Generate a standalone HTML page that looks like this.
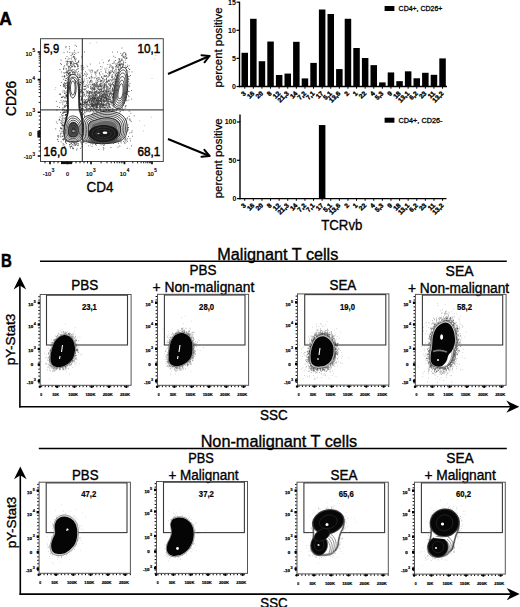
<!DOCTYPE html>
<html><head><meta charset="utf-8"><style>
html,body{margin:0;padding:0;background:#fff;width:520px;height:607px;overflow:hidden}
svg{display:block}
</style></head><body>
<svg width="520" height="607" viewBox="0 0 520 607" font-family='"Liberation Sans", sans-serif'>
<rect width="520" height="607" fill="#fff"/>
<text x="-0.80" y="25.30" font-size="18" text-anchor="start" font-weight="bold" fill="#000" stroke="#000" stroke-width="0.5" textLength="12.6" lengthAdjust="spacingAndGlyphs" >A</text>
<path d="M98.4,98.6h0.8M98.7,89.5h0.8M91.7,90.7h0.8M112.1,97.7h0.8M111.4,95.7h0.8M104.9,95.0h0.8M84.3,102.4h0.8M106.1,98.5h0.8M84.1,73.8h0.8M92.1,87.8h0.8M104.1,92.5h0.8M106.2,85.9h0.8M104.1,97.3h0.8M94.4,111.9h0.8M106.6,106.2h0.8M94.8,84.9h0.8M97.6,91.8h0.8M107.3,95.7h0.8M96.5,82.5h0.8M95.8,106.4h0.8M92.9,95.7h0.8M105.3,76.6h0.8M101.5,107.4h0.8M80.9,89.5h0.8M99.9,84.0h0.8M106.0,92.3h0.8M86.4,102.1h0.8M107.7,103.4h0.8M115.4,97.0h0.8M102.2,78.7h0.8M107.2,86.3h0.8M96.5,79.1h0.8M91.3,87.2h0.8M113.9,70.7h0.8M86.4,95.6h0.8M115.4,99.4h0.8M82.0,65.3h0.8M104.6,84.9h0.8M89.8,103.8h0.8M112.0,94.7h0.8M103.5,97.8h0.8M116.9,99.8h0.8M106.2,99.0h0.8M85.3,107.1h0.8M110.6,98.8h0.8M81.3,86.0h0.8M109.4,73.1h0.8M99.2,104.2h0.8M87.9,110.7h0.8M106.5,91.3h0.8M104.2,100.1h0.8M102.2,105.6h0.8M94.4,88.4h0.8M111.4,93.3h0.8M92.2,103.4h0.8M115.7,88.1h0.8M87.2,91.5h0.8M99.5,89.7h0.8M115.0,81.7h0.8M113.6,79.0h0.8M93.1,99.9h0.8M112.3,102.4h0.8M104.5,94.6h0.8M102.5,99.3h0.8M99.2,96.1h0.8M106.7,93.0h0.8M108.6,99.2h0.8M121.1,96.6h0.8M96.7,88.9h0.8M100.9,103.2h0.8M97.6,97.2h0.8M119.4,64.8h0.8M89.8,95.7h0.8M105.0,95.6h0.8M96.7,100.2h0.8M103.8,87.3h0.8M95.5,91.9h0.8M98.7,92.3h0.8M111.1,80.1h0.8M100.3,103.5h0.8M109.6,109.4h0.8M84.0,89.1h0.8M97.6,99.9h0.8M111.9,63.5h0.8M111.9,77.1h0.8M107.8,76.6h0.8M102.8,106.1h0.8M99.5,95.1h0.8M109.0,94.6h0.8M100.1,109.9h0.8M111.5,89.8h0.8M110.1,90.1h0.8M102.3,100.8h0.8M103.2,100.0h0.8M85.7,76.4h0.8M107.1,82.4h0.8M90.7,76.8h0.8M113.7,101.2h0.8M115.7,82.7h0.8M101.0,80.5h0.8M108.7,110.5h0.8M92.1,110.2h0.8M110.9,91.0h0.8M81.3,108.5h0.8M100.0,86.4h0.8M105.0,97.5h0.8M116.0,81.8h0.8M112.4,109.4h0.8M115.5,91.0h0.8M93.6,104.2h0.8M102.2,94.4h0.8M115.2,90.1h0.8M82.5,102.0h0.8M104.2,86.3h0.8M100.9,102.2h0.8M101.8,107.6h0.8M100.4,104.4h0.8M115.9,110.7h0.8M94.3,102.7h0.8M82.2,81.1h0.8M81.4,104.8h0.8M88.7,92.9h0.8M99.1,92.7h0.8M95.1,95.6h0.8M118.9,93.5h0.8M106.3,104.0h0.8M99.0,79.1h0.8M95.4,104.8h0.8M84.5,86.4h0.8M111.1,101.7h0.8M101.1,101.9h0.8M102.7,80.0h0.8M85.4,86.0h0.8M110.2,86.8h0.8M92.0,84.5h0.8M85.7,91.7h0.8M89.2,97.0h0.8M94.6,71.6h0.8M108.2,90.0h0.8M103.9,88.0h0.8M108.8,101.2h0.8M107.7,96.6h0.8M114.3,100.3h0.8M105.5,70.1h0.8M110.0,107.4h0.8M98.0,87.8h0.8M120.4,73.7h0.8M91.7,100.6h0.8M119.9,91.7h0.8M106.6,102.9h0.8M91.9,92.0h0.8M103.9,102.1h0.8M100.7,90.9h0.8M90.8,89.1h0.8M109.9,94.1h0.8M92.5,83.7h0.8M107.4,64.5h0.8M107.2,98.3h0.8M117.8,97.7h0.8M100.3,98.7h0.8M81.6,104.4h0.8M104.2,85.3h0.8M87.0,85.7h0.8M103.9,95.0h0.8M97.0,82.3h0.8M122.2,104.4h0.8M89.1,78.2h0.8M118.0,103.9h0.8M119.2,101.9h0.8M92.3,95.9h0.8M100.4,98.8h0.8M93.7,91.6h0.8M105.6,97.1h0.8M107.4,95.3h0.8M97.8,101.7h0.8M101.5,83.9h0.8M94.7,93.0h0.8M99.9,94.7h0.8M101.0,94.9h0.8M99.7,79.2h0.8M105.2,104.6h0.8M105.3,90.9h0.8M105.5,82.4h0.8M82.0,93.7h0.8M91.7,101.1h0.8M90.2,64.1h0.8M90.6,110.4h0.8M97.2,77.9h0.8M93.4,98.7h0.8M106.0,94.9h0.8M115.8,100.8h0.8M100.8,99.6h0.8M117.5,103.7h0.8M111.2,81.1h0.8M99.5,101.0h0.8M98.0,104.8h0.8M107.0,103.0h0.8M113.4,90.6h0.8M97.6,102.6h0.8M110.8,93.1h0.8M89.3,95.1h0.8M104.6,105.4h0.8M108.8,93.3h0.8M109.5,98.9h0.8M103.1,93.6h0.8M98.6,100.5h0.8M90.5,86.1h0.8M101.0,76.9h0.8M96.6,70.9h0.8M94.2,99.3h0.8M106.7,92.4h0.8M98.7,77.4h0.8M119.3,98.7h0.8M111.9,83.3h0.8M99.1,73.0h0.8M108.8,103.3h0.8M82.0,92.4h0.8M107.3,73.6h0.8M82.7,81.3h0.8M94.7,77.6h0.8M101.3,95.7h0.8M107.3,100.7h0.8M116.0,105.8h0.8M87.9,87.4h0.8M90.4,81.2h0.8M100.2,93.1h0.8M105.9,75.5h0.8M88.6,92.7h0.8M99.0,89.6h0.8M100.4,84.6h0.8M108.0,96.9h0.8M100.1,85.6h0.8M99.3,63.1h0.8M91.2,93.4h0.8M86.0,95.2h0.8M102.5,77.8h0.8M98.5,89.5h0.8M105.6,99.7h0.8M100.6,83.6h0.8M99.6,92.3h0.8M108.3,96.2h0.8M93.8,78.1h0.8M97.3,84.9h0.8M89.9,91.7h0.8M96.1,94.2h0.8M106.2,88.5h0.8M112.0,94.3h0.8M112.2,66.9h0.8M93.5,95.7h0.8M104.2,107.1h0.8M108.7,103.4h0.8M106.1,91.3h0.8M106.1,81.1h0.8M112.8,81.8h0.8M98.8,93.2h0.8M112.6,93.3h0.8M92.9,95.8h0.8M106.8,100.8h0.8M117.7,93.2h0.8M103.7,88.3h0.8M115.1,85.2h0.8M107.7,87.7h0.8M94.1,100.9h0.8M114.3,92.9h0.8M94.2,101.9h0.8M100.5,96.4h0.8M116.2,105.4h0.8M101.0,101.6h0.8M94.5,92.5h0.8M114.7,79.6h0.8M85.9,75.2h0.8M112.8,87.9h0.8M100.4,89.6h0.8M99.8,81.0h0.8M101.2,77.2h0.8M100.3,96.4h0.8M105.7,90.5h0.8M92.0,94.8h0.8M96.2,110.2h0.8M108.7,91.7h0.8M96.3,85.3h0.8M91.6,89.1h0.8M103.9,98.7h0.8M94.0,93.1h0.8M95.8,94.9h0.8M102.5,97.5h0.8M98.6,97.0h0.8M101.5,101.5h0.8M82.1,83.3h0.8M101.0,81.6h0.8M90.6,99.9h0.8M94.5,100.0h0.8M108.5,96.4h0.8M106.1,91.8h0.8M86.9,92.7h0.8M105.5,87.2h0.8M100.0,101.2h0.8M92.2,100.0h0.8M119.6,86.9h0.8M102.5,91.3h0.8M116.4,96.5h0.8M110.0,85.4h0.8M100.8,92.9h0.8M83.2,108.8h0.8M110.0,73.8h0.8M108.4,91.6h0.8M105.5,97.0h0.8M86.0,90.7h0.8M115.9,86.7h0.8M90.8,78.0h0.8M88.8,96.7h0.8M117.9,97.7h0.8M95.8,85.6h0.8M106.3,99.0h0.8M90.9,80.1h0.8M103.9,95.7h0.8M87.9,90.8h0.8M95.6,98.1h0.8M99.8,92.1h0.8M97.5,104.6h0.8M114.9,89.0h0.8M109.5,84.7h0.8M101.7,101.2h0.8M116.1,88.8h0.8M100.3,95.2h0.8M86.0,93.2h0.8M94.2,97.1h0.8M89.7,71.3h0.8M101.4,95.9h0.8M95.5,102.8h0.8M98.3,86.3h0.8M105.8,75.7h0.8M94.2,92.8h0.8M109.5,91.2h0.8M104.1,85.8h0.8M104.0,111.3h0.8M94.6,93.2h0.8M102.7,104.3h0.8M88.6,69.9h0.8M107.1,101.7h0.8M103.0,95.8h0.8M110.3,97.1h0.8M117.6,79.4h0.8M109.1,88.9h0.8M100.9,90.2h0.8M96.0,83.8h0.8M94.7,100.0h0.8M101.4,93.7h0.8M99.3,103.1h0.8M105.9,91.4h0.8M107.6,91.3h0.8M89.5,109.0h0.8M105.7,82.5h0.8M111.8,96.8h0.8M85.4,110.7h0.8M104.3,102.8h0.8M103.0,91.4h0.8M85.5,103.7h0.8M101.3,89.8h0.8M104.5,93.9h0.8M107.8,88.9h0.8M100.6,69.5h0.8M96.8,100.4h0.8M114.4,89.0h0.8M99.8,110.4h0.8M97.7,101.1h0.8M117.8,93.4h0.8M113.3,85.2h0.8M103.1,92.1h0.8M102.1,105.4h0.8M95.2,98.5h0.8M90.4,98.5h0.8M106.7,89.9h0.8M106.3,76.0h0.8M108.6,76.0h0.8M94.0,86.9h0.8M97.0,102.4h0.8M101.8,88.6h0.8M106.4,110.4h0.8M101.1,97.0h0.8M113.4,95.9h0.8M123.1,71.2h0.8M100.6,97.6h0.8M110.7,100.4h0.8M98.3,81.4h0.8M102.0,104.4h0.8M90.1,81.7h0.8M100.8,71.7h0.8M98.4,88.2h0.8M105.5,85.3h0.8M92.2,88.7h0.8M100.5,85.7h0.8M101.1,101.3h0.8M112.9,111.8h0.8M93.2,88.4h0.8M93.8,92.6h0.8M106.2,78.1h0.8M105.6,92.7h0.8M82.7,96.2h0.8M112.9,72.5h0.8M109.1,95.3h0.8M105.7,97.9h0.8M114.0,90.5h0.8M109.7,88.5h0.8M108.3,84.0h0.8M105.5,91.3h0.8M89.6,84.3h0.8M102.9,103.3h0.8M105.3,98.8h0.8M100.6,107.9h0.8M97.1,87.0h0.8M109.9,93.7h0.8M98.2,86.7h0.8M98.4,99.9h0.8M104.5,79.7h0.8M105.3,95.0h0.8M91.0,101.5h0.8M98.2,89.3h0.8M109.0,107.5h0.8M94.1,97.8h0.8M96.1,106.1h0.8M94.5,101.9h0.8M123.2,65.0h0.8M96.7,98.5h0.8M100.1,85.6h0.8M122.5,93.9h0.8M84.6,102.4h0.8M83.8,105.7h0.8M95.2,94.6h0.8M113.6,94.3h0.8M87.1,74.3h0.8M112.8,101.1h0.8M92.8,102.5h0.8M106.0,100.1h0.8M110.0,101.1h0.8M109.8,66.0h0.8M102.7,98.4h0.8M97.7,93.4h0.8M109.9,88.1h0.8M112.5,84.3h0.8M103.7,87.2h0.8M102.6,85.4h0.8M85.0,105.0h0.8M104.0,86.9h0.8M103.0,103.9h0.8M91.2,91.8h0.8M106.4,98.8h0.8M97.6,69.8h0.8M113.4,96.6h0.8M101.1,89.9h0.8M103.6,88.3h0.8M90.8,84.9h0.8M95.0,86.3h0.8M89.4,100.0h0.8M87.9,100.3h0.8M90.9,96.9h0.8M114.7,95.2h0.8M93.7,93.5h0.8M102.5,73.9h0.8M94.9,94.8h0.8M96.3,93.9h0.8M108.3,101.4h0.8M110.1,99.5h0.8M98.1,92.8h0.8M98.3,89.6h0.8M99.2,74.0h0.8M97.7,92.7h0.8M91.3,92.7h0.8M106.2,91.2h0.8M121.8,64.3h0.8M98.9,72.9h0.8M106.2,89.7h0.8M106.5,68.3h0.8M109.5,97.1h0.8M101.2,86.5h0.8M107.4,87.7h0.8M103.2,87.4h0.8M103.0,101.3h0.8M92.2,92.6h0.8M107.2,94.6h0.8M91.9,71.9h0.8M109.6,109.8h0.8M110.2,102.0h0.8M94.8,85.2h0.8M109.9,83.0h0.8M82.9,82.0h0.8M94.1,85.0h0.8M103.3,84.8h0.8M114.1,92.1h0.8M90.1,107.4h0.8M95.2,95.4h0.8M100.9,89.5h0.8M104.2,85.4h0.8M82.6,68.7h0.8M88.3,84.7h0.8M100.8,93.6h0.8M106.6,94.3h0.8M93.1,85.2h0.8M105.8,98.8h0.8M99.8,91.1h0.8M110.4,93.2h0.8M108.4,99.4h0.8M103.1,107.4h0.8M95.3,89.1h0.8M92.9,84.2h0.8M101.2,99.3h0.8M112.8,101.9h0.8M113.1,79.1h0.8M94.6,98.0h0.8M115.4,94.1h0.8M92.4,89.1h0.8M94.4,83.6h0.8M116.0,86.1h0.8M112.8,96.7h0.8M94.9,97.5h0.8M117.2,99.9h0.8M113.6,94.1h0.8M106.2,90.8h0.8M105.3,107.3h0.8M86.7,92.3h0.8M103.4,86.7h0.8M97.9,101.7h0.8M121.0,99.9h0.8M104.3,75.9h0.8M120.3,93.8h0.8M100.7,80.7h0.8M100.4,80.9h0.8M101.7,98.1h0.8M101.3,96.1h0.8M92.5,108.7h0.8M94.5,73.0h0.8M99.1,84.6h0.8M90.9,89.1h0.8M103.9,80.0h0.8M99.6,108.7h0.8M107.8,91.3h0.8M102.3,91.7h0.8M100.5,101.1h0.8M100.1,66.6h0.8M100.8,83.2h0.8M107.5,86.3h0.8M90.5,80.6h0.8M86.9,66.7h0.8M82.2,97.0h0.8M94.6,72.5h0.8M86.2,99.8h0.8M93.2,89.0h0.8M104.3,107.9h0.8M120.4,104.4h0.8M102.4,95.0h0.8M119.0,108.7h0.8M97.9,98.0h0.8M103.9,93.6h0.8M96.0,78.4h0.8M95.7,76.0h0.8M113.2,98.9h0.8M88.9,108.4h0.8M109.9,72.0h0.8M119.4,101.9h0.8M121.6,79.5h0.8M106.3,97.7h0.8M103.0,94.9h0.8M111.5,76.6h0.8M88.6,77.7h0.8M95.4,86.3h0.8M104.7,95.9h0.8M101.3,85.6h0.8M96.6,103.5h0.8M108.6,94.1h0.8M97.8,110.1h0.8M95.1,100.1h0.8M112.5,90.1h0.8M109.3,80.7h0.8M111.1,95.2h0.8M85.1,100.4h0.8M92.1,107.1h0.8M94.2,91.2h0.8M103.8,89.3h0.8M103.6,86.9h0.8M107.7,93.1h0.8M103.1,62.7h0.8M112.6,93.4h0.8M83.2,94.1h0.8M105.7,104.8h0.8M90.2,110.0h0.8M99.5,100.5h0.8M97.3,80.7h0.8M112.0,103.0h0.8M116.4,102.4h0.8M95.3,74.7h0.8M94.5,85.6h0.8M92.8,99.4h0.8M104.3,90.0h0.8M102.7,91.4h0.8M103.1,101.3h0.8M110.6,85.5h0.8M85.9,108.7h0.8M102.1,105.2h0.8M84.6,89.4h0.8M101.3,77.1h0.8M95.8,101.0h0.8M111.8,110.5h0.8M92.4,77.6h0.8M106.2,103.3h0.8M102.9,78.7h0.8M108.8,101.7h0.8M106.5,87.6h0.8M104.0,101.7h0.8M95.4,72.7h0.8M104.3,98.3h0.8M101.1,102.8h0.8M95.1,92.1h0.8M97.9,99.3h0.8M117.0,90.2h0.8M121.5,109.8h0.8M108.9,99.5h0.8M118.7,91.0h0.8M99.9,81.3h0.8M105.7,107.8h0.8M106.3,97.7h0.8M99.0,94.9h0.8M86.7,104.5h0.8M96.9,80.8h0.8M93.5,83.9h0.8M109.6,104.6h0.8M87.4,103.2h0.8M109.9,86.6h0.8M86.1,84.8h0.8M94.7,96.8h0.8M97.4,70.7h0.8M103.3,76.1h0.8M110.1,79.7h0.8M94.1,83.6h0.8M95.6,107.3h0.8M109.5,99.6h0.8M104.2,76.0h0.8M95.8,86.9h0.8M91.2,98.6h0.8M93.6,85.2h0.8M90.6,70.4h0.8M107.0,107.6h0.8M102.7,82.3h0.8M113.2,96.3h0.8M110.3,109.3h0.8M112.3,88.1h0.8M111.5,101.5h0.8M85.6,88.5h0.8M86.8,91.8h0.8M106.8,81.3h0.8M80.4,107.3h0.8M104.8,109.2h0.8M87.8,104.7h0.8M98.9,96.0h0.8M99.5,104.0h0.8M111.4,94.0h0.8M87.4,101.2h0.8M96.3,99.9h0.8M103.6,110.9h0.8M112.4,88.0h0.8M95.6,97.8h0.8M112.9,106.8h0.8M106.2,78.5h0.8M88.4,95.7h0.8M92.4,105.5h0.8M108.7,74.6h0.8M92.8,94.8h0.8M96.1,91.3h0.8M105.7,84.1h0.8M105.7,86.0h0.8M95.6,98.9h0.8M95.3,96.2h0.8M117.0,93.3h0.8M99.5,101.1h0.8M97.3,104.9h0.8M88.2,99.8h0.8M95.9,84.2h0.8M118.7,83.6h0.8M118.6,100.2h0.8M115.5,82.3h0.8M113.0,109.0h0.8M99.8,91.6h0.8M96.8,86.1h0.8M105.5,96.6h0.8M102.8,111.9h0.8M97.7,98.2h0.8M115.6,82.0h0.8M87.5,80.9h0.8M90.6,72.7h0.8M105.5,72.6h0.8M106.0,109.0h0.8M84.8,89.5h0.8M81.8,101.6h0.8M93.6,90.1h0.8M101.5,99.0h0.8M97.5,93.2h0.8M95.5,94.3h0.8M89.3,93.7h0.8M81.7,87.6h0.8M120.2,93.9h0.8M88.4,95.8h0.8M91.3,74.8h0.8M93.6,101.1h0.8M104.8,91.9h0.8M91.7,81.1h0.8M114.5,95.7h0.8M91.5,69.8h0.8M89.5,92.2h0.8M103.1,91.3h0.8M98.2,77.9h0.8M90.5,111.6h0.8M93.4,102.3h0.8M84.1,90.0h0.8M103.6,104.4h0.8M89.8,99.5h0.8M104.9,84.9h0.8M105.8,83.1h0.8M93.0,92.8h0.8M91.0,76.9h0.8M96.7,101.4h0.8M97.0,106.9h0.8M89.4,78.6h0.8M116.5,97.4h0.8M110.5,83.9h0.8M109.0,95.9h0.8M107.5,93.3h0.8M113.1,85.9h0.8M91.4,76.7h0.8M112.6,84.9h0.8M90.6,82.7h0.8M96.5,79.0h0.8M98.1,86.1h0.8M95.5,82.4h0.8M101.4,87.9h0.8M102.1,95.7h0.8M104.4,68.9h0.8M95.6,84.2h0.8M108.7,75.6h0.8M93.9,89.8h0.8M97.6,103.9h0.8M96.6,103.6h0.8M86.3,73.1h0.8M113.2,97.8h0.8M105.9,94.4h0.8M105.8,79.6h0.8M110.5,87.1h0.8M110.9,94.0h0.8M81.3,78.8h0.8M112.3,91.5h0.8M97.0,95.7h0.8M96.7,87.0h0.8M102.0,94.6h0.8M116.2,93.5h0.8M118.2,104.7h0.8M102.3,94.5h0.8M99.6,85.0h0.8M100.3,86.0h0.8M117.4,98.9h0.8M96.5,71.9h0.8M100.5,88.4h0.8M90.1,80.5h0.8M100.7,91.4h0.8M115.4,94.5h0.8M102.7,88.9h0.8M94.9,109.5h0.8M111.0,111.9h0.8M97.5,93.3h0.8M92.2,103.6h0.8M87.1,99.2h0.8M112.0,108.5h0.8M91.6,105.0h0.8M93.9,84.7h0.8M87.8,105.7h0.8M117.5,86.5h0.8M93.4,89.3h0.8M95.6,73.3h0.8M94.3,106.1h0.8M119.7,90.1h0.8M94.1,87.4h0.8M82.1,103.0h0.8M90.1,104.7h0.8M83.9,79.0h0.8M103.9,84.6h0.8M108.8,93.1h0.8M89.3,99.8h0.8M109.4,72.0h0.8M119.3,98.5h0.8M108.6,72.5h0.8M93.8,89.2h0.8M111.8,76.9h0.8M92.2,70.7h0.8M98.6,96.8h0.8M84.1,86.5h0.8M106.1,110.4h0.8M107.6,89.7h0.8M89.2,82.7h0.8M94.4,94.6h0.8M100.5,111.3h0.8M103.9,81.2h0.8M116.4,103.4h0.8M102.0,85.1h0.8M82.3,81.8h0.8M110.1,84.2h0.8M87.8,95.2h0.8M103.4,99.7h0.8M107.6,108.5h0.8M92.6,103.8h0.8M91.1,100.6h0.8M102.8,95.7h0.8M110.7,92.8h0.8M112.1,102.6h0.8M102.4,86.8h0.8M93.5,87.2h0.8M99.0,92.7h0.8M108.7,83.5h0.8M93.9,89.5h0.8M102.9,81.6h0.8M117.1,86.8h0.8M111.8,67.3h0.8M100.9,96.1h0.8M102.9,99.6h0.8M103.8,94.8h0.8M82.1,85.2h0.8M104.1,90.9h0.8M92.8,86.6h0.8M100.4,107.2h0.8M85.1,71.7h0.8M96.2,83.4h0.8M95.4,95.1h0.8M101.5,96.0h0.8M100.7,103.2h0.8M118.8,79.3h0.8M102.6,90.1h0.8M104.6,76.2h0.8M83.4,67.5h0.8M106.3,95.1h0.8M101.7,67.0h0.8M97.3,84.7h0.8M86.9,82.9h0.8M108.0,99.0h0.8M100.8,98.7h0.8M95.0,93.8h0.8M101.4,99.1h0.8M100.3,91.4h0.8M99.7,85.9h0.8M123.3,98.7h0.8M115.0,75.9h0.8M108.0,102.2h0.8M119.8,107.5h0.8M108.7,80.1h0.8M92.3,96.0h0.8M106.0,81.8h0.8M97.2,88.6h0.8M101.6,96.7h0.8M98.1,79.4h0.8M113.4,110.6h0.8M99.9,104.3h0.8M105.4,100.3h0.8M105.8,84.6h0.8M106.7,104.1h0.8M120.9,101.2h0.8M97.6,86.4h0.8M92.9,94.3h0.8M100.7,100.4h0.8M123.8,92.7h0.8M107.8,98.2h0.8M103.7,90.7h0.8M99.8,83.9h0.8M102.8,92.7h0.8M104.2,83.6h0.8M101.4,93.5h0.8M107.0,81.3h0.8M105.2,103.8h0.8M107.0,88.9h0.8M96.1,90.4h0.8M108.3,110.1h0.8M99.4,85.9h0.8M104.8,95.2h0.8M91.9,84.9h0.8M100.0,100.4h0.8M89.1,81.8h0.8M106.0,79.5h0.8M102.1,96.9h0.8M99.9,81.8h0.8M100.4,89.3h0.8M104.4,83.8h0.8M111.9,74.6h0.8M99.2,93.1h0.8M110.6,86.3h0.8M106.5,86.8h0.8M97.0,97.9h0.8M91.7,103.7h0.8M113.1,93.4h0.8M89.7,97.4h0.8M112.5,105.0h0.8M109.1,72.9h0.8M94.2,108.6h0.8M88.7,105.4h0.8M119.8,101.4h0.8M112.2,89.3h0.8M88.7,91.9h0.8M99.0,92.5h0.8M108.0,91.4h0.8M102.9,97.7h0.8M105.4,93.9h0.8M98.9,86.1h0.8M114.4,94.7h0.8M90.2,86.8h0.8M99.6,88.1h0.8M111.8,80.2h0.8M105.9,94.6h0.8M89.2,93.5h0.8M100.1,98.5h0.8M96.5,96.3h0.8M84.3,81.1h0.8M108.8,104.5h0.8M100.9,86.4h0.8M111.8,70.0h0.8M93.0,100.4h0.8M107.5,81.6h0.8M82.1,109.0h0.8M102.5,83.1h0.8M101.5,102.9h0.8M108.4,70.1h0.8M108.7,73.4h0.8M112.4,97.4h0.8M123.5,86.3h0.8M101.0,104.5h0.8M94.6,85.2h0.8M97.3,92.2h0.8M90.2,98.3h0.8M106.4,93.8h0.8M118.0,89.4h0.8M114.1,87.0h0.8M108.6,71.7h0.8M103.0,91.1h0.8M96.0,86.3h0.8M97.5,85.1h0.8M95.5,87.2h0.8M90.4,91.5h0.8M108.8,90.2h0.8M96.1,107.9h0.8M110.8,103.1h0.8M112.6,89.4h0.8M99.7,105.2h0.8M95.5,91.7h0.8M104.8,97.1h0.8M98.2,103.8h0.8M99.2,101.0h0.8M111.7,100.3h0.8M108.3,80.2h0.8M87.9,86.2h0.8M105.8,109.5h0.8M88.8,96.4h0.8M92.5,84.9h0.8M98.2,100.6h0.8M103.1,106.0h0.8M91.1,102.8h0.8M110.3,93.8h0.8M105.8,86.8h0.8M90.1,88.5h0.8M96.1,111.2h0.8M103.0,96.4h0.8M108.4,84.4h0.8M110.2,97.1h0.8M85.8,99.6h0.8M106.5,98.0h0.8M116.8,88.4h0.8M106.1,101.2h0.8M92.0,106.2h0.8M86.5,78.7h0.8M106.2,81.0h0.8M99.8,74.9h0.8M101.7,80.5h0.8M104.4,76.1h0.8M105.5,90.1h0.8M101.6,92.3h0.8M102.3,78.5h0.8M91.6,88.0h0.8M105.3,71.2h0.8M93.4,86.3h0.8M90.4,96.6h0.8M99.6,84.0h0.8M91.2,101.9h0.8M94.4,99.4h0.8M105.5,72.2h0.8M90.2,93.0h0.8M104.4,101.6h0.8M109.0,104.4h0.8M97.3,90.7h0.8M108.8,88.3h0.8M111.6,75.5h0.8M107.5,91.1h0.8M81.3,103.8h0.8M104.1,93.2h0.8M90.2,87.9h0.8M116.1,83.9h0.8M89.0,91.5h0.8M97.1,83.0h0.8M92.6,104.5h0.8M95.6,81.0h0.8M108.9,99.2h0.8M90.6,101.2h0.8M82.6,82.8h0.8M112.3,90.2h0.8M88.0,98.7h0.8M110.2,92.8h0.8M82.9,89.2h0.8M105.2,101.5h0.8M119.5,90.2h0.8M96.2,92.6h0.8M113.1,82.6h0.8M114.1,62.8h0.8M109.0,85.6h0.8M105.6,100.6h0.8M89.2,92.0h0.8M103.4,99.5h0.8M91.7,82.1h0.8M99.1,90.6h0.8M86.1,103.2h0.8M95.7,108.8h0.8M109.5,93.2h0.8M108.3,80.8h0.8M97.7,86.7h0.8M88.3,93.2h0.8M99.6,108.8h0.8M91.8,87.9h0.8M105.2,97.4h0.8M101.3,87.8h0.8" stroke="#444" stroke-width="0.8" fill="none"/>
<path d="M100.5,105.2h0.8M83.6,95.9h0.8M97.3,103.4h0.8M97.0,97.7h0.8M94.2,97.5h0.8M99.4,107.1h0.8M111.8,110.6h0.8M88.8,100.3h0.8M87.6,104.8h0.8M113.8,107.3h0.8M84.4,106.1h0.8M96.0,104.8h0.8M112.0,98.0h0.8M99.1,98.3h0.8M96.4,109.0h0.8M94.7,98.8h0.8M80.1,104.0h0.8M96.2,106.7h0.8M92.4,106.0h0.8M103.3,102.1h0.8M91.9,101.9h0.8M87.3,101.8h0.8M93.3,104.3h0.8M108.0,110.8h0.8M92.0,106.6h0.8M98.7,107.6h0.8M96.2,104.6h0.8M91.8,98.3h0.8M103.8,110.8h0.8M102.0,105.6h0.8M98.4,100.3h0.8M97.8,99.7h0.8M87.3,110.7h0.8M89.5,102.9h0.8M91.4,103.9h0.8M94.1,98.5h0.8M105.7,98.3h0.8M91.4,106.3h0.8M91.2,100.4h0.8M99.2,100.8h0.8M84.8,102.4h0.8M86.1,108.8h0.8M88.9,100.9h0.8M93.1,104.6h0.8M90.3,111.0h0.8M105.0,107.9h0.8M89.2,108.4h0.8M95.0,105.1h0.8M93.6,107.0h0.8M106.0,109.8h0.8M94.2,109.0h0.8M109.1,97.4h0.8M109.3,95.0h0.8M100.9,106.6h0.8M109.3,104.7h0.8M91.7,98.2h0.8M84.7,107.6h0.8M93.9,98.7h0.8M100.8,98.4h0.8M92.1,100.2h0.8M110.9,111.8h0.8M94.6,93.6h0.8M98.5,103.4h0.8M99.1,106.4h0.8M93.1,108.6h0.8M103.5,104.3h0.8M92.3,100.1h0.8M102.2,96.4h0.8M94.6,98.5h0.8M83.5,106.6h0.8M95.8,103.2h0.8M103.9,94.0h0.8M95.4,104.7h0.8M103.5,96.5h0.8M102.4,104.3h0.8M108.2,109.8h0.8M96.0,100.5h0.8M92.9,97.4h0.8M95.7,91.7h0.8M95.2,105.6h0.8M104.9,100.9h0.8M108.5,99.1h0.8M94.8,91.7h0.8M89.1,98.3h0.8M109.1,106.1h0.8M86.3,106.1h0.8M100.2,101.6h0.8M96.2,101.2h0.8M91.2,92.6h0.8M95.2,110.5h0.8M108.6,101.4h0.8M89.4,101.8h0.8M103.9,105.1h0.8M90.9,105.1h0.8M94.2,106.0h0.8M92.4,94.4h0.8M96.5,107.5h0.8M86.3,102.4h0.8M103.7,100.8h0.8M103.3,109.0h0.8M81.5,100.0h0.8M102.5,110.8h0.8M87.9,99.1h0.8M97.7,91.7h0.8M101.6,106.3h0.8M92.1,106.1h0.8M102.8,104.8h0.8M100.6,111.8h0.8M91.8,103.9h0.8M91.4,109.0h0.8M92.4,105.8h0.8M97.2,103.4h0.8M111.0,102.5h0.8M108.4,107.8h0.8M107.5,102.0h0.8M104.1,107.4h0.8M90.7,104.6h0.8M94.9,102.8h0.8M107.3,98.8h0.8M81.4,92.9h0.8M92.1,99.3h0.8M96.1,106.3h0.8M111.3,104.8h0.8M100.0,98.7h0.8M101.0,110.9h0.8M107.6,91.7h0.8M103.2,94.4h0.8M93.3,106.4h0.8M99.6,98.3h0.8M88.3,108.6h0.8M84.4,111.3h0.8M96.2,104.7h0.8M84.4,99.6h0.8M102.0,94.5h0.8M113.9,94.9h0.8M85.4,103.2h0.8M100.2,107.2h0.8M92.8,101.8h0.8M94.0,99.7h0.8M98.2,103.9h0.8M90.6,104.4h0.8M95.9,102.6h0.8M105.6,93.1h0.8M98.2,96.9h0.8M93.3,111.6h0.8M86.6,102.4h0.8M90.9,108.5h0.8M87.5,93.3h0.8M100.4,101.0h0.8M93.2,109.2h0.8M88.3,100.8h0.8M97.3,105.4h0.8M91.5,109.0h0.8M115.4,100.6h0.8M112.2,90.8h0.8M108.2,101.0h0.8M97.2,101.0h0.8M90.5,95.6h0.8M92.6,110.5h0.8M105.9,101.0h0.8M91.4,99.0h0.8M101.7,103.7h0.8M91.8,97.1h0.8M107.4,107.5h0.8M87.8,108.7h0.8M86.4,106.7h0.8M87.7,100.6h0.8M100.3,105.5h0.8M104.7,98.2h0.8M109.6,110.7h0.8M95.9,105.7h0.8M89.3,102.1h0.8M84.6,103.5h0.8M97.7,110.7h0.8M104.2,107.7h0.8M92.9,101.7h0.8M93.1,104.3h0.8M82.5,100.0h0.8M96.2,100.0h0.8M110.4,102.4h0.8M109.6,109.8h0.8M91.7,105.3h0.8M107.2,101.1h0.8M96.8,99.8h0.8M96.5,101.0h0.8M96.7,108.8h0.8M108.0,103.8h0.8M97.7,107.9h0.8M93.5,96.9h0.8M105.6,97.6h0.8M104.0,97.4h0.8M111.8,97.0h0.8M103.3,111.6h0.8M87.7,111.6h0.8M88.9,92.8h0.8M102.2,107.0h0.8M94.2,88.5h0.8M95.5,101.2h0.8M92.7,101.3h0.8M80.5,99.7h0.8M111.6,111.9h0.8M92.9,98.9h0.8M99.4,109.1h0.8M102.2,96.3h0.8M97.4,103.8h0.8M108.4,109.9h0.8M100.5,110.0h0.8M92.6,111.9h0.8M92.3,105.3h0.8M103.9,97.7h0.8M89.9,92.9h0.8M97.4,102.7h0.8M93.2,105.9h0.8M96.8,101.5h0.8M92.1,97.6h0.8M90.8,103.5h0.8M101.1,98.0h0.8M104.6,97.1h0.8M103.1,105.5h0.8M93.7,102.0h0.8M100.1,108.0h0.8M84.4,104.6h0.8M89.6,106.6h0.8M107.8,103.3h0.8M95.1,104.1h0.8M100.8,103.9h0.8M92.6,98.8h0.8M94.5,110.0h0.8M95.1,110.8h0.8M98.4,102.9h0.8M81.7,99.2h0.8M106.8,95.6h0.8M87.4,96.7h0.8M91.2,106.7h0.8M101.1,91.3h0.8M108.6,99.6h0.8M95.3,95.9h0.8M90.5,98.8h0.8M87.3,101.1h0.8M103.6,105.0h0.8M87.4,103.7h0.8M96.3,107.4h0.8M93.2,105.6h0.8M114.2,103.6h0.8M86.6,104.9h0.8M89.1,100.9h0.8M97.6,104.9h0.8M93.5,107.9h0.8M94.3,95.5h0.8M103.6,100.9h0.8M106.5,99.2h0.8M100.9,104.8h0.8M86.3,111.1h0.8M105.4,105.9h0.8M101.8,100.1h0.8M95.9,104.3h0.8M99.6,107.1h0.8M94.2,99.0h0.8M91.1,105.4h0.8M81.6,95.8h0.8M92.4,99.8h0.8M93.7,87.7h0.8M93.1,101.6h0.8M102.7,91.6h0.8M93.4,105.7h0.8M100.2,109.9h0.8M105.1,97.0h0.8M101.5,101.1h0.8M89.1,111.8h0.8M90.6,98.1h0.8M92.5,98.1h0.8M104.7,105.2h0.8M108.1,105.4h0.8M90.7,109.0h0.8M90.3,100.3h0.8M94.5,103.2h0.8M106.3,99.5h0.8M99.0,102.8h0.8M85.1,96.7h0.8M94.1,105.3h0.8M98.8,105.8h0.8M96.4,100.4h0.8M99.7,97.2h0.8M84.4,101.1h0.8M83.6,100.0h0.8M89.5,99.8h0.8M95.6,98.4h0.8M92.3,93.1h0.8M97.3,97.9h0.8M99.5,86.6h0.8M89.0,104.4h0.8M96.8,103.6h0.8M83.0,104.3h0.8M97.3,97.4h0.8M102.5,102.7h0.8M96.2,100.4h0.8M100.8,103.6h0.8M105.9,105.6h0.8M90.6,101.7h0.8M104.0,100.9h0.8M99.3,106.0h0.8M94.4,89.5h0.8M97.1,104.2h0.8M97.2,98.6h0.8M106.5,102.2h0.8M90.6,98.8h0.8M99.1,96.7h0.8M107.4,109.1h0.8M107.9,106.5h0.8M81.3,109.9h0.8M106.8,105.8h0.8M107.9,100.1h0.8M97.1,107.5h0.8M95.3,109.4h0.8M96.7,107.0h0.8M96.7,94.4h0.8M98.4,110.6h0.8M100.8,99.5h0.8M96.2,91.8h0.8M94.4,108.3h0.8M103.2,110.7h0.8M87.9,99.2h0.8M86.0,111.0h0.8M99.7,100.1h0.8M115.2,88.3h0.8M95.4,104.3h0.8M115.8,103.8h0.8M104.6,111.0h0.8M100.5,105.1h0.8M94.4,100.6h0.8M92.1,90.9h0.8M98.3,102.8h0.8M95.1,101.5h0.8M89.5,102.9h0.8M92.2,104.2h0.8M123.3,105.3h0.8M103.6,107.8h0.8M102.3,107.8h0.8M101.9,111.2h0.8M104.8,110.9h0.8M91.6,103.0h0.8M89.6,108.6h0.8M103.3,100.3h0.8M106.8,96.5h0.8M95.2,106.7h0.8M95.7,105.3h0.8M106.3,104.9h0.8M86.4,107.2h0.8M95.1,103.7h0.8M91.0,94.9h0.8M85.1,100.9h0.8M86.6,87.1h0.8M106.1,96.2h0.8M89.6,106.1h0.8M89.3,106.9h0.8M91.8,104.8h0.8M96.9,103.0h0.8M95.6,111.2h0.8M91.2,106.1h0.8M97.4,105.8h0.8M104.7,94.2h0.8M98.4,102.0h0.8M93.3,98.0h0.8M89.1,97.0h0.8M110.9,103.1h0.8M102.5,97.3h0.8M97.2,111.4h0.8M95.6,97.1h0.8M93.9,97.2h0.8M83.8,101.6h0.8M92.5,98.3h0.8M88.2,97.6h0.8M98.1,111.1h0.8M81.8,104.6h0.8M85.9,102.1h0.8M96.9,106.3h0.8M105.9,99.8h0.8M85.1,101.9h0.8M98.6,98.9h0.8M83.5,105.1h0.8M104.9,91.8h0.8M97.8,101.7h0.8M83.5,110.7h0.8M97.9,100.2h0.8M99.9,106.8h0.8M102.7,106.4h0.8M99.6,96.1h0.8M92.3,103.8h0.8M92.7,96.8h0.8M80.0,104.5h0.8M96.3,99.6h0.8M92.3,97.8h0.8M89.4,102.4h0.8M90.4,107.0h0.8M94.7,103.8h0.8M99.6,110.4h0.8M101.3,104.3h0.8M94.6,98.3h0.8M93.0,107.0h0.8M98.0,100.7h0.8M84.3,94.0h0.8M98.8,109.0h0.8M99.3,95.0h0.8M94.1,104.3h0.8M87.9,105.0h0.8M94.2,98.1h0.8M85.1,107.7h0.8M99.1,97.8h0.8M87.1,108.2h0.8M101.2,101.2h0.8M110.0,101.3h0.8M86.7,109.4h0.8M94.3,105.0h0.8M96.3,97.1h0.8M85.6,101.9h0.8M108.3,97.1h0.8M107.9,104.3h0.8M86.3,104.6h0.8M101.0,97.7h0.8M86.3,105.6h0.8M88.9,94.4h0.8M93.9,104.0h0.8M91.1,96.1h0.8M97.9,92.8h0.8M100.7,105.9h0.8M110.7,108.2h0.8M99.1,104.5h0.8M96.2,95.3h0.8M108.8,106.1h0.8M93.5,96.3h0.8M109.0,106.1h0.8M85.6,106.9h0.8M112.6,102.9h0.8M99.5,100.6h0.8M90.5,109.3h0.8M122.9,103.7h0.8M94.9,107.6h0.8M93.3,107.2h0.8M103.2,97.1h0.8M86.6,102.6h0.8M103.3,104.6h0.8M106.8,95.0h0.8M100.3,99.4h0.8M96.9,104.9h0.8M87.5,101.7h0.8M85.8,104.5h0.8M88.6,100.1h0.8M97.9,99.2h0.8M106.0,99.3h0.8M103.4,104.6h0.8M87.0,101.7h0.8" stroke="#333" stroke-width="0.8" fill="none"/>
<path d="M67.8,90.3h0.8M70.6,136.8h0.8M69.9,131.5h0.8M74.3,70.1h0.8M60.3,112.5h0.8M62.0,113.3h0.8M77.2,106.3h0.8M70.9,92.6h0.8M73.3,91.5h0.8M69.3,90.1h0.8M77.9,84.8h0.8M73.9,73.5h0.8M68.4,68.7h0.8M71.0,112.5h0.8M73.5,87.5h0.8M75.1,90.6h0.8M73.9,103.8h0.8M74.7,45.2h0.8M65.4,114.5h0.8M71.5,145.8h0.8M70.8,86.3h0.8M79.5,109.8h0.8M81.6,108.9h0.8M71.0,113.4h0.8M68.0,88.5h0.8M69.2,93.3h0.8M75.9,87.8h0.8M73.6,87.4h0.8M71.0,101.6h0.8M66.6,119.6h0.8M73.1,125.3h0.8M76.8,111.6h0.8M71.2,74.9h0.8M70.9,88.2h0.8M73.3,88.1h0.8M77.9,88.0h0.8M70.8,117.7h0.8M72.0,72.2h0.8M74.1,93.9h0.8M61.7,102.2h0.8M66.7,82.2h0.8M74.4,104.4h0.8M70.5,144.1h0.8M74.1,85.0h0.8M73.2,95.4h0.8M60.9,64.5h0.8M65.0,141.9h0.8M71.1,92.1h0.8M69.2,118.8h0.8M72.1,134.2h0.8M76.0,132.9h0.8M71.4,106.0h0.8M69.8,94.4h0.8M63.3,85.7h0.8M67.2,84.2h0.8M78.1,103.6h0.8M78.1,116.2h0.8M76.6,119.3h0.8M69.0,115.0h0.8M70.4,86.7h0.8M78.0,143.9h0.8M67.1,134.8h0.8M76.2,80.0h0.8M73.4,105.9h0.8M73.9,90.4h0.8M65.6,98.7h0.8M76.3,114.6h0.8M75.3,121.4h0.8M67.0,97.1h0.8M73.7,119.2h0.8M72.8,109.0h0.8M72.7,142.5h0.8M61.1,97.5h0.8M84.4,103.0h0.8M62.8,100.8h0.8M64.8,83.6h0.8M73.1,134.3h0.8M74.3,112.2h0.8M77.1,102.2h0.8M67.7,95.9h0.8M73.7,92.1h0.8M68.7,90.4h0.8M64.5,76.3h0.8M71.5,90.4h0.8M72.2,127.7h0.8M73.5,97.3h0.8M66.1,75.2h0.8M73.9,79.5h0.8M74.1,75.3h0.8M72.7,96.5h0.8M77.0,89.7h0.8M70.1,103.2h0.8M72.3,133.8h0.8M70.7,86.6h0.8M70.4,108.0h0.8M73.2,112.7h0.8M81.2,97.3h0.8M66.0,101.3h0.8M74.1,50.7h0.8M72.1,66.7h0.8M74.3,127.3h0.8M77.2,66.1h0.8M78.9,117.2h0.8M70.2,108.6h0.8M79.6,91.0h0.8M71.9,86.2h0.8M77.8,52.4h0.8M79.1,77.5h0.8M76.6,63.6h0.8M67.3,85.3h0.8M76.1,63.7h0.8M75.0,84.5h0.8M78.2,91.4h0.8M74.4,94.4h0.8M81.0,90.4h0.8M71.9,140.0h0.8M72.4,112.5h0.8M68.3,102.2h0.8M60.6,100.2h0.8M68.8,66.2h0.8M64.9,122.2h0.8M74.1,65.9h0.8M81.1,83.3h0.8M70.2,103.2h0.8M66.3,63.8h0.8M68.3,123.0h0.8M76.8,64.6h0.8M78.0,98.7h0.8M74.5,99.1h0.8M74.1,76.8h0.8M67.5,83.1h0.8M70.2,111.1h0.8M65.9,131.7h0.8M68.8,85.5h0.8M75.5,107.2h0.8M70.3,75.3h0.8M67.0,64.2h0.8M77.7,120.9h0.8M81.3,108.6h0.8M73.7,114.0h0.8M76.8,92.5h0.8M73.8,143.6h0.8M63.5,68.2h0.8M67.2,114.0h0.8M77.9,90.8h0.8M75.4,97.0h0.8M73.5,86.6h0.8M71.9,97.9h0.8M77.7,145.3h0.8M62.9,109.3h0.8M72.0,118.5h0.8M77.3,114.5h0.8M76.0,77.9h0.8M63.5,133.4h0.8M78.1,77.8h0.8M78.5,112.1h0.8M59.7,117.0h0.8M67.1,122.7h0.8M68.6,82.3h0.8M64.3,93.4h0.8M77.1,83.8h0.8M62.7,143.4h0.8M81.2,112.6h0.8M69.3,72.3h0.8M63.8,109.8h0.8M78.5,75.5h0.8M72.0,92.1h0.8M70.7,108.6h0.8M82.5,84.5h0.8M76.3,121.1h0.8M70.6,94.8h0.8M65.3,120.9h0.8M69.3,84.1h0.8M72.3,79.8h0.8M66.8,91.7h0.8M79.5,93.6h0.8M74.6,66.9h0.8M62.2,136.5h0.8M70.0,65.4h0.8M71.5,110.9h0.8M63.3,79.3h0.8M73.3,78.4h0.8M76.0,118.4h0.8M74.2,88.9h0.8M71.8,84.6h0.8M71.3,104.7h0.8M70.5,118.7h0.8M85.0,86.4h0.8M73.7,115.5h0.8M75.2,92.9h0.8M69.6,119.3h0.8M75.1,108.8h0.8M68.0,111.4h0.8M76.0,94.1h0.8M75.2,144.1h0.8M62.6,110.9h0.8M66.1,69.0h0.8M70.8,109.6h0.8M72.3,73.2h0.8M64.8,86.2h0.8M72.1,80.3h0.8M64.4,135.3h0.8M67.8,94.7h0.8M69.2,85.5h0.8M72.2,91.7h0.8M75.1,72.8h0.8M64.5,139.5h0.8M71.6,114.4h0.8M77.9,109.8h0.8M72.2,64.9h0.8M63.9,118.8h0.8M75.4,110.1h0.8M63.6,52.6h0.8M66.7,72.8h0.8M72.8,76.2h0.8M80.0,84.7h0.8M69.2,116.4h0.8M73.7,78.8h0.8M76.1,139.0h0.8M65.8,92.7h0.8M66.6,56.6h0.8M75.2,112.9h0.8M76.9,107.1h0.8M61.8,97.4h0.8M68.6,72.9h0.8M66.4,114.3h0.8M70.5,140.0h0.8M74.4,57.2h0.8M76.5,124.7h0.8M72.2,72.1h0.8M80.9,69.9h0.8M71.6,57.2h0.8M65.7,61.6h0.8M77.5,123.2h0.8M69.9,69.0h0.8M71.7,106.1h0.8M64.3,73.2h0.8M71.5,113.1h0.8M72.4,107.6h0.8M73.6,78.3h0.8M71.4,89.9h0.8M74.4,81.4h0.8M79.3,98.7h0.8M74.7,111.5h0.8M77.3,106.7h0.8M63.1,84.5h0.8M81.4,108.2h0.8M74.8,108.0h0.8M68.7,83.4h0.8M68.7,122.9h0.8M73.9,136.3h0.8M74.5,138.7h0.8M74.3,72.5h0.8M80.9,105.3h0.8M78.1,102.6h0.8M70.3,101.7h0.8M66.3,72.2h0.8M67.5,86.7h0.8M65.1,95.8h0.8M73.6,141.8h0.8M81.4,96.9h0.8M76.5,93.3h0.8M74.0,97.3h0.8M69.2,99.6h0.8M64.4,107.5h0.8M70.5,74.6h0.8M70.2,110.0h0.8M68.5,108.3h0.8M74.9,131.7h0.8M66.4,95.6h0.8M74.6,130.5h0.8M73.3,114.3h0.8M64.5,85.4h0.8M80.5,91.8h0.8M83.1,82.2h0.8M70.6,63.4h0.8M75.3,103.7h0.8M82.3,101.6h0.8M70.7,67.4h0.8M71.6,118.5h0.8M75.8,124.6h0.8M76.4,97.0h0.8M75.1,101.7h0.8M65.2,135.2h0.8M73.9,75.2h0.8M74.0,104.3h0.8M77.1,129.4h0.8M56.4,110.1h0.8M79.9,77.4h0.8M62.4,104.1h0.8M73.7,105.6h0.8M66.3,87.8h0.8M73.0,114.2h0.8M83.3,104.4h0.8M68.9,46.6h0.8M77.5,95.1h0.8M71.4,76.5h0.8M75.8,58.9h0.8M72.6,100.6h0.8M73.5,126.4h0.8M71.5,100.1h0.8M76.4,64.2h0.8M70.5,99.5h0.8M76.9,80.5h0.8M76.1,106.4h0.8M64.3,65.7h0.8M64.6,101.1h0.8M73.1,113.8h0.8M76.2,85.9h0.8M77.5,115.9h0.8M74.4,108.5h0.8M65.4,105.9h0.8M66.7,71.9h0.8M70.2,101.0h0.8M71.7,90.8h0.8M66.8,102.1h0.8M68.2,67.2h0.8M72.5,129.8h0.8M69.9,74.8h0.8M79.2,135.5h0.8M70.5,93.4h0.8M72.7,119.8h0.8M74.3,58.2h0.8M66.3,71.0h0.8M74.2,100.3h0.8M81.3,92.1h0.8M73.6,99.6h0.8M72.7,148.7h0.8M73.5,130.2h0.8M78.7,84.7h0.8M75.6,89.7h0.8M72.6,101.5h0.8M72.1,87.7h0.8M80.1,92.2h0.8M75.6,134.8h0.8M75.2,120.5h0.8M79.2,121.9h0.8M80.9,66.7h0.8M82.2,98.6h0.8M62.9,84.0h0.8M64.8,97.5h0.8M64.3,75.9h0.8M73.5,101.4h0.8M67.9,92.9h0.8M71.5,99.6h0.8M72.0,93.1h0.8M76.6,62.7h0.8M69.4,100.9h0.8M69.9,85.9h0.8M69.7,102.6h0.8M78.5,93.9h0.8M70.6,105.8h0.8M70.7,55.5h0.8M73.4,89.7h0.8M69.0,111.8h0.8M72.2,85.6h0.8M60.7,60.2h0.8M72.1,95.4h0.8M74.3,102.9h0.8M69.5,70.2h0.8M66.3,94.9h0.8M66.0,114.6h0.8M65.1,58.6h0.8M71.0,59.0h0.8M80.5,76.2h0.8M71.7,92.6h0.8M67.7,59.1h0.8M62.3,117.0h0.8M77.3,145.6h0.8M64.4,110.3h0.8M71.9,116.6h0.8M69.3,113.9h0.8M76.7,111.3h0.8M79.5,94.2h0.8M80.0,82.6h0.8M72.1,80.4h0.8M72.0,120.7h0.8M75.7,100.1h0.8M80.8,65.5h0.8M67.8,131.2h0.8M73.7,52.4h0.8M73.8,71.9h0.8M79.7,123.2h0.8M69.2,126.5h0.8M67.7,118.2h0.8M75.0,95.2h0.8M64.6,91.8h0.8M60.1,85.6h0.8M62.4,124.7h0.8M75.0,106.1h0.8M69.4,144.6h0.8M76.0,99.5h0.8M74.5,119.1h0.8M68.9,66.9h0.8M71.8,61.2h0.8M72.0,115.0h0.8M79.9,103.8h0.8M73.0,114.5h0.8M79.3,91.0h0.8M65.6,80.6h0.8M65.5,78.4h0.8M71.4,105.5h0.8M72.8,99.5h0.8M70.1,107.3h0.8M76.6,114.7h0.8M79.8,91.6h0.8M70.7,135.3h0.8M73.0,107.1h0.8M70.3,119.3h0.8M69.9,75.8h0.8M71.7,88.3h0.8M76.3,89.7h0.8M72.6,93.2h0.8M73.8,84.1h0.8M77.7,66.7h0.8M70.0,82.4h0.8M75.4,98.9h0.8M74.5,90.7h0.8M68.3,73.4h0.8M70.3,86.2h0.8M73.5,105.8h0.8M77.1,95.7h0.8M68.1,74.7h0.8M72.3,105.9h0.8M82.1,102.0h0.8M81.1,139.2h0.8M66.5,124.6h0.8M77.9,127.6h0.8M71.9,119.0h0.8M69.5,96.5h0.8M72.1,137.2h0.8M70.9,119.0h0.8M72.3,82.4h0.8M73.3,112.5h0.8M68.3,112.0h0.8M68.3,78.7h0.8M73.1,92.8h0.8M66.9,62.2h0.8M72.1,103.3h0.8M69.6,102.1h0.8M64.1,106.6h0.8M74.2,104.1h0.8M68.8,99.7h0.8M72.7,121.5h0.8M73.4,103.6h0.8M68.2,117.0h0.8M78.1,87.1h0.8M75.3,104.8h0.8M71.8,69.7h0.8M81.1,57.0h0.8M73.6,89.7h0.8M78.0,88.7h0.8M72.2,111.4h0.8M74.4,86.6h0.8M75.5,106.6h0.8M77.1,86.8h0.8M71.8,89.4h0.8M67.6,103.6h0.8M74.1,129.2h0.8M70.3,106.5h0.8M77.9,95.5h0.8M72.3,100.9h0.8M68.4,76.3h0.8M77.8,101.8h0.8M71.6,70.7h0.8M72.6,123.7h0.8M66.0,78.4h0.8M77.7,129.4h0.8M80.0,85.9h0.8M75.1,81.5h0.8M74.7,90.0h0.8M73.0,127.4h0.8M73.8,92.7h0.8M72.3,103.8h0.8M69.3,102.5h0.8M75.1,132.1h0.8M61.3,72.0h0.8M65.6,117.2h0.8M84.6,102.2h0.8M72.6,122.9h0.8M59.4,94.1h0.8M55.9,101.4h0.8M69.4,87.4h0.8M73.8,85.2h0.8M77.7,97.9h0.8M69.7,118.2h0.8M67.7,125.3h0.8M77.0,101.1h0.8M77.1,133.1h0.8M79.1,98.0h0.8M71.7,122.2h0.8M64.4,84.8h0.8M74.5,110.4h0.8M81.6,136.4h0.8M73.7,107.6h0.8M65.2,94.0h0.8M73.3,93.1h0.8M72.3,111.3h0.8M67.1,85.6h0.8M62.8,122.9h0.8M66.6,60.9h0.8M76.0,93.3h0.8M77.0,90.0h0.8M82.9,113.6h0.8M72.8,100.5h0.8M70.9,115.6h0.8M82.3,88.8h0.8M66.4,111.0h0.8M77.5,65.5h0.8M68.4,76.3h0.8M74.9,109.0h0.8M68.2,73.5h0.8M75.5,53.3h0.8M75.3,94.6h0.8M81.9,119.6h0.8M69.0,92.0h0.8M70.6,82.2h0.8M72.4,118.9h0.8M64.3,93.1h0.8M79.7,114.1h0.8M67.8,80.5h0.8M67.6,63.2h0.8M77.9,99.5h0.8M68.4,66.9h0.8M70.0,86.9h0.8M80.8,88.0h0.8M72.6,121.2h0.8M75.4,94.1h0.8M60.8,128.4h0.8M75.1,88.6h0.8M71.5,77.3h0.8M67.4,65.9h0.8M74.6,109.2h0.8M72.9,114.9h0.8M74.7,100.6h0.8M67.5,110.8h0.8M78.1,111.7h0.8M78.4,87.8h0.8M67.0,125.1h0.8M69.0,103.3h0.8M71.0,98.5h0.8M70.6,86.4h0.8M62.9,139.2h0.8M73.0,56.4h0.8M67.4,73.7h0.8M74.9,133.4h0.8M70.7,114.1h0.8M75.1,71.1h0.8M78.2,61.6h0.8M69.1,90.3h0.8M78.4,100.6h0.8M71.4,80.7h0.8M72.5,98.9h0.8M75.7,128.1h0.8M75.8,98.4h0.8M71.2,132.5h0.8M73.0,97.7h0.8M81.1,131.8h0.8M74.9,95.7h0.8M68.8,121.0h0.8M69.7,118.7h0.8M68.0,100.3h0.8M74.0,101.1h0.8M73.2,106.2h0.8M66.3,74.1h0.8M71.3,136.8h0.8M71.4,78.1h0.8M68.6,98.7h0.8M78.0,85.8h0.8M74.9,102.0h0.8M70.2,77.7h0.8M71.2,82.5h0.8M74.7,60.1h0.8M77.7,114.3h0.8M74.9,130.2h0.8M75.1,61.3h0.8M72.3,107.7h0.8M68.5,73.7h0.8M74.2,109.0h0.8M69.8,92.8h0.8M69.4,85.8h0.8M71.7,121.1h0.8M63.8,90.7h0.8M80.2,104.8h0.8M72.8,115.9h0.8M66.9,72.0h0.8M63.6,66.7h0.8M73.3,116.2h0.8M69.9,83.4h0.8M74.0,111.2h0.8M73.3,57.2h0.8M73.2,79.8h0.8M68.7,130.2h0.8M78.7,108.3h0.8M73.4,101.7h0.8M69.0,96.9h0.8M81.7,79.2h0.8M68.6,101.5h0.8M76.5,115.9h0.8M67.1,95.2h0.8M70.7,71.6h0.8M72.4,87.7h0.8M76.7,107.3h0.8M68.1,99.7h0.8M70.2,84.4h0.8M69.5,120.8h0.8M69.9,61.3h0.8M68.1,115.3h0.8M82.9,75.5h0.8M70.2,91.0h0.8M64.9,106.6h0.8M71.7,104.0h0.8M83.3,92.3h0.8M76.0,115.8h0.8M68.8,85.3h0.8M79.9,113.3h0.8M72.7,74.6h0.8M76.5,109.3h0.8M83.1,129.5h0.8M76.1,103.7h0.8M72.3,86.2h0.8M73.6,103.2h0.8M75.3,121.2h0.8M73.6,86.4h0.8M76.1,131.2h0.8M67.8,107.0h0.8M74.8,109.5h0.8M74.6,96.1h0.8M71.5,134.1h0.8M80.8,68.0h0.8M59.2,107.4h0.8M68.6,87.0h0.8M63.9,105.6h0.8M71.7,86.5h0.8M79.5,123.1h0.8M69.9,112.1h0.8M71.8,122.7h0.8M74.9,97.3h0.8M74.8,82.7h0.8M76.0,130.2h0.8M70.2,109.9h0.8M63.6,118.0h0.8M76.4,76.2h0.8M80.8,100.4h0.8M63.3,68.7h0.8M76.4,92.2h0.8M77.6,64.9h0.8M71.5,118.9h0.8M68.6,112.5h0.8M70.2,105.4h0.8M73.6,145.7h0.8M65.7,114.7h0.8M78.6,74.0h0.8M72.4,147.4h0.8M70.8,61.5h0.8M73.5,82.5h0.8M69.2,80.1h0.8M73.5,88.0h0.8M67.4,93.2h0.8M74.1,79.7h0.8M77.6,62.5h0.8M74.1,89.7h0.8M79.9,84.3h0.8M68.6,69.3h0.8M82.0,111.2h0.8M66.5,90.8h0.8M67.2,130.6h0.8M74.1,54.5h0.8M73.1,117.6h0.8M72.0,108.1h0.8M71.4,102.5h0.8M73.1,82.9h0.8M73.8,101.5h0.8M71.8,83.4h0.8M66.9,103.3h0.8M76.2,46.3h0.8M69.3,126.9h0.8M76.6,82.8h0.8M78.8,76.9h0.8M68.0,139.5h0.8M69.8,93.4h0.8M63.7,76.4h0.8M66.1,95.1h0.8M62.7,120.7h0.8M70.2,85.0h0.8M68.8,113.9h0.8M79.8,89.3h0.8M80.2,132.5h0.8M78.8,104.4h0.8M64.5,112.4h0.8M69.9,102.2h0.8M62.5,92.0h0.8M73.2,78.0h0.8M73.5,133.8h0.8M73.2,83.3h0.8M84.1,51.9h0.8M67.3,106.7h0.8M69.0,48.9h0.8M73.3,115.8h0.8M68.0,129.4h0.8M74.5,123.5h0.8M64.3,97.9h0.8M80.1,141.2h0.8M78.7,98.0h0.8M72.9,84.6h0.8M77.6,83.1h0.8M72.6,53.8h0.8M64.4,136.1h0.8M72.3,102.6h0.8M60.9,97.3h0.8M82.5,65.9h0.8M59.9,94.5h0.8M69.3,93.5h0.8M65.6,68.9h0.8M65.7,111.8h0.8M71.8,115.7h0.8M66.5,110.7h0.8M69.8,99.9h0.8M76.7,98.7h0.8M70.2,62.2h0.8M72.3,114.8h0.8M68.8,96.6h0.8M63.0,69.3h0.8M74.1,125.9h0.8M70.4,62.0h0.8M70.1,64.3h0.8M70.6,139.6h0.8M73.5,94.7h0.8M77.3,89.8h0.8M73.7,102.3h0.8M74.3,66.3h0.8M75.6,117.0h0.8M67.4,130.2h0.8M72.1,112.6h0.8M74.8,117.2h0.8M68.7,85.4h0.8M73.9,111.1h0.8M74.9,105.3h0.8M69.5,121.9h0.8M74.4,121.0h0.8M59.0,119.8h0.8M59.5,102.6h0.8M68.6,100.6h0.8M69.6,91.3h0.8M73.0,105.5h0.8M68.0,109.7h0.8M67.7,107.3h0.8M70.1,77.6h0.8M78.0,133.9h0.8M71.5,96.9h0.8M76.9,69.2h0.8M67.5,122.6h0.8M76.6,87.3h0.8M68.0,105.6h0.8M64.8,87.2h0.8M75.0,114.6h0.8M77.5,66.7h0.8M65.4,80.3h0.8M65.3,142.7h0.8M67.0,91.2h0.8M73.1,107.9h0.8M79.5,74.3h0.8M76.5,101.3h0.8M66.0,101.3h0.8M64.8,133.3h0.8M68.2,119.9h0.8M78.7,84.5h0.8M67.4,100.9h0.8M66.6,117.6h0.8M72.9,81.3h0.8M68.5,113.8h0.8M64.5,134.9h0.8M67.9,93.7h0.8M67.2,133.5h0.8M76.3,126.5h0.8M75.4,100.0h0.8M80.8,112.5h0.8M74.3,110.6h0.8M75.8,104.1h0.8M71.1,63.1h0.8M82.7,69.5h0.8M60.9,82.4h0.8M82.0,124.7h0.8M68.9,103.8h0.8M71.9,54.5h0.8M70.3,104.4h0.8M78.1,71.6h0.8M60.3,63.5h0.8M73.7,99.8h0.8M72.8,101.2h0.8M70.1,68.0h0.8M74.4,106.5h0.8M75.0,125.4h0.8M65.6,46.6h0.8M62.7,145.0h0.8M67.3,106.8h0.8M71.9,114.0h0.8M71.1,84.9h0.8M73.3,109.4h0.8M67.0,127.0h0.8M78.0,107.8h0.8M71.4,92.8h0.8M63.5,112.4h0.8M66.9,87.0h0.8M77.2,77.8h0.8M69.3,116.9h0.8M81.7,82.8h0.8M77.7,83.6h0.8M74.0,108.6h0.8M66.1,120.6h0.8M81.4,99.1h0.8M73.4,72.2h0.8M81.3,99.4h0.8M65.4,114.8h0.8M64.4,82.9h0.8M60.9,128.3h0.8M83.5,84.0h0.8M68.6,85.3h0.8M69.1,110.2h0.8M79.6,75.8h0.8M74.3,58.3h0.8M79.9,96.1h0.8M68.4,131.7h0.8M71.4,128.1h0.8M77.6,134.5h0.8M67.8,99.2h0.8M73.9,93.7h0.8M79.9,82.3h0.8M77.2,128.0h0.8M61.8,76.7h0.8M67.3,86.0h0.8M74.0,94.2h0.8M72.4,87.9h0.8M71.6,108.7h0.8M75.9,80.8h0.8M71.4,81.2h0.8M71.1,66.4h0.8M77.0,112.8h0.8M71.4,83.0h0.8M69.6,83.4h0.8M64.0,133.9h0.8M65.9,110.7h0.8M75.1,63.4h0.8M62.0,109.9h0.8M61.6,129.3h0.8M69.4,99.9h0.8M72.0,85.7h0.8M71.3,91.4h0.8M78.5,96.0h0.8M71.8,86.4h0.8M68.7,81.8h0.8M72.1,138.4h0.8M77.8,103.2h0.8M80.7,120.3h0.8M73.1,94.4h0.8M66.3,103.5h0.8M70.4,63.1h0.8M65.3,140.6h0.8M73.1,109.0h0.8M73.0,87.8h0.8M74.4,121.8h0.8M70.4,109.3h0.8M77.3,87.4h0.8M72.9,81.7h0.8M75.1,89.9h0.8M78.0,81.2h0.8M80.8,91.2h0.8M67.6,78.1h0.8M75.4,79.2h0.8M81.4,126.2h0.8M74.7,66.7h0.8M71.9,82.0h0.8M62.6,107.4h0.8M83.4,86.2h0.8M76.2,126.2h0.8M67.0,90.5h0.8M73.4,108.4h0.8M66.0,102.8h0.8M71.4,118.9h0.8M63.7,85.6h0.8M69.4,91.0h0.8M75.8,84.2h0.8M76.4,120.4h0.8M77.0,93.5h0.8M67.7,92.4h0.8M75.5,100.7h0.8M75.0,110.6h0.8M67.4,77.4h0.8M79.5,87.3h0.8M63.8,138.9h0.8M67.7,77.5h0.8M77.0,73.1h0.8M67.5,121.1h0.8M72.7,99.2h0.8M68.7,93.1h0.8M69.4,97.5h0.8M76.0,70.0h0.8M67.2,51.9h0.8M79.8,96.4h0.8M71.9,96.7h0.8M77.2,105.1h0.8M76.4,94.3h0.8M71.4,96.8h0.8M62.3,122.0h0.8M63.8,76.1h0.8M75.5,99.2h0.8M76.2,135.5h0.8M81.7,128.4h0.8M70.8,143.1h0.8M67.4,96.1h0.8M77.2,93.3h0.8M71.4,90.2h0.8M78.6,121.3h0.8M71.6,110.3h0.8M67.0,122.4h0.8M79.3,96.8h0.8M70.2,87.3h0.8M71.0,70.5h0.8M64.9,134.6h0.8M71.9,110.2h0.8M73.6,108.5h0.8M64.1,77.1h0.8M75.3,120.0h0.8M66.0,85.3h0.8M66.4,112.4h0.8M73.8,98.7h0.8M68.6,105.6h0.8M72.2,81.6h0.8M73.7,83.4h0.8M77.0,111.8h0.8M68.4,110.9h0.8M72.3,82.5h0.8M67.2,61.4h0.8M66.1,105.6h0.8M78.3,84.2h0.8M72.8,105.6h0.8M76.1,107.7h0.8M78.4,114.9h0.8M68.0,106.7h0.8M59.8,94.1h0.8M72.1,110.7h0.8M70.4,116.3h0.8M78.9,79.5h0.8M69.2,103.7h0.8M74.6,101.2h0.8M76.3,72.0h0.8M76.0,123.7h0.8M77.8,107.4h0.8M70.8,106.8h0.8M71.6,63.1h0.8M68.9,97.1h0.8M69.3,77.5h0.8M70.8,89.8h0.8M72.4,96.9h0.8M72.9,119.9h0.8M72.7,106.9h0.8M69.9,112.9h0.8M70.2,84.3h0.8M65.6,117.6h0.8M69.3,103.4h0.8M77.9,109.8h0.8M83.7,95.1h0.8M77.0,113.3h0.8M68.6,99.0h0.8M69.1,75.5h0.8M73.6,81.0h0.8M80.7,81.7h0.8M69.2,100.0h0.8M69.3,99.2h0.8M68.8,66.7h0.8M59.5,69.6h0.8M79.9,107.8h0.8M72.8,87.8h0.8M71.2,104.6h0.8M64.8,80.4h0.8M67.4,125.7h0.8M66.5,123.8h0.8M71.6,98.7h0.8M79.0,117.2h0.8M76.9,74.5h0.8M77.9,135.0h0.8M71.5,87.4h0.8M66.3,120.4h0.8M73.5,98.1h0.8M65.6,133.7h0.8M76.6,97.6h0.8M79.7,77.1h0.8M76.6,76.0h0.8M79.3,91.9h0.8M78.4,88.9h0.8M74.1,123.1h0.8M67.3,100.1h0.8M67.6,116.7h0.8M68.9,89.8h0.8M70.9,123.6h0.8M66.6,97.4h0.8M70.3,85.9h0.8M67.9,94.5h0.8M73.0,64.0h0.8M73.2,71.9h0.8M72.1,148.2h0.8M67.0,96.5h0.8M70.7,119.6h0.8M69.5,58.7h0.8M63.6,101.9h0.8M73.3,121.5h0.8M69.2,112.7h0.8M66.5,126.5h0.8M71.6,83.1h0.8M72.9,136.3h0.8M67.6,70.7h0.8M66.7,72.6h0.8M71.7,105.7h0.8M71.1,102.3h0.8M78.2,91.7h0.8M65.5,47.7h0.8M73.3,83.0h0.8M70.7,107.0h0.8M74.4,63.5h0.8M67.0,99.6h0.8M71.3,123.2h0.8M69.4,52.6h0.8M78.1,62.0h0.8M67.0,106.6h0.8M73.2,109.8h0.8M69.7,146.8h0.8M74.8,82.2h0.8M78.5,60.8h0.8M69.0,104.3h0.8M72.7,76.9h0.8M80.2,130.4h0.8M67.1,106.2h0.8M68.7,88.5h0.8M77.1,100.8h0.8M71.4,100.3h0.8M65.9,124.9h0.8M68.1,126.8h0.8M69.6,88.0h0.8M79.7,102.2h0.8M68.7,86.2h0.8M75.1,139.2h0.8M75.2,89.3h0.8M66.2,83.2h0.8M71.4,103.4h0.8M68.6,126.2h0.8M67.0,82.3h0.8M74.6,108.6h0.8M70.0,119.2h0.8M64.7,133.9h0.8M83.4,141.0h0.8M72.6,141.3h0.8M72.3,127.2h0.8M71.0,102.3h0.8M74.7,59.6h0.8M70.9,135.8h0.8M56.8,106.5h0.8M76.8,105.2h0.8M73.0,128.5h0.8M73.7,56.4h0.8M67.1,91.5h0.8M72.8,88.2h0.8M71.5,134.7h0.8M56.8,123.3h0.8M76.9,111.2h0.8M72.1,99.4h0.8M73.9,103.3h0.8M68.2,115.2h0.8M67.7,97.1h0.8M70.1,72.7h0.8M75.1,96.5h0.8M65.9,96.3h0.8M64.8,129.5h0.8M74.7,141.6h0.8M69.1,113.5h0.8M67.0,79.3h0.8M71.5,107.0h0.8M76.8,92.1h0.8M77.7,119.2h0.8M67.5,94.1h0.8M67.2,135.4h0.8M69.1,117.4h0.8M76.7,92.4h0.8M69.5,105.6h0.8M68.0,70.3h0.8M67.0,105.4h0.8M73.0,136.6h0.8M62.5,109.0h0.8M66.0,123.3h0.8M75.6,100.8h0.8M79.6,89.8h0.8M69.3,75.0h0.8M68.6,100.5h0.8M75.5,126.0h0.8M70.6,82.0h0.8M70.3,88.6h0.8M69.6,89.2h0.8M67.5,96.9h0.8M69.4,94.3h0.8M64.8,101.2h0.8M75.0,112.2h0.8M69.2,73.1h0.8M65.3,72.4h0.8M68.7,91.2h0.8M62.8,112.6h0.8M64.1,83.0h0.8M68.3,116.1h0.8M81.5,90.3h0.8M70.6,89.4h0.8M71.0,94.3h0.8M84.7,74.3h0.8M71.4,80.8h0.8M73.8,86.7h0.8M75.0,74.4h0.8M82.9,102.6h0.8M62.9,113.2h0.8M69.6,72.9h0.8M74.3,86.7h0.8M75.8,86.1h0.8M76.6,101.2h0.8M73.8,101.4h0.8M70.1,90.1h0.8M74.3,113.4h0.8M69.9,146.7h0.8M80.7,73.1h0.8M77.6,96.5h0.8M73.2,80.9h0.8M80.5,80.1h0.8M71.6,82.3h0.8M81.9,125.2h0.8M65.2,88.3h0.8M73.9,88.7h0.8M70.2,74.7h0.8M73.3,74.3h0.8M76.3,150.0h0.8M70.3,133.7h0.8M73.9,83.5h0.8M70.2,77.2h0.8M72.6,113.2h0.8M76.8,92.0h0.8M65.9,96.4h0.8M80.6,104.1h0.8M71.7,53.1h0.8M69.8,109.8h0.8M67.1,127.2h0.8M69.1,79.2h0.8M69.0,96.0h0.8M77.1,85.8h0.8M62.9,96.3h0.8M74.7,131.4h0.8M66.2,130.1h0.8M75.5,107.9h0.8M68.1,79.0h0.8M67.1,118.2h0.8M73.1,121.1h0.8M81.3,98.5h0.8M71.8,139.5h0.8M65.3,88.4h0.8M70.1,89.9h0.8M72.7,80.0h0.8M77.9,68.7h0.8M67.8,61.6h0.8M64.8,110.8h0.8M75.2,93.8h0.8M76.3,111.4h0.8M69.1,97.2h0.8M73.9,141.4h0.8M69.7,106.1h0.8M74.8,124.4h0.8M74.2,121.2h0.8M66.6,92.4h0.8M62.1,97.0h0.8M83.9,103.3h0.8M72.5,103.8h0.8M72.7,69.6h0.8M68.5,94.4h0.8M72.9,79.5h0.8M71.5,82.3h0.8M65.3,83.9h0.8M67.9,116.2h0.8M78.8,110.6h0.8M70.9,86.2h0.8M64.0,86.8h0.8M80.0,122.9h0.8M73.1,92.8h0.8M72.0,107.2h0.8M72.0,107.3h0.8M68.1,99.1h0.8M70.2,121.3h0.8M65.7,126.0h0.8M71.6,87.3h0.8M72.1,100.8h0.8M70.8,107.2h0.8M69.0,61.8h0.8M75.6,97.6h0.8M80.5,106.4h0.8M61.8,124.8h0.8M68.5,109.9h0.8M83.3,121.6h0.8M66.4,96.2h0.8M63.8,112.5h0.8M74.9,76.1h0.8M74.3,118.2h0.8M76.1,83.8h0.8M68.5,74.1h0.8M65.4,104.9h0.8M72.2,126.1h0.8M73.4,91.3h0.8M64.7,131.3h0.8M72.8,97.5h0.8M66.9,75.7h0.8M75.2,77.3h0.8M75.0,111.6h0.8M70.1,63.5h0.8M74.1,128.3h0.8M67.8,71.2h0.8M77.6,101.3h0.8M68.8,124.4h0.8M70.6,107.9h0.8M69.9,82.1h0.8M73.1,79.8h0.8M62.9,86.6h0.8M78.3,121.7h0.8M83.1,119.4h0.8M80.2,103.6h0.8M69.8,108.2h0.8M67.2,113.9h0.8M69.7,103.7h0.8M67.7,95.3h0.8M77.0,93.6h0.8M68.6,104.3h0.8M76.5,94.2h0.8M66.0,64.9h0.8M65.2,121.0h0.8M71.5,108.4h0.8M77.5,104.3h0.8M74.5,87.4h0.8M63.8,111.6h0.8M71.5,110.5h0.8M66.6,95.2h0.8M82.3,80.3h0.8M72.5,126.1h0.8M70.8,100.9h0.8M61.1,114.8h0.8M69.8,125.6h0.8M71.5,90.3h0.8M74.2,93.1h0.8M69.4,131.1h0.8M77.0,100.6h0.8M76.1,115.8h0.8M75.0,99.2h0.8M72.4,106.9h0.8M74.9,105.8h0.8M69.2,96.7h0.8M74.3,77.4h0.8M72.0,114.3h0.8M72.9,92.2h0.8M71.9,88.0h0.8M77.0,90.3h0.8M63.5,72.7h0.8M73.5,102.7h0.8M69.6,70.5h0.8M71.2,80.5h0.8M68.7,98.3h0.8M68.1,104.9h0.8M68.2,88.5h0.8M70.8,129.2h0.8M80.0,118.2h0.8M68.3,98.4h0.8M76.7,115.3h0.8M63.7,97.1h0.8M68.2,114.2h0.8M75.2,87.0h0.8M82.9,92.5h0.8M84.4,94.8h0.8" stroke="#222" stroke-width="0.8" fill="none"/>
<path d="M72.4,144.5h0.8M69.1,124.1h0.8M83.8,127.8h0.8M76.5,117.3h0.8M75.6,134.2h0.8M69.3,124.1h0.8M61.5,131.3h0.8M82.1,135.5h0.8M79.8,134.2h0.8M66.2,116.9h0.8M77.7,129.6h0.8M80.2,125.8h0.8M66.5,132.0h0.8M68.9,114.1h0.8M68.5,120.6h0.8M64.8,123.4h0.8M80.0,148.3h0.8M85.7,124.6h0.8M81.4,127.5h0.8M76.0,122.3h0.8M72.5,113.8h0.8M77.3,123.1h0.8M75.0,118.1h0.8M70.2,136.0h0.8M77.4,111.5h0.8M79.3,116.9h0.8M75.1,132.6h0.8M68.3,125.4h0.8M71.2,131.6h0.8M79.7,139.8h0.8M75.4,145.2h0.8M66.0,143.4h0.8M71.1,134.7h0.8M72.1,128.9h0.8M66.3,131.5h0.8M72.8,128.2h0.8M78.2,126.4h0.8M73.0,130.0h0.8M82.6,136.3h0.8M65.3,122.7h0.8M73.1,135.4h0.8M80.1,126.4h0.8M83.3,140.3h0.8M84.7,129.9h0.8M77.2,115.1h0.8M59.9,122.9h0.8M78.3,137.2h0.8M72.2,137.0h0.8M77.2,141.2h0.8M61.3,121.1h0.8M66.0,119.2h0.8M85.1,120.2h0.8M66.9,124.7h0.8M79.5,124.2h0.8M78.4,132.9h0.8M68.3,107.9h0.8M66.3,117.5h0.8M85.0,122.0h0.8M65.1,131.4h0.8M73.4,120.1h0.8M81.0,136.0h0.8M75.1,121.7h0.8M66.6,110.6h0.8M75.8,131.5h0.8M66.2,128.4h0.8M60.5,133.4h0.8M69.9,123.9h0.8M77.6,127.0h0.8M80.3,132.5h0.8M81.5,129.2h0.8M57.1,139.7h0.8M60.5,137.0h0.8M74.9,116.3h0.8M73.5,135.7h0.8M65.5,128.5h0.8M67.6,119.5h0.8M68.5,139.0h0.8M78.0,127.9h0.8M72.4,129.2h0.8M75.1,129.7h0.8M60.4,136.0h0.8M66.7,105.8h0.8M78.2,117.8h0.8M72.0,127.3h0.8M68.7,132.7h0.8M71.0,125.7h0.8M66.0,125.7h0.8M65.4,128.5h0.8M82.7,136.7h0.8M76.2,116.4h0.8M80.6,136.1h0.8M73.1,125.2h0.8M81.0,118.8h0.8M70.2,148.0h0.8M80.3,111.0h0.8M73.2,139.8h0.8M68.4,133.2h0.8M73.7,115.6h0.8M68.4,137.8h0.8M81.7,122.9h0.8M81.3,122.0h0.8M74.8,127.9h0.8M63.8,130.8h0.8M70.1,104.6h0.8M66.9,120.8h0.8M66.8,119.7h0.8M67.9,107.1h0.8M79.6,128.7h0.8M74.9,125.8h0.8M73.5,125.8h0.8M65.0,115.0h0.8M73.5,136.8h0.8M74.7,141.9h0.8M62.9,125.8h0.8M68.4,138.6h0.8M85.5,123.6h0.8M78.4,126.0h0.8M65.6,127.1h0.8M65.3,141.4h0.8M77.4,138.3h0.8M75.6,107.2h0.8M78.9,128.8h0.8M55.4,128.9h0.8M80.5,142.7h0.8M65.5,134.8h0.8M75.5,126.6h0.8M70.9,132.6h0.8M77.3,133.7h0.8M70.0,116.7h0.8M82.7,139.2h0.8M68.8,127.8h0.8M79.0,112.9h0.8M76.7,148.9h0.8M75.0,122.0h0.8M74.6,124.4h0.8M74.3,112.6h0.8M63.5,115.3h0.8M79.7,127.2h0.8M81.5,110.5h0.8M68.6,140.6h0.8M67.2,112.0h0.8M67.5,125.1h0.8M72.9,139.3h0.8M82.8,141.4h0.8M77.3,123.7h0.8M69.3,115.3h0.8M82.4,138.8h0.8M73.7,120.3h0.8M78.0,132.2h0.8M74.1,118.0h0.8M74.8,123.1h0.8M78.5,133.2h0.8M76.2,124.3h0.8M84.2,134.7h0.8M82.4,135.3h0.8M77.9,131.4h0.8M65.1,112.3h0.8M66.1,133.3h0.8M79.7,129.6h0.8M73.7,143.8h0.8M70.1,112.6h0.8M61.6,125.2h0.8M78.2,134.4h0.8M71.4,135.1h0.8M72.6,121.8h0.8M70.2,134.5h0.8M80.0,118.3h0.8M65.7,129.1h0.8M63.8,131.6h0.8M76.7,122.7h0.8M72.8,132.2h0.8M60.2,127.8h0.8M77.4,136.0h0.8M81.6,127.4h0.8M62.4,139.6h0.8M78.7,122.5h0.8M80.6,137.0h0.8M72.0,107.6h0.8M69.6,121.5h0.8M66.8,127.3h0.8M65.1,131.4h0.8M80.7,123.4h0.8M77.0,126.9h0.8M82.4,121.9h0.8M78.4,121.3h0.8M74.7,127.9h0.8M81.0,114.4h0.8M63.1,140.0h0.8M75.8,142.6h0.8M65.4,129.8h0.8M77.4,143.2h0.8M72.6,124.1h0.8M78.3,127.1h0.8M67.5,134.6h0.8M59.0,119.3h0.8M83.0,123.7h0.8M70.6,131.2h0.8M81.2,132.6h0.8M65.9,123.1h0.8M80.7,127.0h0.8M68.4,135.5h0.8M81.4,146.8h0.8M65.1,121.9h0.8M67.9,131.1h0.8M69.5,137.6h0.8M68.3,125.6h0.8M77.2,129.8h0.8M65.6,141.0h0.8M77.2,123.8h0.8M74.5,118.5h0.8M64.0,125.4h0.8M75.7,128.9h0.8M67.3,116.0h0.8M60.7,141.8h0.8M75.7,121.1h0.8M81.7,132.7h0.8M70.0,122.7h0.8M81.3,130.8h0.8M85.0,131.1h0.8M68.7,122.8h0.8M67.9,130.2h0.8M74.9,133.2h0.8M76.3,118.9h0.8M71.5,119.9h0.8M76.5,116.6h0.8M68.8,120.6h0.8M68.5,125.8h0.8M84.0,125.8h0.8M62.5,125.4h0.8M78.5,132.8h0.8M74.8,145.2h0.8M81.1,128.8h0.8M81.9,116.4h0.8M71.8,120.5h0.8M74.3,142.0h0.8M69.4,141.8h0.8M65.5,140.3h0.8M60.6,120.7h0.8M80.3,127.2h0.8M74.1,127.9h0.8M74.3,126.5h0.8M65.9,125.5h0.8M73.8,120.2h0.8M76.4,143.2h0.8M61.0,123.3h0.8M71.0,128.2h0.8M73.7,121.7h0.8M72.8,128.1h0.8M72.4,141.3h0.8M73.9,115.2h0.8M61.6,133.1h0.8M70.5,122.7h0.8M63.1,125.3h0.8M72.3,122.1h0.8M70.4,135.7h0.8M78.7,132.7h0.8M71.7,116.3h0.8M78.7,140.9h0.8M82.3,138.1h0.8M75.0,131.2h0.8M72.9,138.8h0.8M71.0,146.5h0.8M78.7,125.2h0.8M73.0,114.1h0.8M67.7,125.4h0.8M79.7,128.7h0.8M70.8,133.4h0.8M58.5,136.2h0.8M72.6,129.4h0.8M77.8,123.8h0.8M73.9,132.4h0.8M70.5,131.4h0.8M75.4,134.2h0.8M65.8,123.4h0.8M69.9,138.3h0.8M74.8,113.7h0.8M63.7,144.8h0.8M75.5,116.8h0.8M66.4,129.2h0.8M83.4,142.0h0.8M70.3,125.4h0.8M84.4,130.9h0.8M73.7,139.1h0.8M76.5,120.8h0.8M61.9,128.1h0.8M76.7,139.8h0.8M77.5,141.1h0.8M78.8,129.8h0.8M76.1,131.4h0.8M68.4,127.0h0.8M73.9,124.1h0.8M62.3,115.5h0.8M76.7,132.5h0.8M73.8,117.9h0.8M79.2,124.6h0.8M57.9,141.5h0.8M62.1,147.5h0.8M76.9,124.2h0.8M55.9,121.9h0.8M83.8,139.8h0.8M74.9,113.2h0.8M70.2,125.6h0.8M76.4,126.9h0.8M75.5,113.9h0.8M68.3,140.5h0.8M62.4,136.0h0.8M62.9,138.8h0.8M59.5,130.9h0.8M70.0,138.7h0.8M81.6,129.6h0.8M69.5,119.5h0.8M76.0,127.0h0.8M69.6,114.1h0.8M71.9,127.0h0.8M80.2,123.5h0.8M61.6,118.7h0.8M72.7,130.2h0.8M78.3,124.7h0.8M76.9,129.2h0.8M85.3,127.5h0.8M74.1,132.9h0.8M81.9,120.0h0.8M69.6,125.6h0.8M57.5,139.3h0.8M80.8,128.2h0.8M79.6,115.7h0.8M84.2,131.6h0.8M64.3,128.5h0.8M78.5,136.5h0.8M74.3,123.5h0.8M78.6,121.4h0.8M72.4,134.6h0.8M62.5,131.3h0.8M58.7,120.0h0.8M64.0,127.2h0.8M78.2,127.6h0.8M79.7,128.8h0.8M71.5,132.3h0.8M71.3,129.2h0.8M80.6,123.1h0.8M81.4,118.4h0.8M71.4,112.9h0.8M69.1,141.8h0.8M75.6,139.0h0.8M62.3,119.2h0.8M76.4,135.2h0.8M79.1,113.5h0.8M76.7,127.4h0.8M73.9,132.1h0.8M71.0,113.3h0.8M65.2,115.4h0.8M63.4,126.8h0.8M82.5,121.8h0.8M67.4,118.0h0.8M60.4,128.6h0.8M69.5,125.9h0.8M66.0,132.2h0.8M64.2,132.8h0.8M68.2,134.8h0.8M66.5,131.8h0.8M76.2,127.3h0.8M84.9,129.5h0.8M66.5,134.0h0.8M67.0,123.3h0.8M73.1,129.6h0.8M85.4,112.8h0.8M71.1,137.8h0.8M71.8,130.8h0.8M84.1,117.3h0.8M73.3,134.9h0.8M68.7,112.8h0.8M65.7,129.7h0.8M74.4,144.0h0.8M82.7,114.6h0.8M80.6,136.0h0.8M84.8,126.7h0.8M68.9,129.3h0.8M84.3,133.4h0.8M85.4,134.8h0.8M68.7,119.2h0.8M70.4,125.2h0.8M66.3,123.0h0.8M73.0,148.7h0.8M72.5,123.4h0.8M73.9,136.2h0.8M67.0,124.5h0.8M60.2,134.1h0.8M78.0,141.1h0.8M64.2,146.9h0.8M79.4,125.6h0.8M70.1,125.3h0.8M64.1,134.7h0.8M68.6,121.7h0.8M76.8,129.0h0.8M68.7,126.0h0.8M69.4,139.7h0.8M80.3,121.7h0.8M72.7,139.9h0.8M70.9,143.5h0.8M76.3,133.8h0.8M57.8,135.4h0.8M75.5,133.1h0.8M76.5,132.6h0.8M69.3,135.8h0.8M73.5,118.9h0.8M65.6,129.4h0.8M75.5,108.8h0.8M57.9,137.2h0.8M61.8,125.8h0.8M68.6,132.9h0.8M83.3,142.1h0.8M65.6,138.8h0.8M64.1,130.7h0.8M74.3,133.4h0.8M67.1,139.7h0.8M72.5,127.8h0.8M71.1,118.7h0.8M78.3,130.9h0.8M76.3,144.3h0.8M66.7,125.5h0.8M73.1,135.5h0.8M71.7,136.2h0.8M76.3,112.7h0.8M68.0,110.3h0.8M70.9,124.4h0.8M77.3,129.5h0.8M72.5,139.0h0.8M77.4,117.3h0.8M68.0,130.9h0.8M85.5,126.3h0.8M71.8,130.3h0.8M78.7,127.2h0.8M75.2,124.3h0.8M69.0,121.1h0.8M77.8,123.1h0.8M77.0,131.5h0.8M80.1,104.6h0.8M65.9,117.3h0.8M71.8,135.0h0.8M82.9,131.3h0.8M70.2,132.7h0.8M57.1,136.1h0.8M73.1,133.4h0.8M65.5,118.4h0.8M68.3,127.6h0.8M75.6,124.9h0.8M75.6,133.9h0.8M64.5,127.1h0.8M61.6,123.2h0.8M79.6,121.8h0.8M79.5,128.9h0.8M79.3,137.6h0.8M73.8,123.4h0.8M69.0,144.9h0.8M71.7,124.0h0.8M67.8,113.3h0.8M69.3,130.8h0.8M69.4,121.4h0.8M76.0,132.0h0.8M69.8,130.7h0.8M65.9,135.5h0.8M65.8,125.1h0.8M74.0,124.3h0.8M64.6,146.4h0.8M84.1,112.7h0.8M73.9,116.9h0.8M75.3,116.6h0.8M77.3,132.7h0.8M85.5,138.5h0.8M69.6,136.3h0.8M69.6,127.0h0.8M69.3,112.6h0.8M77.4,110.2h0.8M71.3,132.6h0.8M73.8,114.2h0.8M68.2,134.0h0.8M81.1,142.0h0.8" stroke="#222" stroke-width="0.8" fill="none"/>
<path d="M112.0,88.7h0.8M117.9,93.2h0.8M112.6,79.9h0.8M123.1,72.6h0.8M118.4,67.7h0.8M124.9,62.6h0.8M116.0,77.2h0.8M121.2,69.8h0.8M122.6,87.0h0.8M121.2,81.1h0.8M122.0,64.9h0.8M114.7,75.8h0.8M115.1,92.2h0.8M128.5,100.1h0.8M122.0,86.9h0.8M117.0,63.0h0.8M122.4,60.4h0.8M121.3,79.9h0.8M123.3,82.7h0.8M120.5,73.5h0.8M112.4,77.0h0.8M123.1,97.3h0.8M126.1,67.5h0.8M115.9,92.2h0.8M121.4,59.8h0.8M117.6,104.9h0.8M112.0,84.2h0.8M113.9,105.4h0.8M118.0,66.9h0.8M112.5,71.6h0.8M108.8,75.1h0.8M129.6,83.4h0.8M118.8,65.0h0.8M121.5,75.1h0.8M116.3,102.2h0.8M121.9,69.0h0.8M126.5,81.2h0.8M122.2,84.2h0.8M125.2,91.0h0.8M118.5,92.5h0.8M118.3,84.0h0.8M127.2,66.5h0.8M115.4,76.1h0.8M117.8,101.0h0.8M127.0,75.4h0.8M120.8,76.7h0.8M123.0,91.7h0.8M123.3,93.2h0.8M128.5,79.5h0.8M123.1,79.3h0.8M120.2,85.2h0.8M119.8,87.1h0.8M116.3,79.8h0.8M117.3,64.9h0.8M116.9,74.7h0.8M119.3,59.2h0.8M118.9,65.5h0.8M116.4,84.8h0.8M124.9,86.2h0.8M117.8,75.6h0.8M125.9,58.2h0.8M125.0,60.0h0.8M117.2,82.7h0.8M119.0,106.3h0.8M122.2,81.3h0.8M124.2,82.6h0.8M116.5,98.4h0.8M126.6,100.7h0.8M114.8,109.9h0.8M118.2,93.2h0.8M112.9,67.1h0.8M125.2,89.2h0.8M121.9,79.3h0.8M109.0,73.8h0.8M120.0,85.4h0.8M123.3,78.1h0.8M116.0,76.7h0.8M110.7,65.6h0.8M128.7,71.9h0.8M119.6,109.8h0.8M124.6,83.8h0.8M123.2,78.0h0.8M116.0,96.7h0.8M120.6,105.5h0.8M118.8,76.5h0.8M121.5,79.2h0.8M118.6,68.9h0.8M121.1,86.7h0.8M128.1,81.6h0.8M112.3,88.8h0.8M130.1,75.5h0.8M116.5,79.6h0.8M107.4,77.1h0.8M119.2,59.8h0.8M122.5,69.2h0.8M111.8,71.5h0.8M122.8,110.2h0.8M125.5,84.9h0.8M117.7,78.2h0.8M124.3,74.4h0.8M121.8,96.2h0.8M116.0,73.4h0.8M122.0,82.1h0.8M119.5,74.2h0.8M119.7,109.2h0.8M126.0,58.3h0.8M120.2,83.4h0.8M120.2,61.7h0.8M119.4,84.2h0.8M117.0,86.6h0.8M109.2,59.9h0.8M120.4,87.7h0.8M119.3,75.3h0.8M120.8,97.9h0.8M124.0,80.8h0.8M117.9,97.6h0.8M122.4,95.0h0.8M118.8,69.4h0.8M120.8,72.8h0.8M125.1,94.5h0.8M110.4,91.8h0.8M125.9,97.2h0.8M117.9,69.4h0.8M124.3,96.9h0.8M120.3,65.1h0.8M113.3,85.9h0.8M116.4,72.0h0.8M122.0,97.4h0.8M110.9,72.2h0.8M125.7,81.4h0.8M118.5,91.4h0.8M115.0,64.0h0.8M120.1,105.0h0.8M124.5,81.9h0.8M124.5,76.0h0.8M114.8,57.4h0.8M121.2,95.2h0.8M121.6,81.5h0.8M118.2,98.0h0.8M119.8,60.8h0.8M126.1,72.5h0.8M121.7,82.1h0.8M124.7,85.6h0.8M125.4,85.1h0.8M118.0,74.5h0.8M122.9,69.8h0.8M124.1,78.5h0.8M115.9,69.2h0.8M119.4,108.0h0.8M123.4,82.3h0.8M116.0,110.0h0.8M118.8,82.0h0.8M118.1,101.6h0.8M120.8,75.3h0.8M120.8,67.3h0.8M115.3,79.6h0.8M107.3,99.3h0.8M128.8,65.7h0.8M119.4,58.8h0.8M120.8,85.1h0.8M123.3,62.4h0.8M117.3,72.5h0.8M119.1,81.4h0.8M117.8,93.7h0.8M131.3,99.1h0.8M126.8,66.2h0.8M124.7,82.4h0.8M125.5,97.6h0.8M122.9,57.3h0.8M120.6,74.6h0.8M122.0,82.6h0.8M124.6,58.4h0.8M116.7,80.9h0.8M121.4,76.1h0.8M119.9,82.8h0.8M124.6,80.3h0.8M121.1,55.3h0.8M108.4,60.5h0.8M121.6,48.1h0.8M121.8,80.6h0.8M120.0,71.3h0.8M118.1,94.2h0.8M121.6,81.6h0.8M117.8,85.1h0.8M125.3,81.7h0.8M118.4,64.6h0.8M120.4,68.5h0.8M113.6,94.8h0.8M117.2,52.0h0.8M116.8,109.1h0.8M119.5,62.5h0.8M115.1,92.6h0.8M121.8,85.1h0.8M119.1,89.1h0.8M126.8,89.2h0.8M119.3,61.4h0.8M122.0,105.1h0.8M122.9,63.5h0.8M120.8,101.1h0.8M117.2,89.3h0.8M125.4,106.1h0.8M113.0,56.3h0.8M121.7,92.4h0.8M118.4,81.7h0.8M118.2,99.7h0.8M110.2,85.8h0.8M114.3,72.0h0.8M113.2,68.6h0.8M119.9,82.4h0.8M127.9,78.7h0.8M121.5,87.2h0.8M121.1,103.6h0.8M120.6,84.2h0.8M119.5,82.1h0.8M119.8,96.7h0.8M120.1,83.0h0.8M119.8,93.2h0.8M117.9,95.9h0.8M117.5,92.2h0.8M128.5,85.4h0.8M119.6,64.6h0.8M123.3,82.2h0.8M124.0,72.3h0.8M122.3,108.7h0.8M121.8,77.2h0.8M114.2,81.9h0.8M122.9,90.8h0.8M115.0,66.8h0.8M115.7,66.9h0.8M118.8,85.9h0.8M128.5,84.9h0.8M126.5,57.6h0.8M126.8,93.8h0.8M122.0,94.2h0.8M122.7,110.3h0.8M123.6,56.3h0.8M112.2,105.8h0.8M119.6,101.6h0.8M118.5,72.3h0.8M118.5,86.7h0.8M120.8,72.8h0.8M122.4,91.1h0.8M115.9,65.5h0.8M111.3,77.5h0.8M120.0,71.7h0.8M117.3,80.0h0.8M120.1,90.4h0.8M123.7,88.5h0.8M125.0,67.7h0.8M122.7,87.5h0.8M115.4,72.0h0.8M122.0,83.1h0.8M114.4,73.8h0.8M126.8,94.5h0.8M120.4,102.0h0.8M116.0,79.5h0.8M124.3,77.0h0.8M115.0,90.7h0.8M120.7,63.5h0.8M118.7,61.1h0.8M131.6,71.9h0.8M120.2,71.5h0.8M115.6,75.3h0.8M120.9,108.0h0.8M121.3,105.2h0.8M115.3,83.1h0.8M118.1,58.8h0.8M121.1,70.8h0.8M117.4,66.7h0.8M124.6,76.0h0.8M119.4,84.7h0.8M114.5,85.4h0.8M119.2,88.6h0.8M118.3,82.6h0.8M122.3,96.3h0.8M116.9,96.4h0.8M115.6,79.2h0.8M120.6,84.2h0.8M108.9,67.5h0.8M119.2,95.7h0.8M116.9,104.4h0.8M112.0,83.1h0.8M122.4,82.3h0.8M121.2,95.8h0.8M116.4,90.7h0.8M124.7,78.5h0.8M109.7,64.4h0.8M116.2,66.3h0.8M121.9,70.1h0.8M131.0,90.5h0.8M114.2,77.8h0.8M126.8,92.1h0.8M115.5,97.3h0.8M117.5,90.8h0.8M122.5,75.4h0.8M119.3,99.2h0.8M122.2,81.1h0.8M122.0,107.9h0.8M124.1,89.1h0.8M121.5,58.8h0.8M120.6,74.8h0.8M123.3,73.0h0.8M122.0,66.4h0.8M124.0,71.2h0.8M119.9,90.6h0.8M118.6,82.1h0.8M124.7,108.2h0.8M112.0,68.6h0.8M123.0,95.9h0.8M117.9,83.4h0.8M119.1,64.4h0.8M113.1,63.1h0.8M125.8,76.2h0.8M128.7,91.5h0.8M121.7,91.6h0.8M123.5,95.6h0.8M115.7,73.7h0.8M117.6,83.5h0.8M118.9,63.7h0.8M116.9,108.5h0.8M129.4,69.3h0.8M121.7,81.5h0.8M116.2,92.6h0.8M119.7,106.7h0.8M122.0,77.4h0.8M108.2,80.5h0.8M123.8,71.4h0.8M123.9,92.1h0.8M112.1,79.1h0.8M121.4,93.2h0.8M120.7,81.8h0.8M118.5,77.7h0.8M120.0,66.3h0.8M122.9,77.2h0.8M122.3,74.5h0.8M121.8,83.9h0.8M124.0,88.8h0.8M124.1,79.5h0.8M119.8,78.1h0.8M114.4,80.1h0.8M124.8,93.4h0.8M116.2,86.4h0.8M123.3,61.9h0.8M121.6,86.9h0.8M123.3,85.8h0.8M112.3,52.2h0.8M128.8,76.2h0.8M125.7,100.7h0.8M120.4,65.1h0.8M126.1,81.5h0.8M122.3,89.1h0.8M124.2,97.0h0.8M113.7,61.2h0.8M120.6,82.1h0.8M123.5,80.0h0.8M119.2,112.0h0.8M126.1,99.1h0.8M124.6,70.3h0.8M119.6,81.0h0.8M115.1,69.2h0.8M120.7,64.1h0.8M122.4,89.0h0.8M119.0,77.0h0.8M122.7,89.1h0.8M121.6,63.9h0.8M117.1,76.6h0.8M111.9,70.2h0.8M116.7,93.8h0.8M108.3,61.3h0.8M118.2,74.7h0.8M116.6,75.5h0.8M113.0,85.9h0.8M125.3,84.3h0.8M117.6,100.7h0.8M122.2,66.8h0.8M117.5,73.0h0.8M119.8,99.9h0.8M116.9,79.8h0.8M120.5,64.4h0.8M117.9,91.0h0.8M125.0,54.4h0.8M123.1,77.7h0.8M125.7,91.2h0.8M128.8,86.6h0.8M118.2,69.7h0.8M113.6,90.2h0.8M122.3,94.1h0.8M121.6,59.9h0.8M118.2,78.4h0.8M120.7,93.3h0.8M126.3,86.2h0.8M110.8,67.0h0.8M110.5,70.7h0.8M114.7,85.5h0.8M119.0,98.4h0.8M124.8,75.3h0.8M124.2,82.2h0.8M122.0,101.8h0.8M114.9,81.0h0.8M126.8,70.8h0.8M121.0,84.0h0.8M118.2,62.7h0.8M116.9,67.5h0.8M124.8,85.7h0.8M123.1,64.5h0.8M122.2,84.1h0.8M124.7,71.4h0.8M123.6,102.2h0.8M128.0,68.3h0.8M115.0,60.5h0.8M124.3,90.8h0.8M121.5,69.3h0.8M125.6,105.6h0.8M119.8,80.2h0.8M125.3,89.5h0.8M126.0,76.1h0.8M121.5,77.0h0.8M117.5,77.6h0.8M118.7,89.4h0.8M118.7,83.0h0.8M116.4,64.0h0.8M126.4,67.6h0.8M128.1,95.8h0.8M109.8,72.6h0.8M118.1,82.3h0.8M119.2,73.1h0.8M125.6,80.1h0.8M124.3,71.9h0.8M116.9,101.6h0.8M118.8,65.9h0.8M119.2,97.5h0.8M119.3,71.5h0.8M122.8,96.4h0.8M119.1,77.3h0.8M119.2,107.6h0.8M119.3,88.0h0.8M111.0,84.6h0.8M120.2,77.4h0.8M118.2,62.0h0.8M113.4,84.5h0.8M117.2,80.7h0.8M119.2,74.6h0.8M116.8,109.3h0.8M115.1,74.5h0.8M118.7,65.1h0.8M115.7,94.7h0.8M124.1,83.9h0.8M125.5,70.0h0.8M124.8,106.7h0.8M118.3,108.5h0.8M116.4,65.4h0.8M119.8,70.2h0.8M122.8,65.8h0.8M120.4,53.3h0.8M119.9,97.4h0.8M118.8,86.6h0.8M124.9,65.9h0.8M114.4,83.2h0.8M121.2,78.1h0.8M115.7,99.8h0.8M114.8,78.2h0.8M119.8,92.6h0.8M118.0,70.0h0.8M129.0,69.6h0.8M123.6,79.8h0.8M117.9,81.4h0.8M118.9,86.6h0.8M108.7,81.6h0.8M120.3,67.8h0.8M128.2,91.4h0.8M121.0,77.5h0.8M126.2,75.5h0.8M116.4,92.1h0.8M115.7,70.4h0.8M126.4,58.5h0.8M119.7,83.8h0.8M121.2,60.7h0.8M119.0,77.1h0.8M128.6,96.7h0.8M116.7,94.8h0.8M122.9,80.4h0.8M118.9,78.0h0.8M113.2,72.8h0.8M124.2,103.2h0.8M128.3,76.5h0.8" stroke="#333" stroke-width="0.8" fill="none"/>
<path d="M113.6,111.2h0.8M101.3,120.1h0.8M116.4,117.1h0.8M90.7,121.4h0.8M110.5,136.5h0.8M92.4,144.1h0.8M107.3,123.5h0.8M109.9,129.9h0.8M116.6,132.7h0.8M96.2,136.2h0.8M115.6,122.2h0.8M94.7,123.7h0.8M102.1,139.6h0.8M97.3,130.6h0.8M115.1,137.6h0.8M109.5,121.9h0.8M123.9,142.6h0.8M124.5,133.2h0.8M111.6,134.9h0.8M84.3,136.4h0.8M91.6,133.3h0.8M91.1,135.6h0.8M98.4,149.4h0.8M107.7,134.0h0.8M92.6,127.8h0.8M104.3,127.8h0.8M99.1,123.2h0.8M115.6,127.0h0.8M93.8,132.9h0.8M93.9,128.6h0.8M98.0,122.8h0.8M102.0,123.6h0.8M87.8,132.8h0.8M101.0,118.6h0.8M99.6,131.5h0.8M111.0,132.9h0.8M108.6,134.7h0.8M98.3,123.8h0.8M113.6,126.8h0.8M105.2,135.1h0.8M118.1,139.5h0.8M95.6,127.1h0.8M112.8,118.8h0.8M87.7,134.7h0.8M96.6,122.8h0.8M116.2,134.1h0.8M117.8,127.4h0.8M101.1,127.4h0.8M109.2,114.2h0.8M95.6,135.5h0.8M94.4,129.5h0.8M106.8,134.1h0.8M98.6,121.2h0.8M128.7,116.3h0.8M106.6,128.5h0.8M131.2,145.9h0.8M118.6,122.1h0.8M94.0,124.2h0.8M98.0,132.0h0.8M94.3,128.1h0.8M125.4,141.2h0.8M100.0,140.1h0.8M100.6,144.9h0.8M110.2,141.2h0.8M93.3,127.6h0.8M119.2,134.5h0.8M107.6,134.9h0.8M96.4,143.5h0.8M107.2,141.3h0.8M110.7,130.7h0.8M100.7,120.9h0.8M117.0,135.9h0.8M118.0,127.1h0.8M91.3,127.1h0.8M100.8,129.9h0.8M118.7,122.9h0.8M98.4,135.4h0.8M117.6,147.2h0.8M112.4,123.4h0.8M90.8,123.9h0.8M106.1,132.0h0.8M104.2,125.3h0.8M102.6,129.4h0.8M113.3,130.7h0.8M94.0,120.9h0.8M125.5,129.3h0.8M102.7,129.8h0.8M120.7,127.6h0.8M107.6,128.2h0.8M113.1,122.2h0.8M108.0,138.0h0.8M121.4,134.8h0.8M109.2,142.2h0.8M114.9,140.9h0.8M88.7,121.5h0.8M116.2,128.0h0.8M99.2,122.7h0.8M125.6,120.8h0.8M106.6,119.2h0.8M102.8,147.4h0.8M91.3,142.6h0.8M93.4,116.2h0.8M110.0,121.7h0.8M85.3,138.7h0.8M95.2,121.8h0.8M107.5,128.6h0.8M120.6,130.8h0.8M127.0,138.8h0.8M129.6,138.7h0.8M106.2,134.2h0.8M105.5,118.0h0.8M89.1,135.8h0.8M87.6,129.5h0.8M91.0,131.9h0.8M102.5,126.4h0.8M93.6,112.8h0.8M106.2,120.0h0.8M101.2,132.9h0.8M119.6,135.5h0.8M125.5,119.0h0.8M114.5,142.2h0.8M110.6,121.4h0.8M110.7,126.0h0.8M96.4,138.3h0.8M102.8,121.4h0.8M95.9,145.2h0.8M93.6,135.2h0.8M107.7,139.1h0.8M101.4,122.7h0.8M96.4,122.1h0.8M100.8,139.8h0.8M114.2,128.6h0.8M113.7,132.1h0.8M120.7,142.8h0.8M100.9,129.7h0.8M102.7,139.5h0.8M110.5,136.1h0.8M117.5,125.1h0.8M107.0,140.7h0.8M117.9,136.3h0.8M101.4,127.2h0.8M93.5,127.9h0.8M104.4,118.9h0.8M121.1,124.1h0.8M108.7,134.7h0.8M97.7,116.0h0.8M118.4,133.2h0.8M101.8,138.8h0.8M117.5,122.6h0.8M104.1,116.4h0.8M101.6,140.9h0.8M93.8,136.4h0.8M84.6,127.7h0.8M118.1,143.3h0.8M111.4,135.9h0.8M128.7,111.1h0.8M81.9,144.6h0.8M106.1,132.0h0.8M105.6,125.3h0.8M105.0,129.1h0.8M114.4,135.3h0.8M118.6,134.6h0.8M92.0,140.8h0.8M109.8,125.9h0.8M130.8,121.6h0.8M89.3,126.1h0.8M110.9,136.2h0.8M106.7,135.2h0.8M95.7,125.3h0.8M107.0,119.6h0.8M107.8,127.0h0.8M114.6,122.2h0.8M98.0,125.6h0.8M100.2,122.3h0.8M101.7,119.6h0.8M112.5,135.2h0.8M105.0,128.6h0.8M93.1,122.6h0.8M102.3,123.0h0.8M89.2,131.3h0.8M105.0,126.9h0.8M94.2,129.6h0.8M95.8,126.7h0.8M107.8,135.6h0.8M115.5,125.3h0.8M121.7,121.1h0.8M102.9,140.1h0.8M100.3,127.1h0.8M88.7,128.9h0.8M99.5,124.2h0.8M121.5,124.0h0.8M128.2,136.5h0.8M113.9,125.5h0.8M98.3,114.6h0.8M108.9,127.9h0.8M110.5,124.8h0.8M111.8,118.5h0.8M122.7,127.3h0.8M103.0,118.1h0.8M91.7,135.5h0.8M95.3,129.7h0.8M103.1,145.4h0.8M117.3,119.8h0.8M98.7,121.1h0.8M86.4,124.7h0.8M120.1,130.4h0.8M114.3,129.0h0.8M99.5,130.7h0.8M104.2,144.9h0.8M129.5,132.9h0.8M113.4,114.6h0.8M103.5,148.5h0.8M94.4,136.3h0.8M121.7,126.9h0.8M102.2,126.5h0.8M116.0,130.2h0.8M125.5,139.2h0.8M101.0,125.3h0.8M102.0,123.2h0.8M99.5,129.5h0.8M117.2,117.8h0.8M86.3,124.0h0.8M101.1,133.5h0.8M94.5,141.7h0.8M98.1,128.3h0.8M105.9,139.1h0.8M109.2,130.2h0.8M97.9,131.3h0.8M110.6,127.3h0.8M104.9,115.8h0.8M98.0,139.2h0.8M124.4,129.4h0.8M102.9,149.9h0.8M99.6,137.8h0.8M96.8,140.6h0.8M120.8,121.8h0.8M102.2,120.6h0.8M108.9,126.9h0.8M84.9,121.9h0.8M108.5,118.2h0.8M119.8,133.5h0.8M102.7,140.9h0.8M92.7,135.3h0.8M86.9,127.5h0.8M113.8,125.9h0.8M103.6,135.0h0.8M125.7,140.1h0.8M111.4,128.0h0.8M85.6,143.3h0.8M130.5,113.3h0.8M116.9,129.7h0.8M114.7,132.5h0.8M102.5,130.0h0.8M104.6,139.1h0.8M101.6,125.8h0.8M114.0,135.0h0.8M111.0,132.2h0.8M125.0,138.7h0.8M108.0,128.4h0.8M114.0,115.5h0.8M98.1,124.5h0.8M107.5,127.0h0.8M110.6,147.5h0.8M105.1,127.5h0.8M121.7,136.4h0.8M117.6,139.4h0.8M100.2,124.9h0.8M95.4,130.8h0.8M118.6,121.8h0.8M97.9,119.6h0.8M132.1,136.2h0.8M108.1,120.5h0.8M91.3,125.0h0.8M105.6,120.1h0.8M102.1,139.5h0.8M105.3,130.8h0.8M103.2,124.6h0.8M86.5,129.4h0.8M91.4,125.8h0.8M83.7,129.3h0.8M117.4,123.5h0.8M109.5,118.2h0.8M112.9,134.2h0.8M99.9,136.9h0.8M93.3,130.4h0.8M127.8,129.8h0.8M90.0,139.0h0.8M112.3,127.8h0.8M80.7,115.3h0.8M84.7,141.6h0.8M109.1,123.4h0.8M120.6,141.4h0.8M93.8,133.8h0.8M83.0,132.9h0.8M129.6,119.0h0.8M105.9,125.1h0.8M103.9,130.7h0.8M108.9,136.9h0.8M112.0,138.2h0.8M118.8,138.6h0.8M96.1,133.2h0.8M100.1,123.4h0.8M131.4,132.3h0.8M105.7,113.6h0.8M102.0,136.0h0.8M102.4,125.8h0.8M124.9,127.6h0.8M100.7,129.2h0.8M102.0,138.2h0.8M112.8,129.5h0.8M100.3,128.2h0.8M127.8,127.6h0.8M113.9,117.7h0.8M109.4,135.4h0.8M122.2,132.5h0.8M112.9,132.5h0.8M119.4,146.0h0.8M107.8,123.6h0.8M113.1,129.1h0.8M113.7,136.1h0.8M107.2,126.6h0.8M109.2,120.3h0.8M108.8,123.1h0.8M111.2,131.0h0.8M102.2,120.6h0.8M105.8,124.7h0.8M103.2,135.4h0.8M117.9,119.9h0.8M117.7,140.6h0.8M120.2,132.2h0.8M103.9,143.6h0.8M100.8,118.1h0.8M106.3,132.2h0.8M91.3,120.5h0.8M131.7,130.9h0.8M115.6,125.4h0.8M84.8,128.6h0.8M123.1,124.8h0.8M81.2,128.7h0.8M101.4,130.1h0.8M91.2,127.6h0.8M97.9,136.9h0.8M107.2,136.8h0.8M104.5,113.3h0.8M116.9,136.8h0.8M104.1,116.1h0.8M98.6,133.2h0.8M123.6,127.3h0.8M97.6,124.0h0.8M118.8,136.8h0.8M80.7,139.5h0.8M92.8,118.5h0.8M83.8,124.3h0.8M88.5,124.8h0.8M107.3,133.2h0.8M98.8,117.6h0.8M99.6,124.7h0.8M81.1,131.1h0.8M85.5,116.4h0.8M125.5,137.3h0.8M124.5,130.9h0.8M99.6,129.3h0.8M86.8,135.8h0.8M108.8,127.6h0.8M80.1,129.1h0.8M127.0,141.3h0.8M116.9,127.3h0.8M107.0,134.3h0.8M107.8,138.2h0.8M96.2,111.9h0.8M86.6,135.2h0.8M119.6,130.0h0.8M112.4,130.6h0.8M107.5,126.3h0.8M99.7,139.3h0.8M101.6,129.7h0.8M121.2,137.7h0.8M99.9,132.0h0.8M91.6,131.0h0.8M109.4,130.0h0.8M107.3,132.9h0.8M106.2,126.2h0.8M92.2,128.1h0.8M126.7,128.2h0.8M96.4,126.3h0.8M89.2,133.8h0.8M92.0,137.1h0.8M117.3,134.5h0.8M119.1,129.3h0.8M81.6,129.5h0.8M113.7,117.9h0.8M88.8,138.6h0.8M111.0,140.5h0.8M114.1,130.5h0.8M110.9,136.6h0.8M104.8,128.4h0.8M109.4,127.5h0.8M84.8,119.9h0.8M119.2,126.8h0.8M107.3,128.3h0.8M108.9,118.7h0.8M106.3,125.5h0.8M119.8,134.9h0.8M88.2,122.4h0.8M112.8,139.4h0.8M115.5,128.8h0.8M120.1,111.6h0.8M98.0,122.4h0.8M91.3,134.4h0.8M108.9,132.2h0.8M103.4,134.9h0.8M115.7,125.5h0.8M117.8,122.7h0.8M128.9,119.8h0.8M101.3,121.5h0.8M105.7,140.3h0.8M95.1,143.9h0.8M124.2,133.0h0.8M97.2,137.1h0.8M118.2,129.7h0.8M87.2,128.3h0.8M113.0,143.4h0.8M81.4,131.2h0.8M122.3,124.7h0.8M99.0,120.5h0.8M115.6,136.5h0.8M113.2,131.9h0.8M118.6,129.0h0.8M114.9,136.4h0.8M122.8,134.0h0.8M106.3,135.6h0.8M84.2,116.2h0.8M127.1,131.1h0.8M90.9,125.4h0.8M103.2,130.6h0.8M94.8,137.8h0.8M90.5,143.0h0.8M114.3,116.8h0.8M88.6,130.5h0.8M108.9,126.7h0.8M105.4,131.3h0.8M89.6,130.5h0.8M91.4,135.2h0.8M123.5,138.2h0.8M96.6,129.4h0.8M108.0,128.4h0.8M110.6,138.5h0.8M112.6,129.9h0.8M102.4,144.1h0.8M88.4,145.8h0.8M115.2,130.7h0.8M95.0,144.4h0.8M121.8,137.2h0.8M133.7,115.9h0.8M106.6,127.6h0.8M95.2,130.6h0.8M112.5,134.1h0.8M103.3,119.6h0.8M112.8,134.8h0.8M105.4,121.0h0.8M107.9,135.9h0.8M112.1,140.5h0.8M91.0,124.6h0.8M107.6,120.3h0.8M96.8,140.9h0.8M109.3,129.2h0.8M97.4,130.4h0.8M104.7,121.5h0.8M116.0,119.9h0.8M122.8,127.3h0.8M109.2,123.1h0.8M130.1,140.9h0.8M123.8,125.2h0.8M123.2,126.5h0.8M104.5,119.2h0.8M106.0,133.2h0.8M104.3,121.2h0.8M117.7,137.2h0.8M104.0,136.2h0.8M118.8,122.2h0.8M104.7,115.3h0.8M90.9,133.4h0.8M93.0,133.1h0.8M110.2,113.6h0.8M98.4,142.0h0.8M105.4,131.0h0.8M95.4,117.3h0.8M102.6,123.1h0.8M106.7,114.6h0.8M124.6,143.6h0.8M94.7,132.6h0.8M92.7,136.8h0.8M93.5,128.9h0.8M123.4,134.2h0.8M100.6,117.9h0.8M83.0,139.6h0.8M112.3,130.5h0.8M122.7,131.2h0.8M95.0,129.2h0.8M103.8,129.9h0.8M109.0,128.0h0.8M95.7,122.1h0.8M84.0,115.2h0.8M92.1,113.8h0.8M124.4,139.9h0.8M91.7,146.3h0.8M114.4,109.9h0.8M105.5,122.0h0.8M80.8,127.9h0.8M121.3,133.5h0.8M84.7,124.7h0.8M94.5,139.1h0.8M103.8,122.2h0.8M92.4,114.3h0.8M93.3,137.2h0.8M103.6,136.5h0.8M89.1,137.3h0.8M126.9,148.3h0.8M82.3,129.8h0.8M102.2,131.0h0.8M91.3,136.9h0.8M91.7,125.4h0.8M115.4,131.1h0.8M94.4,139.9h0.8M112.4,138.2h0.8M102.7,140.2h0.8M98.6,121.1h0.8M105.0,118.8h0.8M122.7,135.9h0.8M81.5,131.4h0.8M117.0,127.1h0.8M111.0,125.3h0.8M104.1,129.3h0.8M111.9,122.2h0.8M89.2,132.6h0.8M98.0,134.2h0.8M98.0,119.5h0.8M115.5,132.1h0.8M115.4,127.3h0.8M100.0,140.1h0.8M81.3,143.9h0.8M112.3,129.5h0.8M106.3,134.8h0.8M94.2,132.2h0.8M91.7,115.2h0.8M107.9,130.8h0.8M114.2,134.5h0.8M114.9,136.3h0.8M90.2,139.8h0.8M87.4,135.5h0.8M118.0,138.1h0.8M126.7,118.9h0.8M110.4,133.7h0.8M122.7,122.8h0.8M105.4,127.0h0.8M102.8,128.8h0.8M102.9,115.8h0.8M104.5,130.5h0.8M95.3,124.8h0.8M92.8,142.9h0.8M118.1,128.5h0.8M91.4,133.8h0.8M96.6,141.9h0.8M120.7,129.0h0.8M113.7,123.6h0.8M82.8,136.8h0.8M128.1,127.6h0.8M97.6,115.6h0.8M91.4,128.4h0.8M122.1,130.4h0.8M104.8,130.2h0.8M117.0,129.7h0.8M107.3,129.4h0.8M89.4,140.8h0.8M95.3,119.4h0.8M98.9,130.3h0.8M116.6,118.2h0.8M87.2,131.4h0.8M110.4,121.2h0.8M89.1,131.4h0.8M103.0,117.0h0.8M92.7,141.9h0.8M90.1,138.4h0.8M83.5,141.9h0.8M127.6,124.9h0.8M95.4,135.1h0.8M87.6,134.4h0.8M122.2,132.1h0.8M109.6,128.7h0.8M119.2,123.4h0.8M127.4,129.8h0.8M100.4,116.9h0.8M98.8,131.9h0.8M122.5,117.0h0.8M103.2,124.5h0.8M88.2,130.0h0.8M94.3,137.0h0.8M112.3,127.3h0.8M106.8,122.2h0.8M90.3,124.1h0.8M104.2,123.2h0.8M99.1,123.1h0.8M108.3,120.9h0.8M104.7,130.8h0.8M118.5,124.0h0.8M89.0,118.0h0.8M115.7,125.0h0.8M118.9,129.4h0.8M101.1,115.1h0.8M95.5,136.3h0.8M96.4,135.4h0.8M81.9,138.2h0.8M109.5,120.1h0.8M97.6,124.7h0.8M107.6,113.8h0.8M92.9,136.4h0.8M107.1,136.0h0.8M117.0,120.8h0.8M86.1,133.7h0.8M105.5,130.6h0.8M93.6,138.2h0.8M112.0,139.2h0.8M100.0,135.6h0.8M104.2,122.4h0.8M103.9,116.7h0.8M102.5,131.4h0.8M114.8,121.5h0.8M86.3,124.1h0.8M94.3,124.5h0.8M129.8,120.6h0.8M103.4,129.4h0.8M94.7,124.2h0.8M81.4,123.3h0.8M123.3,141.4h0.8M101.0,135.7h0.8M111.5,130.9h0.8M103.1,139.8h0.8M113.0,128.2h0.8M101.7,137.5h0.8M96.7,124.2h0.8M101.1,126.0h0.8M122.7,132.9h0.8M103.8,125.8h0.8M124.9,133.5h0.8M102.0,125.6h0.8M101.0,131.5h0.8M116.1,133.9h0.8M127.1,117.8h0.8M105.4,118.6h0.8M90.5,125.2h0.8M95.9,122.2h0.8M83.7,139.1h0.8" stroke="#222" stroke-width="0.8" fill="none"/>
<path d="M88.8,133.9h0.8M79.1,130.9h0.8M80.4,113.9h0.8M62.2,148.9h0.8M115.2,136.9h0.8M90.2,144.9h0.8M102.5,82.8h0.8M77.5,101.9h0.8M68.1,58.1h0.8M104.6,124.9h0.8M89.8,129.5h0.8M155.6,55.5h0.8M109.0,66.2h0.8M77.4,106.2h0.8M129.4,119.0h0.8M87.2,138.4h0.8M150.8,117.2h0.8M89.7,43.1h0.8M97.9,126.5h0.8M90.9,93.6h0.8M151.6,78.4h0.8M66.9,101.4h0.8M139.3,120.8h0.8M102.5,82.7h0.8M143.3,131.0h0.8M121.5,77.9h0.8M54.7,89.4h0.8M99.2,141.5h0.8M55.4,87.5h0.8M80.5,106.6h0.8M127.3,64.7h0.8M96.5,42.7h0.8M44.4,46.0h0.8M129.6,110.8h0.8M125.7,142.6h0.8M101.6,108.2h0.8M114.2,116.4h0.8M62.6,90.3h0.8M94.6,101.2h0.8M73.7,95.3h0.8M110.0,106.5h0.8M120.7,128.8h0.8M119.5,133.8h0.8M129.5,148.8h0.8M122.0,78.2h0.8M143.8,125.6h0.8M101.7,59.8h0.8M115.3,87.5h0.8M154.3,59.0h0.8M61.4,116.3h0.8M119.9,72.2h0.8M99.7,108.8h0.8M105.5,118.5h0.8M127.2,87.1h0.8M86.5,65.2h0.8M126.3,120.5h0.8" stroke="#999" stroke-width="0.8" fill="none"/>
<path d="M83.00,119.60C84.58,115.85 88.33,115.88 92.00,114.50C95.67,113.12 101.00,111.67 105.00,111.30C109.00,110.93 113.00,111.52 116.00,112.30C119.00,113.08 121.25,114.38 123.00,116.00C124.75,117.62 125.83,119.67 126.50,122.00C127.17,124.33 127.25,127.50 127.00,130.00C126.75,132.50 126.33,135.08 125.00,137.00C123.67,138.92 121.83,140.42 119.00,141.50C116.17,142.58 112.00,143.20 108.00,143.50C104.00,143.80 98.67,143.63 95.00,143.30C91.33,142.97 88.08,142.55 86.00,141.50C83.92,140.45 83.00,140.65 82.50,137.00C82.00,133.35 81.42,123.35 83.00,119.60Z" fill="#fff" stroke="#000" stroke-width="0.8"/>
<path d="M84.47,120.61C85.94,117.12 89.43,117.15 92.84,115.86C96.25,114.58 101.21,113.23 104.93,112.89C108.65,112.55 112.37,113.09 115.16,113.82C117.95,114.55 120.04,115.76 121.67,117.26C123.30,118.76 124.30,120.67 124.92,122.84C125.55,125.01 125.62,127.95 125.39,130.28C125.16,132.60 124.77,135.01 123.53,136.79C122.29,138.57 120.59,139.97 117.95,140.97C115.31,141.98 111.44,142.56 107.72,142.84C104.00,143.11 99.04,142.96 95.63,142.65C92.22,142.34 89.20,141.95 87.26,140.97C85.32,140.00 84.47,140.18 84.00,136.79C83.54,133.40 83.00,124.10 84.47,120.61Z" fill="none" stroke="#000" stroke-width="0.7"/>
<path d="M85.94,121.62C87.30,118.39 90.53,118.42 93.68,117.23C96.83,116.04 101.42,114.79 104.86,114.48C108.30,114.16 111.74,114.66 114.32,115.34C116.90,116.01 118.84,117.13 120.34,118.52C121.84,119.91 122.78,121.67 123.35,123.68C123.92,125.69 124.00,128.41 123.78,130.56C123.56,132.71 123.21,134.93 122.06,136.58C120.91,138.23 119.34,139.52 116.90,140.45C114.46,141.38 110.88,141.91 107.44,142.17C104.00,142.43 99.41,142.28 96.26,142.00C93.11,141.71 90.31,141.35 88.52,140.45C86.73,139.55 85.94,139.72 85.51,136.58C85.08,133.44 84.58,124.84 85.94,121.62Z" fill="none" stroke="#000" stroke-width="0.7"/>
<path d="M87.41,122.62C88.66,119.66 91.62,119.69 94.52,118.59C97.42,117.50 101.63,116.36 104.79,116.07C107.95,115.78 111.11,116.24 113.48,116.86C115.85,117.48 117.63,118.50 119.01,119.78C120.39,121.06 121.25,122.68 121.78,124.52C122.30,126.36 122.37,128.87 122.17,130.84C121.97,132.81 121.64,134.86 120.59,136.37C119.54,137.88 118.09,139.07 115.85,139.93C113.61,140.78 110.32,141.27 107.16,141.50C104.00,141.74 99.79,141.61 96.89,141.35C93.99,141.08 91.43,140.75 89.78,139.93C88.13,139.10 87.41,139.25 87.02,136.37C86.62,133.49 86.16,125.59 87.41,122.62Z" fill="none" stroke="#000" stroke-width="0.7"/>
<path d="M88.88,123.63C90.02,120.93 92.72,120.96 95.36,119.96C98.00,118.96 101.84,117.92 104.72,117.66C107.60,117.39 110.48,117.81 112.64,118.38C114.80,118.94 116.42,119.88 117.68,121.04C118.94,122.20 119.72,123.68 120.20,125.36C120.68,127.04 120.74,129.32 120.56,131.12C120.38,132.92 120.08,134.78 119.12,136.16C118.16,137.54 116.84,138.62 114.80,139.40C112.76,140.18 109.76,140.62 106.88,140.84C104.00,141.06 100.16,140.94 97.52,140.70C94.88,140.46 92.54,140.16 91.04,139.40C89.54,138.64 88.88,138.79 88.52,136.16C88.16,133.53 87.74,126.33 88.88,123.63Z" fill="#666" stroke="#000" stroke-width="0.75"/>
<path d="M90.14,124.50C91.19,122.02 93.66,122.04 96.08,121.13C98.50,120.22 102.02,119.26 104.66,119.02C107.30,118.78 109.94,119.16 111.92,119.68C113.90,120.19 115.39,121.05 116.54,122.12C117.70,123.19 118.41,124.54 118.85,126.08C119.29,127.62 119.34,129.71 119.18,131.36C119.02,133.01 118.74,134.72 117.86,135.98C116.98,137.24 115.77,138.23 113.90,138.95C112.03,139.66 109.28,140.07 106.64,140.27C104.00,140.47 100.48,140.36 98.06,140.14C95.64,139.92 93.50,139.64 92.12,138.95C90.75,138.26 90.14,138.39 89.81,135.98C89.48,133.57 89.09,126.97 90.14,124.50Z" fill="none" stroke="#ddd" stroke-width="0.5"/>
<path d="M91.40,125.36C92.35,123.11 94.60,123.13 96.80,122.30C99.00,121.47 102.20,120.60 104.60,120.38C107.00,120.16 109.40,120.51 111.20,120.98C113.00,121.45 114.35,122.23 115.40,123.20C116.45,124.17 117.10,125.40 117.50,126.80C117.90,128.20 117.95,130.10 117.80,131.60C117.65,133.10 117.40,134.65 116.60,135.80C115.80,136.95 114.70,137.85 113.00,138.50C111.30,139.15 108.80,139.52 106.40,139.70C104.00,139.88 100.80,139.78 98.60,139.58C96.40,139.38 94.45,139.13 93.20,138.50C91.95,137.87 91.40,137.99 91.10,135.80C90.80,133.61 90.45,127.61 91.40,125.36Z" fill="none" stroke="#ddd" stroke-width="0.5"/>
<path d="M118.50,133.50C118.50,134.73 117.96,136.08 117.01,137.19C116.07,138.30 114.55,139.38 112.85,140.15C111.16,140.91 108.95,141.51 106.84,141.79C104.72,142.06 102.28,142.06 100.16,141.79C98.05,141.51 95.84,140.91 94.15,140.15C92.45,139.38 90.93,138.30 89.99,137.19C89.04,136.08 88.50,134.73 88.50,133.50C88.50,132.27 89.04,130.92 89.99,129.81C90.93,128.70 92.45,127.62 94.15,126.85C95.84,126.09 98.05,125.49 100.16,125.21C102.28,124.94 104.72,124.94 106.84,125.21C108.95,125.49 111.16,126.09 112.85,126.85C114.55,127.62 116.07,128.70 117.01,129.81C117.96,130.92 118.50,132.27 118.50,133.50Z" fill="#1a1a1a"/>
<path d="M114.75,133.50C114.75,134.42 114.34,135.44 113.64,136.27C112.93,137.10 111.79,137.91 110.51,138.48C109.24,139.06 107.59,139.51 106.00,139.72C104.42,139.92 102.58,139.92 101.00,139.72C99.41,139.51 97.76,139.06 96.49,138.48C95.21,137.91 94.07,137.10 93.36,136.27C92.66,135.44 92.25,134.42 92.25,133.50C92.25,132.58 92.66,131.56 93.36,130.73C94.07,129.90 95.21,129.09 96.49,128.52C97.76,127.94 99.41,127.49 101.00,127.28C102.58,127.08 104.42,127.08 106.00,127.28C107.59,127.49 109.24,127.94 110.51,128.52C111.79,129.09 112.93,129.90 113.64,130.73C114.34,131.56 114.75,132.58 114.75,133.50Z" fill="none" stroke="#555" stroke-width="0.4"/>
<path d="M111.00,133.50C111.00,134.11 110.73,134.79 110.26,135.34C109.79,135.90 109.02,136.44 108.18,136.82C107.33,137.21 106.23,137.51 105.17,137.64C104.11,137.78 102.89,137.78 101.83,137.64C100.77,137.51 99.67,137.21 98.82,136.82C97.98,136.44 97.21,135.90 96.74,135.34C96.27,134.79 96.00,134.11 96.00,133.50C96.00,132.89 96.27,132.21 96.74,131.66C97.21,131.10 97.98,130.56 98.82,130.18C99.67,129.79 100.77,129.49 101.83,129.36C102.89,129.22 104.11,129.22 105.17,129.36C106.23,129.49 107.33,129.79 108.18,130.18C109.02,130.56 109.79,131.10 110.26,131.66C110.73,132.21 111.00,132.89 111.00,133.50Z" fill="none" stroke="#555" stroke-width="0.4"/>
<ellipse cx="105" cy="132.8" rx="2.4" ry="1.2" fill="#fff"/>
<ellipse cx="98.5" cy="133.5" rx="1.3" ry="0.7" fill="#aaa"/>
<path d="M72.80,74.50C73.88,74.50 75.47,74.75 76.50,76.00C77.53,77.25 78.50,78.83 79.00,82.00C79.50,85.17 79.33,90.67 79.50,95.00C79.67,99.33 79.58,104.50 80.00,108.00C80.42,111.50 81.42,113.17 82.00,116.00C82.58,118.83 83.33,121.83 83.50,125.00C83.67,128.17 83.58,132.42 83.00,135.00C82.42,137.58 81.67,139.33 80.00,140.50C78.33,141.67 75.33,142.00 73.00,142.00C70.67,142.00 67.53,142.00 66.00,140.50C64.47,139.00 63.97,136.08 63.80,133.00C63.63,129.92 64.38,125.50 65.00,122.00C65.62,118.50 67.08,116.50 67.50,112.00C67.92,107.50 67.42,100.00 67.50,95.00C67.58,90.00 67.58,85.17 68.00,82.00C68.42,78.83 69.20,77.25 70.00,76.00C70.80,74.75 71.72,74.50 72.80,74.50Z" fill="#fff" stroke="#000" stroke-width="0.75"/>
<path d="M72.81,77.12C73.82,77.12 75.29,77.36 76.25,78.52C77.22,79.68 78.11,81.16 78.58,84.10C79.05,87.04 78.89,92.16 79.05,96.19C79.20,100.22 79.12,105.03 79.51,108.28C79.90,111.53 80.83,113.08 81.37,115.72C81.91,118.36 82.61,121.15 82.77,124.09C82.92,127.03 82.84,130.99 82.30,133.39C81.76,135.79 81.06,137.42 79.51,138.50C77.96,139.59 75.17,139.90 73.00,139.90C70.83,139.90 67.92,139.90 66.49,138.50C65.06,137.11 64.60,134.40 64.44,131.53C64.29,128.66 64.99,124.55 65.56,121.30C66.13,118.05 67.50,116.19 67.89,112.00C68.27,107.81 67.81,100.84 67.89,96.19C67.96,91.54 67.96,87.04 68.35,84.10C68.74,81.16 69.47,79.68 70.21,78.52C70.95,77.36 71.81,77.12 72.81,77.12Z" fill="none" stroke="#000" stroke-width="0.7"/>
<path d="M72.83,79.75C73.76,79.75 75.12,79.96 76.01,81.04C76.90,82.11 77.73,83.48 78.16,86.20C78.59,88.92 78.45,93.65 78.59,97.38C78.73,101.11 78.66,105.55 79.02,108.56C79.38,111.57 80.24,113.00 80.74,115.44C81.24,117.88 81.89,120.46 82.03,123.18C82.17,125.90 82.10,129.56 81.60,131.78C81.10,134.00 80.45,135.51 79.02,136.51C77.59,137.51 75.01,137.80 73.00,137.80C70.99,137.80 68.30,137.80 66.98,136.51C65.66,135.22 65.23,132.71 65.09,130.06C64.94,127.41 65.59,123.61 66.12,120.60C66.65,117.59 67.91,115.87 68.27,112.00C68.63,108.13 68.20,101.68 68.27,97.38C68.34,93.08 68.34,88.92 68.70,86.20C69.06,83.48 69.73,82.11 70.42,81.04C71.11,79.96 71.90,79.75 72.83,79.75Z" fill="none" stroke="#000" stroke-width="0.7"/>
<path d="M73.50,116.00C74.92,116.17 76.67,116.83 78.00,118.00C79.33,119.17 80.75,121.00 81.50,123.00C82.25,125.00 82.58,127.67 82.50,130.00C82.42,132.33 81.92,135.17 81.00,137.00C80.08,138.83 78.50,140.25 77.00,141.00C75.50,141.75 73.67,141.67 72.00,141.50C70.33,141.33 68.25,141.08 67.00,140.00C65.75,138.92 64.92,137.00 64.50,135.00C64.08,133.00 64.17,130.33 64.50,128.00C64.83,125.67 65.67,122.83 66.50,121.00C67.33,119.17 68.33,117.83 69.50,117.00C70.67,116.17 72.08,115.83 73.50,116.00Z" fill="#fff" stroke="#000" stroke-width="0.75"/>
<path d="M73.50,118.10C74.72,118.24 76.22,118.82 77.37,119.82C78.52,120.82 79.73,122.40 80.38,124.12C81.02,125.84 81.31,128.13 81.24,130.14C81.17,132.15 80.74,134.58 79.95,136.16C79.16,137.74 77.80,138.95 76.51,139.60C75.22,140.25 73.64,140.17 72.21,140.03C70.78,139.89 68.98,139.67 67.91,138.74C66.83,137.81 66.12,136.16 65.76,134.44C65.40,132.72 65.47,130.43 65.76,128.42C66.05,126.41 66.76,123.98 67.48,122.40C68.20,120.82 69.06,119.68 70.06,118.96C71.06,118.24 72.28,117.96 73.50,118.10Z" fill="none" stroke="#000" stroke-width="0.7"/>
<path d="M73.50,120.20C74.52,120.32 75.78,120.80 76.74,121.64C77.70,122.48 78.72,123.80 79.26,125.24C79.80,126.68 80.04,128.60 79.98,130.28C79.92,131.96 79.56,134.00 78.90,135.32C78.24,136.64 77.10,137.66 76.02,138.20C74.94,138.74 73.62,138.68 72.42,138.56C71.22,138.44 69.72,138.26 68.82,137.48C67.92,136.70 67.32,135.32 67.02,133.88C66.72,132.44 66.78,130.52 67.02,128.84C67.26,127.16 67.86,125.12 68.46,123.80C69.06,122.48 69.78,121.52 70.62,120.92C71.46,120.32 72.48,120.08 73.50,120.20Z" fill="none" stroke="#000" stroke-width="0.7"/>
<path d="M73.50,122.00C74.35,122.10 75.40,122.50 76.20,123.20C77.00,123.90 77.85,125.00 78.30,126.20C78.75,127.40 78.95,129.00 78.90,130.40C78.85,131.80 78.55,133.50 78.00,134.60C77.45,135.70 76.50,136.55 75.60,137.00C74.70,137.45 73.60,137.40 72.60,137.30C71.60,137.20 70.35,137.05 69.60,136.40C68.85,135.75 68.35,134.60 68.10,133.40C67.85,132.20 67.90,130.60 68.10,129.20C68.30,127.80 68.80,126.10 69.30,125.00C69.80,123.90 70.40,123.10 71.10,122.60C71.80,122.10 72.65,121.90 73.50,122.00Z" fill="#333" stroke="#111" stroke-width="0.5"/>
<path d="M73.50,124.25C74.14,124.33 74.93,124.62 75.53,125.15C76.12,125.68 76.76,126.50 77.10,127.40C77.44,128.30 77.59,129.50 77.55,130.55C77.51,131.60 77.29,132.88 76.88,133.70C76.46,134.52 75.75,135.16 75.08,135.50C74.40,135.84 73.58,135.80 72.83,135.72C72.08,135.65 71.14,135.54 70.58,135.05C70.01,134.56 69.64,133.70 69.45,132.80C69.26,131.90 69.30,130.70 69.45,129.65C69.60,128.60 69.97,127.33 70.35,126.50C70.72,125.67 71.17,125.08 71.70,124.70C72.23,124.33 72.86,124.17 73.50,124.25Z" fill="none" stroke="#888" stroke-width="0.4"/>
<path d="M73.50,126.50C73.92,126.55 74.45,126.75 74.85,127.10C75.25,127.45 75.68,128.00 75.90,128.60C76.12,129.20 76.23,130.00 76.20,130.70C76.17,131.40 76.03,132.25 75.75,132.80C75.47,133.35 75.00,133.78 74.55,134.00C74.10,134.22 73.55,134.20 73.05,134.15C72.55,134.10 71.92,134.02 71.55,133.70C71.17,133.38 70.92,132.80 70.80,132.20C70.67,131.60 70.70,130.80 70.80,130.10C70.90,129.40 71.15,128.55 71.40,128.00C71.65,127.45 71.95,127.05 72.30,126.80C72.65,126.55 73.08,126.45 73.50,126.50Z" fill="none" stroke="#888" stroke-width="0.4"/>
<ellipse cx="73.5" cy="131" rx="1.3" ry="0.9" fill="#aaa"/>
<path d="M76.10,88.00C76.10,89.67 75.93,91.56 75.66,93.00C75.38,94.44 74.93,95.83 74.45,96.66C73.97,97.49 73.35,98.00 72.80,98.00C72.25,98.00 71.63,97.49 71.15,96.66C70.67,95.83 70.22,94.44 69.94,93.00C69.67,91.56 69.50,89.67 69.50,88.00C69.50,86.33 69.67,84.44 69.94,83.00C70.22,81.56 70.67,80.17 71.15,79.34C71.63,78.51 72.25,78.00 72.80,78.00C73.35,78.00 73.97,78.51 74.45,79.34C74.93,80.17 75.38,81.56 75.66,83.00C75.93,84.44 76.10,86.33 76.10,88.00Z" fill="#fff" stroke="#000" stroke-width="0.75"/>
<path d="M75.11,88.00C75.11,89.17 74.99,90.49 74.80,91.50C74.61,92.51 74.29,93.48 73.95,94.06C73.62,94.65 73.19,95.00 72.80,95.00C72.41,95.00 71.98,94.65 71.64,94.06C71.31,93.48 70.99,92.51 70.80,91.50C70.61,90.49 70.49,89.17 70.49,88.00C70.49,86.83 70.61,85.51 70.80,84.50C70.99,83.49 71.31,82.52 71.64,81.94C71.98,81.35 72.41,81.00 72.80,81.00C73.19,81.00 73.62,81.35 73.95,81.94C74.29,82.52 74.61,83.49 74.80,84.50C74.99,85.51 75.11,86.83 75.11,88.00Z" fill="none" stroke="#000" stroke-width="0.7"/>
<path d="M124.20,67.50C125.12,67.75 125.92,68.25 126.50,70.00C127.08,71.75 127.53,74.67 127.70,78.00C127.87,81.33 127.87,86.33 127.50,90.00C127.13,93.67 126.50,97.08 125.50,100.00C124.50,102.92 122.92,106.08 121.50,107.50C120.08,108.92 118.33,108.92 117.00,108.50C115.67,108.08 114.12,107.08 113.50,105.00C112.88,102.92 113.05,99.33 113.30,96.00C113.55,92.67 114.22,88.67 115.00,85.00C115.78,81.33 117.00,76.75 118.00,74.00C119.00,71.25 119.97,69.58 121.00,68.50C122.03,67.42 123.28,67.25 124.20,67.50Z" fill="#fff" stroke="#000" stroke-width="0.75"/>
<path d="M123.83,70.05C124.66,70.27 125.38,70.72 125.90,72.30C126.43,73.88 126.83,76.50 126.98,79.50C127.13,82.50 127.13,87.00 126.80,90.30C126.47,93.60 125.90,96.67 125.00,99.30C124.10,101.92 122.68,104.77 121.40,106.05C120.12,107.33 118.55,107.33 117.35,106.95C116.15,106.58 114.75,105.67 114.20,103.80C113.65,101.92 113.80,98.70 114.02,95.70C114.24,92.70 114.84,89.10 115.55,85.80C116.25,82.50 117.35,78.38 118.25,75.90C119.15,73.43 120.02,71.93 120.95,70.95C121.88,69.97 123.00,69.83 123.83,70.05Z" fill="none" stroke="#000" stroke-width="0.7"/>
<path d="M123.39,73.11C124.10,73.31 124.73,73.70 125.18,75.06C125.64,76.42 125.99,78.70 126.12,81.30C126.25,83.90 126.25,87.80 125.96,90.66C125.67,93.52 125.18,96.18 124.40,98.46C123.62,100.73 122.39,103.20 121.28,104.31C120.17,105.42 118.81,105.42 117.77,105.09C116.73,104.77 115.52,103.98 115.04,102.36C114.56,100.73 114.69,97.94 114.88,95.34C115.08,92.74 115.60,89.62 116.21,86.76C116.82,83.90 117.77,80.33 118.55,78.18C119.33,76.04 120.08,74.73 120.89,73.89C121.70,73.05 122.67,72.91 123.39,73.11Z" fill="none" stroke="#000" stroke-width="0.7"/>
<path d="M122.87,76.68C123.45,76.84 123.97,77.16 124.34,78.28C124.71,79.40 125.00,81.27 125.11,83.40C125.21,85.53 125.21,88.73 124.98,91.08C124.75,93.43 124.34,95.61 123.70,97.48C123.06,99.35 122.05,101.37 121.14,102.28C120.23,103.19 119.11,103.19 118.26,102.92C117.41,102.65 116.41,102.01 116.02,100.68C115.63,99.35 115.73,97.05 115.89,94.92C116.05,92.79 116.48,90.23 116.98,87.88C117.48,85.53 118.26,82.60 118.90,80.84C119.54,79.08 120.16,78.01 120.82,77.32C121.48,76.63 122.28,76.52 122.87,76.68Z" fill="none" stroke="#000" stroke-width="0.7"/>
<path d="M122.35,80.25C122.81,80.38 123.21,80.62 123.50,81.50C123.79,82.38 124.02,83.83 124.10,85.50C124.18,87.17 124.18,89.67 124.00,91.50C123.82,93.33 123.50,95.04 123.00,96.50C122.50,97.96 121.71,99.54 121.00,100.25C120.29,100.96 119.42,100.96 118.75,100.75C118.08,100.54 117.31,100.04 117.00,99.00C116.69,97.96 116.78,96.17 116.90,94.50C117.03,92.83 117.36,90.83 117.75,89.00C118.14,87.17 118.75,84.88 119.25,83.50C119.75,82.12 120.23,81.29 120.75,80.75C121.27,80.21 121.89,80.12 122.35,80.25Z" fill="none" stroke="#000" stroke-width="0.7"/>
<path d="M121.83,83.82C122.16,83.91 122.45,84.09 122.66,84.72C122.87,85.35 123.03,86.40 123.09,87.60C123.15,88.80 123.15,90.60 123.02,91.92C122.89,93.24 122.66,94.47 122.30,95.52C121.94,96.57 121.37,97.71 120.86,98.22C120.35,98.73 119.72,98.73 119.24,98.58C118.76,98.43 118.20,98.07 117.98,97.32C117.76,96.57 117.82,95.28 117.91,94.08C118.00,92.88 118.24,91.44 118.52,90.12C118.80,88.80 119.24,87.15 119.60,86.16C119.96,85.17 120.31,84.57 120.68,84.18C121.05,83.79 121.50,83.73 121.83,83.82Z" fill="none" stroke="#000" stroke-width="0.7"/>
<ellipse cx="124.3" cy="55" rx="1.8" ry="2.5" fill="none" stroke="#222" stroke-width="0.6"/>
<ellipse cx="72.5" cy="64" rx="1.5" ry="2.5" fill="none" stroke="#444" stroke-width="0.5"/>
<rect x="40.50" y="38.70" width="122.80" height="122.80" fill="none" stroke="#444" stroke-width="1"/>
<line x1="82.30" y1="38.70" x2="82.30" y2="161.50" stroke="#222" stroke-width="1" />
<line x1="40.50" y1="109.90" x2="163.30" y2="109.90" stroke="#222" stroke-width="1" />
<text x="43.60" y="52.80" font-size="13" text-anchor="start" font-weight="normal" fill="#000" stroke="#000" stroke-width="0.45" textLength="15.6" lengthAdjust="spacingAndGlyphs" >5,9</text>
<text x="137.40" y="52.80" font-size="13" text-anchor="start" font-weight="normal" fill="#000" stroke="#000" stroke-width="0.45" textLength="22.8" lengthAdjust="spacingAndGlyphs" >10,1</text>
<text x="43.60" y="155.80" font-size="13" text-anchor="start" font-weight="normal" fill="#000" stroke="#000" stroke-width="0.45" textLength="23.3" lengthAdjust="spacingAndGlyphs" >16,0</text>
<text x="137.40" y="155.80" font-size="13" text-anchor="start" font-weight="normal" fill="#000" stroke="#000" stroke-width="0.45" textLength="22.8" lengthAdjust="spacingAndGlyphs" >68,1</text>
<text x="15.80" y="98.50" font-size="14.5" text-anchor="middle" font-weight="normal" fill="#000" stroke="#000" stroke-width="0.35" textLength="35" lengthAdjust="spacingAndGlyphs" transform="rotate(-90 15.8 98.5)">CD26</text>
<text x="100.00" y="191.90" font-size="14.4" text-anchor="middle" font-weight="normal" fill="#000" stroke="#000" stroke-width="0.35" textLength="27" lengthAdjust="spacingAndGlyphs" >CD4</text>
<text x="25.50" y="55.70" font-size="5.8" stroke="#000" stroke-width="0.22">10<tspan dy="-3.6" font-size="4.6" dx="0.5">5</tspan></text>
<text x="25.50" y="83.30" font-size="5.8" stroke="#000" stroke-width="0.22">10<tspan dy="-3.6" font-size="4.6" dx="0.5">4</tspan></text>
<text x="25.50" y="115.90" font-size="5.8" stroke="#000" stroke-width="0.22">10<tspan dy="-3.6" font-size="4.6" dx="0.5">3</tspan></text>
<text x="31.70" y="135.70" font-size="5.4" text-anchor="end" font-weight="normal" fill="#000" stroke="#000" stroke-width="0.22" >0</text>
<text x="23.70" y="159.40" font-size="5.8" stroke="#000" stroke-width="0.22">-10<tspan dy="-3.6" font-size="4.6" dx="0.5">3</tspan></text>
<text x="42.80" y="175.60" font-size="5.8" stroke="#000" stroke-width="0.22">-10<tspan dy="-3.6" font-size="4.6" dx="0.5">3</tspan></text>
<text x="86.00" y="175.60" font-size="5.8" stroke="#000" stroke-width="0.22">10<tspan dy="-3.6" font-size="4.6" dx="0.5">3</tspan></text>
<text x="119.70" y="175.60" font-size="5.8" stroke="#000" stroke-width="0.22">10<tspan dy="-3.6" font-size="4.6" dx="0.5">4</tspan></text>
<text x="147.40" y="175.60" font-size="5.8" stroke="#000" stroke-width="0.22">10<tspan dy="-3.6" font-size="4.6" dx="0.5">5</tspan></text>
<text x="67.60" y="175.60" font-size="5.4" text-anchor="middle" font-weight="normal" fill="#000" stroke="#000" stroke-width="0.22" >0</text>
<path d="M37.7,52.0h2.8M37.7,79.6h2.8M37.7,112.2h2.8M37.7,133.5h2.8M37.7,156.0h2.8" stroke="#000" stroke-width="1.6"/>
<path d="M38.7,71.3h1.8M38.7,102.4h1.8M38.7,66.4h1.8M38.7,96.6h1.8M38.7,63.0h1.8M38.7,92.6h1.8M38.7,60.3h1.8M38.7,89.4h1.8M38.7,58.1h1.8M38.7,86.8h1.8M38.7,56.3h1.8M38.7,84.6h1.8M38.7,54.7h1.8M38.7,82.8h1.8M38.7,53.3h1.8M38.7,81.1h1.8M38.7,116.0h1.8M38.7,120.0h1.8M38.7,124.0h1.8M38.7,127.5h1.8M38.7,130.5h1.8M38.7,137.0h1.8M38.7,140.0h1.8M38.7,143.5h1.8M38.7,147.0h1.8M38.7,151.0h1.8" stroke="#000" stroke-width="0.9"/>
<rect x="37.40" y="130.70" width="3.00" height="6.80" fill="#111" stroke="none" stroke-width="1"/>
<path d="M50.0,161.5v2.8M67.5,161.5v2.8M91.0,161.5v2.8M124.5,161.5v2.8M152.0,161.5v2.8" stroke="#000" stroke-width="1.6"/>
<path d="M101.1,161.5v1.8M132.8,161.5v1.8M107.0,161.5v1.8M137.6,161.5v1.8M111.2,161.5v1.8M141.1,161.5v1.8M114.4,161.5v1.8M143.7,161.5v1.8M117.1,161.5v1.8M145.9,161.5v1.8M119.3,161.5v1.8M147.7,161.5v1.8M121.3,161.5v1.8M149.3,161.5v1.8M123.0,161.5v1.8M150.7,161.5v1.8M45.0,161.5v1.8M54.0,161.5v1.8M58.0,161.5v1.8M62.0,161.5v1.8M72.0,161.5v1.8M76.0,161.5v1.8M80.0,161.5v1.8M84.0,161.5v1.8M87.5,161.5v1.8" stroke="#000" stroke-width="0.9"/>
<rect x="61.00" y="161.50" width="11.00" height="2.60" fill="#111" stroke="none" stroke-width="1"/>
<line x1="168.00" y1="74.00" x2="209.50" y2="56.00" stroke="#000" stroke-width="2" />
<line x1="209.50" y1="56.00" x2="204.51" y2="62.26" stroke="#000" stroke-width="2" stroke-linecap="round"/>
<line x1="209.50" y1="56.00" x2="201.53" y2="55.37" stroke="#000" stroke-width="2" stroke-linecap="round"/>
<line x1="168.00" y1="139.00" x2="209.50" y2="156.00" stroke="#000" stroke-width="2" />
<line x1="209.50" y1="156.00" x2="201.54" y2="156.80" stroke="#000" stroke-width="2" stroke-linecap="round"/>
<line x1="209.50" y1="156.00" x2="204.39" y2="149.85" stroke="#000" stroke-width="2" stroke-linecap="round"/>
<rect x="241.50" y="52.78" width="6.50" height="33.72" fill="#000" stroke="none" stroke-width="1"/>
<rect x="250.10" y="18.78" width="6.50" height="67.72" fill="#000" stroke="none" stroke-width="1"/>
<rect x="258.70" y="61.21" width="6.50" height="25.29" fill="#000" stroke="none" stroke-width="1"/>
<rect x="267.30" y="41.54" width="6.50" height="44.96" fill="#000" stroke="none" stroke-width="1"/>
<rect x="275.90" y="74.98" width="6.50" height="11.52" fill="#000" stroke="none" stroke-width="1"/>
<rect x="284.50" y="73.57" width="6.50" height="12.93" fill="#000" stroke="none" stroke-width="1"/>
<rect x="293.10" y="41.82" width="6.50" height="44.68" fill="#000" stroke="none" stroke-width="1"/>
<rect x="301.70" y="78.41" width="6.50" height="8.09" fill="#000" stroke="none" stroke-width="1"/>
<rect x="310.30" y="62.90" width="6.50" height="23.60" fill="#000" stroke="none" stroke-width="1"/>
<rect x="318.90" y="9.51" width="6.50" height="76.99" fill="#000" stroke="none" stroke-width="1"/>
<rect x="327.50" y="14.00" width="6.50" height="72.50" fill="#000" stroke="none" stroke-width="1"/>
<rect x="336.10" y="69.08" width="6.50" height="17.42" fill="#000" stroke="none" stroke-width="1"/>
<rect x="344.70" y="18.78" width="6.50" height="67.72" fill="#000" stroke="none" stroke-width="1"/>
<rect x="353.30" y="48.00" width="6.50" height="38.50" fill="#000" stroke="none" stroke-width="1"/>
<rect x="361.90" y="58.01" width="6.50" height="28.49" fill="#000" stroke="none" stroke-width="1"/>
<rect x="370.50" y="65.14" width="6.50" height="21.36" fill="#000" stroke="none" stroke-width="1"/>
<rect x="379.10" y="82.40" width="6.50" height="4.10" fill="#000" stroke="none" stroke-width="1"/>
<rect x="387.70" y="72.45" width="6.50" height="14.05" fill="#000" stroke="none" stroke-width="1"/>
<rect x="396.30" y="81.16" width="6.50" height="5.34" fill="#000" stroke="none" stroke-width="1"/>
<rect x="404.90" y="71.33" width="6.50" height="15.17" fill="#000" stroke="none" stroke-width="1"/>
<rect x="413.50" y="78.29" width="6.50" height="8.21" fill="#000" stroke="none" stroke-width="1"/>
<rect x="422.10" y="72.79" width="6.50" height="13.71" fill="#000" stroke="none" stroke-width="1"/>
<rect x="430.70" y="74.81" width="6.50" height="11.69" fill="#000" stroke="none" stroke-width="1"/>
<rect x="439.30" y="58.40" width="6.50" height="28.10" fill="#000" stroke="none" stroke-width="1"/>
<line x1="239.50" y1="1.70" x2="239.50" y2="87.20" stroke="#000" stroke-width="1.4" />
<line x1="238.80" y1="86.50" x2="447.00" y2="86.50" stroke="#000" stroke-width="1.4" />
<line x1="236.50" y1="86.50" x2="239.50" y2="86.50" stroke="#000" stroke-width="1.2" />
<text x="235.90" y="88.90" font-size="7" text-anchor="end" font-weight="bold" fill="#000" >0</text>
<line x1="236.50" y1="58.40" x2="239.50" y2="58.40" stroke="#000" stroke-width="1.2" />
<text x="235.90" y="60.80" font-size="7" text-anchor="end" font-weight="bold" fill="#000" >5</text>
<line x1="236.50" y1="30.30" x2="239.50" y2="30.30" stroke="#000" stroke-width="1.2" />
<text x="235.90" y="32.70" font-size="7" text-anchor="end" font-weight="bold" fill="#000" >10</text>
<line x1="236.50" y1="2.20" x2="239.50" y2="2.20" stroke="#000" stroke-width="1.2" />
<text x="235.90" y="4.60" font-size="7" text-anchor="end" font-weight="bold" fill="#000" >15</text>
<line x1="244.75" y1="86.50" x2="244.75" y2="88.70" stroke="#000" stroke-width="1" />
<text x="246.35" y="93.80" font-size="6.6" font-weight="bold" stroke="#000" stroke-width="0.35" text-anchor="end" transform="rotate(-45 246.35 93.80)">3</text>
<line x1="253.35" y1="86.50" x2="253.35" y2="88.70" stroke="#000" stroke-width="1" />
<text x="254.95" y="93.80" font-size="6.6" font-weight="bold" stroke="#000" stroke-width="0.35" text-anchor="end" transform="rotate(-45 254.95 93.80)">16</text>
<line x1="261.95" y1="86.50" x2="261.95" y2="88.70" stroke="#000" stroke-width="1" />
<text x="263.55" y="93.80" font-size="6.6" font-weight="bold" stroke="#000" stroke-width="0.35" text-anchor="end" transform="rotate(-45 263.55 93.80)">20</text>
<line x1="270.55" y1="86.50" x2="270.55" y2="88.70" stroke="#000" stroke-width="1" />
<text x="272.15" y="93.80" font-size="6.6" font-weight="bold" stroke="#000" stroke-width="0.35" text-anchor="end" transform="rotate(-45 272.15 93.80)">8</text>
<line x1="279.15" y1="86.50" x2="279.15" y2="88.70" stroke="#000" stroke-width="1" />
<text x="280.75" y="93.80" font-size="6.6" font-weight="bold" stroke="#000" stroke-width="0.35" text-anchor="end" transform="rotate(-45 280.75 93.80)">12</text>
<line x1="287.75" y1="86.50" x2="287.75" y2="88.70" stroke="#000" stroke-width="1" />
<text x="289.35" y="93.80" font-size="6.6" font-weight="bold" stroke="#000" stroke-width="0.35" text-anchor="end" transform="rotate(-45 289.35 93.80)">21,3</text>
<line x1="296.35" y1="86.50" x2="296.35" y2="88.70" stroke="#000" stroke-width="1" />
<text x="297.95" y="93.80" font-size="6.6" font-weight="bold" stroke="#000" stroke-width="0.35" text-anchor="end" transform="rotate(-45 297.95 93.80)">14</text>
<line x1="304.95" y1="86.50" x2="304.95" y2="88.70" stroke="#000" stroke-width="1" />
<text x="306.55" y="93.80" font-size="6.6" font-weight="bold" stroke="#000" stroke-width="0.35" text-anchor="end" transform="rotate(-45 306.55 93.80)">7,2</text>
<line x1="313.55" y1="86.50" x2="313.55" y2="88.70" stroke="#000" stroke-width="1" />
<text x="315.15" y="93.80" font-size="6.6" font-weight="bold" stroke="#000" stroke-width="0.35" text-anchor="end" transform="rotate(-45 315.15 93.80)">7,1</text>
<line x1="322.15" y1="86.50" x2="322.15" y2="88.70" stroke="#000" stroke-width="1" />
<text x="323.75" y="93.80" font-size="6.6" font-weight="bold" stroke="#000" stroke-width="0.35" text-anchor="end" transform="rotate(-45 323.75 93.80)">17</text>
<line x1="330.75" y1="86.50" x2="330.75" y2="88.70" stroke="#000" stroke-width="1" />
<text x="332.35" y="93.80" font-size="6.6" font-weight="bold" stroke="#000" stroke-width="0.35" text-anchor="end" transform="rotate(-45 332.35 93.80)">5,1</text>
<line x1="339.35" y1="86.50" x2="339.35" y2="88.70" stroke="#000" stroke-width="1" />
<text x="340.95" y="93.80" font-size="6.6" font-weight="bold" stroke="#000" stroke-width="0.35" text-anchor="end" transform="rotate(-45 340.95 93.80)">13,6</text>
<line x1="347.95" y1="86.50" x2="347.95" y2="88.70" stroke="#000" stroke-width="1" />
<text x="349.55" y="93.80" font-size="6.6" font-weight="bold" stroke="#000" stroke-width="0.35" text-anchor="end" transform="rotate(-45 349.55 93.80)">2</text>
<line x1="356.55" y1="86.50" x2="356.55" y2="88.70" stroke="#000" stroke-width="1" />
<text x="358.15" y="93.80" font-size="6.6" font-weight="bold" stroke="#000" stroke-width="0.35" text-anchor="end" transform="rotate(-45 358.15 93.80)">1</text>
<line x1="365.15" y1="86.50" x2="365.15" y2="88.70" stroke="#000" stroke-width="1" />
<text x="366.75" y="93.80" font-size="6.6" font-weight="bold" stroke="#000" stroke-width="0.35" text-anchor="end" transform="rotate(-45 366.75 93.80)">22</text>
<line x1="373.75" y1="86.50" x2="373.75" y2="88.70" stroke="#000" stroke-width="1" />
<text x="375.35" y="93.80" font-size="6.6" font-weight="bold" stroke="#000" stroke-width="0.35" text-anchor="end" transform="rotate(-45 375.35 93.80)">4</text>
<line x1="382.35" y1="86.50" x2="382.35" y2="88.70" stroke="#000" stroke-width="1" />
<text x="383.95" y="93.80" font-size="6.6" font-weight="bold" stroke="#000" stroke-width="0.35" text-anchor="end" transform="rotate(-45 383.95 93.80)">5,3</text>
<line x1="390.95" y1="86.50" x2="390.95" y2="88.70" stroke="#000" stroke-width="1" />
<text x="392.55" y="93.80" font-size="6.6" font-weight="bold" stroke="#000" stroke-width="0.35" text-anchor="end" transform="rotate(-45 392.55 93.80)">9</text>
<line x1="399.55" y1="86.50" x2="399.55" y2="88.70" stroke="#000" stroke-width="1" />
<text x="401.15" y="93.80" font-size="6.6" font-weight="bold" stroke="#000" stroke-width="0.35" text-anchor="end" transform="rotate(-45 401.15 93.80)">18</text>
<line x1="408.15" y1="86.50" x2="408.15" y2="88.70" stroke="#000" stroke-width="1" />
<text x="409.75" y="93.80" font-size="6.6" font-weight="bold" stroke="#000" stroke-width="0.35" text-anchor="end" transform="rotate(-45 409.75 93.80)">13,1</text>
<line x1="416.75" y1="86.50" x2="416.75" y2="88.70" stroke="#000" stroke-width="1" />
<text x="418.35" y="93.80" font-size="6.6" font-weight="bold" stroke="#000" stroke-width="0.35" text-anchor="end" transform="rotate(-45 418.35 93.80)">6,2</text>
<line x1="425.35" y1="86.50" x2="425.35" y2="88.70" stroke="#000" stroke-width="1" />
<text x="426.95" y="93.80" font-size="6.6" font-weight="bold" stroke="#000" stroke-width="0.35" text-anchor="end" transform="rotate(-45 426.95 93.80)">23</text>
<line x1="433.95" y1="86.50" x2="433.95" y2="88.70" stroke="#000" stroke-width="1" />
<text x="435.55" y="93.80" font-size="6.6" font-weight="bold" stroke="#000" stroke-width="0.35" text-anchor="end" transform="rotate(-45 435.55 93.80)">11</text>
<line x1="442.55" y1="86.50" x2="442.55" y2="88.70" stroke="#000" stroke-width="1" />
<text x="444.15" y="93.80" font-size="6.6" font-weight="bold" stroke="#000" stroke-width="0.35" text-anchor="end" transform="rotate(-45 444.15 93.80)">13,2</text>
<rect x="384.60" y="6.00" width="9.80" height="5.00" fill="#000" stroke="none" stroke-width="1"/>
<text x="398.60" y="11.20" font-size="7.6" text-anchor="start" font-weight="normal" fill="#000" stroke="#000" stroke-width="0.3" textLength="43.8" lengthAdjust="spacingAndGlyphs" >CD4+, CD26+</text>
<text x="222.30" y="47.40" font-size="11.4" text-anchor="middle" font-weight="normal" fill="#000" stroke="#000" stroke-width="0.25" textLength="80" lengthAdjust="spacingAndGlyphs" transform="rotate(-90 222.3 47.4)">percent positive</text>
<rect x="241.50" y="198.37" width="6.50" height="0.23" fill="#000" stroke="none" stroke-width="1"/>
<rect x="250.10" y="198.37" width="6.50" height="0.23" fill="#000" stroke="none" stroke-width="1"/>
<rect x="258.70" y="198.37" width="6.50" height="0.23" fill="#000" stroke="none" stroke-width="1"/>
<rect x="267.30" y="198.37" width="6.50" height="0.23" fill="#000" stroke="none" stroke-width="1"/>
<rect x="275.90" y="198.37" width="6.50" height="0.23" fill="#000" stroke="none" stroke-width="1"/>
<rect x="284.50" y="198.37" width="6.50" height="0.23" fill="#000" stroke="none" stroke-width="1"/>
<rect x="293.10" y="198.37" width="6.50" height="0.23" fill="#000" stroke="none" stroke-width="1"/>
<rect x="301.70" y="198.37" width="6.50" height="0.23" fill="#000" stroke="none" stroke-width="1"/>
<rect x="310.30" y="198.37" width="6.50" height="0.23" fill="#000" stroke="none" stroke-width="1"/>
<rect x="318.90" y="125.06" width="6.50" height="73.54" fill="#000" stroke="none" stroke-width="1"/>
<rect x="327.50" y="198.37" width="6.50" height="0.23" fill="#000" stroke="none" stroke-width="1"/>
<rect x="336.10" y="198.37" width="6.50" height="0.23" fill="#000" stroke="none" stroke-width="1"/>
<rect x="344.70" y="198.37" width="6.50" height="0.23" fill="#000" stroke="none" stroke-width="1"/>
<rect x="353.30" y="198.37" width="6.50" height="0.23" fill="#000" stroke="none" stroke-width="1"/>
<rect x="361.90" y="198.37" width="6.50" height="0.23" fill="#000" stroke="none" stroke-width="1"/>
<rect x="370.50" y="198.37" width="6.50" height="0.23" fill="#000" stroke="none" stroke-width="1"/>
<rect x="379.10" y="198.37" width="6.50" height="0.23" fill="#000" stroke="none" stroke-width="1"/>
<rect x="387.70" y="198.37" width="6.50" height="0.23" fill="#000" stroke="none" stroke-width="1"/>
<rect x="396.30" y="198.37" width="6.50" height="0.23" fill="#000" stroke="none" stroke-width="1"/>
<rect x="404.90" y="198.37" width="6.50" height="0.23" fill="#000" stroke="none" stroke-width="1"/>
<rect x="413.50" y="198.37" width="6.50" height="0.23" fill="#000" stroke="none" stroke-width="1"/>
<rect x="422.10" y="198.37" width="6.50" height="0.23" fill="#000" stroke="none" stroke-width="1"/>
<rect x="430.70" y="198.37" width="6.50" height="0.23" fill="#000" stroke="none" stroke-width="1"/>
<rect x="439.30" y="198.37" width="6.50" height="0.23" fill="#000" stroke="none" stroke-width="1"/>
<line x1="240.00" y1="121.50" x2="240.00" y2="199.30" stroke="#000" stroke-width="1.4" />
<line x1="239.30" y1="198.60" x2="446.50" y2="198.60" stroke="#000" stroke-width="1.4" />
<line x1="237.00" y1="198.60" x2="240.00" y2="198.60" stroke="#000" stroke-width="1.2" />
<text x="236.40" y="201.00" font-size="7" text-anchor="end" font-weight="bold" fill="#000" >0</text>
<line x1="237.00" y1="160.30" x2="240.00" y2="160.30" stroke="#000" stroke-width="1.2" />
<text x="236.40" y="162.70" font-size="7" text-anchor="end" font-weight="bold" fill="#000" >50</text>
<line x1="237.00" y1="122.00" x2="240.00" y2="122.00" stroke="#000" stroke-width="1.2" />
<text x="236.40" y="124.40" font-size="7" text-anchor="end" font-weight="bold" fill="#000" >100</text>
<line x1="244.75" y1="198.60" x2="244.75" y2="200.80" stroke="#000" stroke-width="1" />
<text x="246.35" y="205.90" font-size="6.6" font-weight="bold" stroke="#000" stroke-width="0.35" text-anchor="end" transform="rotate(-45 246.35 205.90)">3</text>
<line x1="253.35" y1="198.60" x2="253.35" y2="200.80" stroke="#000" stroke-width="1" />
<text x="254.95" y="205.90" font-size="6.6" font-weight="bold" stroke="#000" stroke-width="0.35" text-anchor="end" transform="rotate(-45 254.95 205.90)">16</text>
<line x1="261.95" y1="198.60" x2="261.95" y2="200.80" stroke="#000" stroke-width="1" />
<text x="263.55" y="205.90" font-size="6.6" font-weight="bold" stroke="#000" stroke-width="0.35" text-anchor="end" transform="rotate(-45 263.55 205.90)">20</text>
<line x1="270.55" y1="198.60" x2="270.55" y2="200.80" stroke="#000" stroke-width="1" />
<text x="272.15" y="205.90" font-size="6.6" font-weight="bold" stroke="#000" stroke-width="0.35" text-anchor="end" transform="rotate(-45 272.15 205.90)">8</text>
<line x1="279.15" y1="198.60" x2="279.15" y2="200.80" stroke="#000" stroke-width="1" />
<text x="280.75" y="205.90" font-size="6.6" font-weight="bold" stroke="#000" stroke-width="0.35" text-anchor="end" transform="rotate(-45 280.75 205.90)">12</text>
<line x1="287.75" y1="198.60" x2="287.75" y2="200.80" stroke="#000" stroke-width="1" />
<text x="289.35" y="205.90" font-size="6.6" font-weight="bold" stroke="#000" stroke-width="0.35" text-anchor="end" transform="rotate(-45 289.35 205.90)">21,3</text>
<line x1="296.35" y1="198.60" x2="296.35" y2="200.80" stroke="#000" stroke-width="1" />
<text x="297.95" y="205.90" font-size="6.6" font-weight="bold" stroke="#000" stroke-width="0.35" text-anchor="end" transform="rotate(-45 297.95 205.90)">14</text>
<line x1="304.95" y1="198.60" x2="304.95" y2="200.80" stroke="#000" stroke-width="1" />
<text x="306.55" y="205.90" font-size="6.6" font-weight="bold" stroke="#000" stroke-width="0.35" text-anchor="end" transform="rotate(-45 306.55 205.90)">7,2</text>
<line x1="313.55" y1="198.60" x2="313.55" y2="200.80" stroke="#000" stroke-width="1" />
<text x="315.15" y="205.90" font-size="6.6" font-weight="bold" stroke="#000" stroke-width="0.35" text-anchor="end" transform="rotate(-45 315.15 205.90)">7,1</text>
<line x1="322.15" y1="198.60" x2="322.15" y2="200.80" stroke="#000" stroke-width="1" />
<text x="323.75" y="205.90" font-size="6.6" font-weight="bold" stroke="#000" stroke-width="0.35" text-anchor="end" transform="rotate(-45 323.75 205.90)">17</text>
<line x1="330.75" y1="198.60" x2="330.75" y2="200.80" stroke="#000" stroke-width="1" />
<text x="332.35" y="205.90" font-size="6.6" font-weight="bold" stroke="#000" stroke-width="0.35" text-anchor="end" transform="rotate(-45 332.35 205.90)">5,1</text>
<line x1="339.35" y1="198.60" x2="339.35" y2="200.80" stroke="#000" stroke-width="1" />
<text x="340.95" y="205.90" font-size="6.6" font-weight="bold" stroke="#000" stroke-width="0.35" text-anchor="end" transform="rotate(-45 340.95 205.90)">13,6</text>
<line x1="347.95" y1="198.60" x2="347.95" y2="200.80" stroke="#000" stroke-width="1" />
<text x="349.55" y="205.90" font-size="6.6" font-weight="bold" stroke="#000" stroke-width="0.35" text-anchor="end" transform="rotate(-45 349.55 205.90)">2</text>
<line x1="356.55" y1="198.60" x2="356.55" y2="200.80" stroke="#000" stroke-width="1" />
<text x="358.15" y="205.90" font-size="6.6" font-weight="bold" stroke="#000" stroke-width="0.35" text-anchor="end" transform="rotate(-45 358.15 205.90)">1</text>
<line x1="365.15" y1="198.60" x2="365.15" y2="200.80" stroke="#000" stroke-width="1" />
<text x="366.75" y="205.90" font-size="6.6" font-weight="bold" stroke="#000" stroke-width="0.35" text-anchor="end" transform="rotate(-45 366.75 205.90)">22</text>
<line x1="373.75" y1="198.60" x2="373.75" y2="200.80" stroke="#000" stroke-width="1" />
<text x="375.35" y="205.90" font-size="6.6" font-weight="bold" stroke="#000" stroke-width="0.35" text-anchor="end" transform="rotate(-45 375.35 205.90)">4</text>
<line x1="382.35" y1="198.60" x2="382.35" y2="200.80" stroke="#000" stroke-width="1" />
<text x="383.95" y="205.90" font-size="6.6" font-weight="bold" stroke="#000" stroke-width="0.35" text-anchor="end" transform="rotate(-45 383.95 205.90)">5,3</text>
<line x1="390.95" y1="198.60" x2="390.95" y2="200.80" stroke="#000" stroke-width="1" />
<text x="392.55" y="205.90" font-size="6.6" font-weight="bold" stroke="#000" stroke-width="0.35" text-anchor="end" transform="rotate(-45 392.55 205.90)">9</text>
<line x1="399.55" y1="198.60" x2="399.55" y2="200.80" stroke="#000" stroke-width="1" />
<text x="401.15" y="205.90" font-size="6.6" font-weight="bold" stroke="#000" stroke-width="0.35" text-anchor="end" transform="rotate(-45 401.15 205.90)">18</text>
<line x1="408.15" y1="198.60" x2="408.15" y2="200.80" stroke="#000" stroke-width="1" />
<text x="409.75" y="205.90" font-size="6.6" font-weight="bold" stroke="#000" stroke-width="0.35" text-anchor="end" transform="rotate(-45 409.75 205.90)">13,1</text>
<line x1="416.75" y1="198.60" x2="416.75" y2="200.80" stroke="#000" stroke-width="1" />
<text x="418.35" y="205.90" font-size="6.6" font-weight="bold" stroke="#000" stroke-width="0.35" text-anchor="end" transform="rotate(-45 418.35 205.90)">6,2</text>
<line x1="425.35" y1="198.60" x2="425.35" y2="200.80" stroke="#000" stroke-width="1" />
<text x="426.95" y="205.90" font-size="6.6" font-weight="bold" stroke="#000" stroke-width="0.35" text-anchor="end" transform="rotate(-45 426.95 205.90)">23</text>
<line x1="433.95" y1="198.60" x2="433.95" y2="200.80" stroke="#000" stroke-width="1" />
<text x="435.55" y="205.90" font-size="6.6" font-weight="bold" stroke="#000" stroke-width="0.35" text-anchor="end" transform="rotate(-45 435.55 205.90)">11</text>
<line x1="442.55" y1="198.60" x2="442.55" y2="200.80" stroke="#000" stroke-width="1" />
<text x="444.15" y="205.90" font-size="6.6" font-weight="bold" stroke="#000" stroke-width="0.35" text-anchor="end" transform="rotate(-45 444.15 205.90)">13,2</text>
<rect x="384.60" y="117.70" width="9.80" height="5.00" fill="#000" stroke="none" stroke-width="1"/>
<text x="398.60" y="122.90" font-size="7.6" text-anchor="start" font-weight="normal" fill="#000" stroke="#000" stroke-width="0.3" textLength="43.8" lengthAdjust="spacingAndGlyphs" >CD4+, CD26-</text>
<line x1="240" y1="114.5" x2="240" y2="122" stroke="#000" stroke-width="1.4"/>
<text x="222.30" y="158.30" font-size="11.4" text-anchor="middle" font-weight="normal" fill="#000" stroke="#000" stroke-width="0.25" textLength="80" lengthAdjust="spacingAndGlyphs" transform="rotate(-90 222.3 158.3)">percent positive</text>
<text x="341.80" y="230.20" font-size="15" text-anchor="middle" font-weight="normal" fill="#000" stroke="#000" stroke-width="0.35" textLength="41.2" lengthAdjust="spacingAndGlyphs" >TCRvb</text>
<text x="1.00" y="267.40" font-size="18" text-anchor="start" font-weight="bold" fill="#000" stroke="#000" stroke-width="0.5" textLength="10.8" lengthAdjust="spacingAndGlyphs" >B</text>
<line x1="40.00" y1="261.30" x2="506.80" y2="261.30" stroke="#000" stroke-width="1.6" />
<text x="277.80" y="259.90" font-size="16" text-anchor="middle" font-weight="normal" fill="#000" stroke="#000" stroke-width="0.35" textLength="121" lengthAdjust="spacingAndGlyphs" >Malignant T cells</text>
<line x1="19.90" y1="282.80" x2="19.90" y2="407.50" stroke="#000" stroke-width="1.6" />
<path d="M19.9,276.8 L26.2,289.5 L19.9,285.40000000000003 L13.599999999999998,289.5 Z" fill="#000"/>
<line x1="19.10" y1="406.70" x2="513.30" y2="406.70" stroke="#000" stroke-width="1.6" />
<path d="M519.3,406.7 L506.29999999999995,400.59999999999997 L510.29999999999995,406.7 L506.29999999999995,412.8 Z" fill="#000"/>
<text x="15.00" y="339.50" font-size="13.2" text-anchor="middle" font-weight="normal" fill="#000" stroke="#000" stroke-width="0.35" textLength="51.4" lengthAdjust="spacingAndGlyphs" transform="rotate(-90 15 339.5)">pY-Stat3</text>
<text x="273.90" y="420.40" font-size="13.8" text-anchor="middle" font-weight="normal" fill="#000" stroke="#000" stroke-width="0.35" textLength="27.7" lengthAdjust="spacingAndGlyphs" >SSC</text>
<text x="84.75" y="290.00" font-size="14" text-anchor="middle" font-weight="normal" fill="#000" stroke="#000" stroke-width="0.35" textLength="27" lengthAdjust="spacingAndGlyphs" >PBS</text>
<text x="203.00" y="275.00" font-size="14" text-anchor="middle" font-weight="normal" fill="#000" stroke="#000" stroke-width="0.35" textLength="27" lengthAdjust="spacingAndGlyphs" >PBS</text>
<text x="203.40" y="291.80" font-size="14" text-anchor="middle" font-weight="normal" fill="#000" stroke="#000" stroke-width="0.35" textLength="101.7" lengthAdjust="spacingAndGlyphs" >+ Non-malignant</text>
<text x="342.90" y="289.50" font-size="14" text-anchor="middle" font-weight="normal" fill="#000" stroke="#000" stroke-width="0.35" textLength="26.8" lengthAdjust="spacingAndGlyphs" >SEA</text>
<text x="459.60" y="275.60" font-size="14" text-anchor="middle" font-weight="normal" fill="#000" stroke="#000" stroke-width="0.35" textLength="28" lengthAdjust="spacingAndGlyphs" >SEA</text>
<text x="458.60" y="292.50" font-size="14" text-anchor="middle" font-weight="normal" fill="#000" stroke="#000" stroke-width="0.35" textLength="101.2" lengthAdjust="spacingAndGlyphs" >+ Non-malignant</text>
<rect x="40.20" y="294.50" width="90.90" height="90.80" fill="none" stroke="#555" stroke-width="1.0"/>
<rect x="46.50" y="295.20" width="81.00" height="49.80" fill="none" stroke="#3a3a3a" stroke-width="1.1"/>
<path d="M38.3,296.7h1.5M38.3,300.1h1.5M38.3,303.6h1.5M38.3,307.1h1.5M38.3,310.5h1.5M38.3,313.9h1.5M38.3,317.4h1.5M38.3,320.8h1.5M38.3,324.3h1.5M38.3,327.8h1.5M38.3,331.2h1.5M38.3,334.6h1.5M38.3,338.1h1.5M38.3,341.6h1.5M38.3,345.0h1.5M38.3,348.4h1.5M38.3,351.9h1.5M38.3,355.4h1.5M38.3,358.8h1.5M38.3,362.2h1.5M38.3,365.7h1.5M38.3,369.1h1.5M38.3,372.6h1.5M38.3,376.1h1.5M38.3,379.5h1.5M38.3,382.9h1.5" stroke="#000" stroke-width="1"/>
<path d="M41.7,385.7v1.5M45.2,385.7v1.5M48.6,385.7v1.5M52.1,385.7v1.5M55.5,385.7v1.5M59.0,385.7v1.5M62.4,385.7v1.5M65.9,385.7v1.5M69.3,385.7v1.5M72.8,385.7v1.5M76.2,385.7v1.5M79.7,385.7v1.5M83.1,385.7v1.5M86.6,385.7v1.5M90.0,385.7v1.5M93.5,385.7v1.5M96.9,385.7v1.5M100.4,385.7v1.5M103.8,385.7v1.5M107.2,385.7v1.5M110.7,385.7v1.5M114.2,385.7v1.5M117.6,385.7v1.5M121.1,385.7v1.5M124.5,385.7v1.5M128.0,385.7v1.5" stroke="#000" stroke-width="1"/>
<rect x="37.70" y="301.70" width="2.30" height="2.40" fill="#000" stroke="none" stroke-width="1"/>
<rect x="37.70" y="323.30" width="2.30" height="2.40" fill="#000" stroke="none" stroke-width="1"/>
<rect x="37.70" y="347.80" width="2.30" height="2.40" fill="#000" stroke="none" stroke-width="1"/>
<rect x="37.70" y="363.30" width="2.30" height="2.40" fill="#000" stroke="none" stroke-width="1"/>
<rect x="37.70" y="379.90" width="2.30" height="2.40" fill="#000" stroke="none" stroke-width="1"/>
<text x="33.1" y="306.2" font-size="4.4" font-weight="bold" stroke="#000" stroke-width="0.25" text-anchor="end">10</text>
<text x="33.8" y="303.1" font-size="3.8" font-weight="bold" stroke="#000" stroke-width="0.2">5</text>
<text x="33.1" y="327.8" font-size="4.4" font-weight="bold" stroke="#000" stroke-width="0.25" text-anchor="end">10</text>
<text x="33.8" y="324.7" font-size="3.8" font-weight="bold" stroke="#000" stroke-width="0.2">4</text>
<text x="33.1" y="352.3" font-size="4.4" font-weight="bold" stroke="#000" stroke-width="0.25" text-anchor="end">10</text>
<text x="33.8" y="349.2" font-size="3.8" font-weight="bold" stroke="#000" stroke-width="0.2">3</text>
<text x="33.3" y="366.3" font-size="4.4" font-weight="bold" stroke="#000" stroke-width="0.25" text-anchor="end">0</text>
<text x="33.1" y="384.4" font-size="4.4" font-weight="bold" stroke="#000" stroke-width="0.25" text-anchor="end">-10</text>
<text x="33.8" y="381.3" font-size="3.8" font-weight="bold" stroke="#000" stroke-width="0.2">3</text>
<circle cx="39.8" cy="386.7" r="1.25" fill="#000"/>
<text x="41.30" y="396.10" font-size="4.1" text-anchor="middle" font-weight="bold" fill="#000" stroke="#000" stroke-width="0.2" textLength="1.9" lengthAdjust="spacingAndGlyphs" >0</text>
<circle cx="57.1" cy="386.7" r="1.25" fill="#000"/>
<text x="55.85" y="396.10" font-size="4.1" text-anchor="middle" font-weight="bold" fill="#000" stroke="#000" stroke-width="0.2" textLength="6.5" lengthAdjust="spacingAndGlyphs" >50K</text>
<circle cx="74.4" cy="386.7" r="1.25" fill="#000"/>
<text x="73.15" y="396.10" font-size="4.1" text-anchor="middle" font-weight="bold" fill="#000" stroke="#000" stroke-width="0.2" textLength="10" lengthAdjust="spacingAndGlyphs" >100K</text>
<circle cx="91.7" cy="386.7" r="1.25" fill="#000"/>
<text x="90.45" y="396.10" font-size="4.1" text-anchor="middle" font-weight="bold" fill="#000" stroke="#000" stroke-width="0.2" textLength="10" lengthAdjust="spacingAndGlyphs" >150K</text>
<circle cx="109.0" cy="386.7" r="1.25" fill="#000"/>
<text x="107.75" y="396.10" font-size="4.1" text-anchor="middle" font-weight="bold" fill="#000" stroke="#000" stroke-width="0.2" textLength="10" lengthAdjust="spacingAndGlyphs" >200K</text>
<circle cx="126.3" cy="386.7" r="1.25" fill="#000"/>
<text x="125.05" y="396.10" font-size="4.1" text-anchor="middle" font-weight="bold" fill="#000" stroke="#000" stroke-width="0.2" textLength="10" lengthAdjust="spacingAndGlyphs" >250K</text>
<rect x="157.50" y="294.30" width="91.10" height="91.00" fill="none" stroke="#555" stroke-width="1.0"/>
<rect x="164.40" y="295.00" width="80.60" height="50.00" fill="none" stroke="#3a3a3a" stroke-width="1.1"/>
<path d="M155.6,296.5h1.5M155.6,299.9h1.5M155.6,303.4h1.5M155.6,306.9h1.5M155.6,310.3h1.5M155.6,313.8h1.5M155.6,317.2h1.5M155.6,320.6h1.5M155.6,324.1h1.5M155.6,327.6h1.5M155.6,331.0h1.5M155.6,334.4h1.5M155.6,337.9h1.5M155.6,341.4h1.5M155.6,344.8h1.5M155.6,348.2h1.5M155.6,351.7h1.5M155.6,355.1h1.5M155.6,358.6h1.5M155.6,362.1h1.5M155.6,365.5h1.5M155.6,368.9h1.5M155.6,372.4h1.5M155.6,375.9h1.5M155.6,379.3h1.5M155.6,382.8h1.5" stroke="#000" stroke-width="1"/>
<path d="M159.0,385.7v1.5M162.4,385.7v1.5M165.9,385.7v1.5M169.3,385.7v1.5M172.8,385.7v1.5M176.2,385.7v1.5M179.7,385.7v1.5M183.2,385.7v1.5M186.6,385.7v1.5M190.1,385.7v1.5M193.5,385.7v1.5M196.9,385.7v1.5M200.4,385.7v1.5M203.8,385.7v1.5M207.3,385.7v1.5M210.8,385.7v1.5M214.2,385.7v1.5M217.7,385.7v1.5M221.1,385.7v1.5M224.6,385.7v1.5M228.0,385.7v1.5M231.4,385.7v1.5M234.9,385.7v1.5M238.4,385.7v1.5M241.8,385.7v1.5M245.2,385.7v1.5" stroke="#000" stroke-width="1"/>
<rect x="155.00" y="301.50" width="2.30" height="2.40" fill="#000" stroke="none" stroke-width="1"/>
<rect x="155.00" y="323.10" width="2.30" height="2.40" fill="#000" stroke="none" stroke-width="1"/>
<rect x="155.00" y="347.60" width="2.30" height="2.40" fill="#000" stroke="none" stroke-width="1"/>
<rect x="155.00" y="363.10" width="2.30" height="2.40" fill="#000" stroke="none" stroke-width="1"/>
<rect x="155.00" y="379.70" width="2.30" height="2.40" fill="#000" stroke="none" stroke-width="1"/>
<text x="150.4" y="306.0" font-size="4.4" font-weight="bold" stroke="#000" stroke-width="0.25" text-anchor="end">10</text>
<text x="151.1" y="302.9" font-size="3.8" font-weight="bold" stroke="#000" stroke-width="0.2">5</text>
<text x="150.4" y="327.6" font-size="4.4" font-weight="bold" stroke="#000" stroke-width="0.25" text-anchor="end">10</text>
<text x="151.1" y="324.5" font-size="3.8" font-weight="bold" stroke="#000" stroke-width="0.2">4</text>
<text x="150.4" y="352.1" font-size="4.4" font-weight="bold" stroke="#000" stroke-width="0.25" text-anchor="end">10</text>
<text x="151.1" y="349.0" font-size="3.8" font-weight="bold" stroke="#000" stroke-width="0.2">3</text>
<text x="150.6" y="366.1" font-size="4.4" font-weight="bold" stroke="#000" stroke-width="0.25" text-anchor="end">0</text>
<text x="150.4" y="384.2" font-size="4.4" font-weight="bold" stroke="#000" stroke-width="0.25" text-anchor="end">-10</text>
<text x="151.1" y="381.1" font-size="3.8" font-weight="bold" stroke="#000" stroke-width="0.2">3</text>
<circle cx="157.1" cy="386.7" r="1.25" fill="#000"/>
<text x="158.60" y="396.10" font-size="4.1" text-anchor="middle" font-weight="bold" fill="#000" stroke="#000" stroke-width="0.2" textLength="1.9" lengthAdjust="spacingAndGlyphs" >0</text>
<circle cx="174.4" cy="386.7" r="1.25" fill="#000"/>
<text x="173.15" y="396.10" font-size="4.1" text-anchor="middle" font-weight="bold" fill="#000" stroke="#000" stroke-width="0.2" textLength="6.5" lengthAdjust="spacingAndGlyphs" >50K</text>
<circle cx="191.7" cy="386.7" r="1.25" fill="#000"/>
<text x="190.45" y="396.10" font-size="4.1" text-anchor="middle" font-weight="bold" fill="#000" stroke="#000" stroke-width="0.2" textLength="10" lengthAdjust="spacingAndGlyphs" >100K</text>
<circle cx="209.0" cy="386.7" r="1.25" fill="#000"/>
<text x="207.75" y="396.10" font-size="4.1" text-anchor="middle" font-weight="bold" fill="#000" stroke="#000" stroke-width="0.2" textLength="10" lengthAdjust="spacingAndGlyphs" >150K</text>
<circle cx="226.3" cy="386.7" r="1.25" fill="#000"/>
<text x="225.05" y="396.10" font-size="4.1" text-anchor="middle" font-weight="bold" fill="#000" stroke="#000" stroke-width="0.2" textLength="10" lengthAdjust="spacingAndGlyphs" >200K</text>
<circle cx="243.6" cy="386.7" r="1.25" fill="#000"/>
<text x="242.35" y="396.10" font-size="4.1" text-anchor="middle" font-weight="bold" fill="#000" stroke="#000" stroke-width="0.2" textLength="10" lengthAdjust="spacingAndGlyphs" >250K</text>
<rect x="297.50" y="293.90" width="91.40" height="91.20" fill="none" stroke="#555" stroke-width="1.0"/>
<rect x="304.70" y="294.60" width="81.10" height="50.40" fill="none" stroke="#3a3a3a" stroke-width="1.1"/>
<path d="M295.6,296.1h1.5M295.6,299.5h1.5M295.6,303.0h1.5M295.6,306.4h1.5M295.6,309.9h1.5M295.6,313.3h1.5M295.6,316.8h1.5M295.6,320.2h1.5M295.6,323.7h1.5M295.6,327.1h1.5M295.6,330.6h1.5M295.6,334.0h1.5M295.6,337.5h1.5M295.6,340.9h1.5M295.6,344.4h1.5M295.6,347.8h1.5M295.6,351.3h1.5M295.6,354.8h1.5M295.6,358.2h1.5M295.6,361.6h1.5M295.6,365.1h1.5M295.6,368.5h1.5M295.6,372.0h1.5M295.6,375.4h1.5M295.6,378.9h1.5M295.6,382.3h1.5" stroke="#000" stroke-width="1"/>
<path d="M299.0,385.5v1.5M302.4,385.5v1.5M305.9,385.5v1.5M309.4,385.5v1.5M312.8,385.5v1.5M316.2,385.5v1.5M319.7,385.5v1.5M323.1,385.5v1.5M326.6,385.5v1.5M330.1,385.5v1.5M333.5,385.5v1.5M336.9,385.5v1.5M340.4,385.5v1.5M343.9,385.5v1.5M347.3,385.5v1.5M350.8,385.5v1.5M354.2,385.5v1.5M357.6,385.5v1.5M361.1,385.5v1.5M364.6,385.5v1.5M368.0,385.5v1.5M371.4,385.5v1.5M374.9,385.5v1.5M378.4,385.5v1.5M381.8,385.5v1.5M385.2,385.5v1.5M388.7,385.5v1.5" stroke="#000" stroke-width="1"/>
<rect x="295.00" y="301.10" width="2.30" height="2.40" fill="#000" stroke="none" stroke-width="1"/>
<rect x="295.00" y="322.70" width="2.30" height="2.40" fill="#000" stroke="none" stroke-width="1"/>
<rect x="295.00" y="347.20" width="2.30" height="2.40" fill="#000" stroke="none" stroke-width="1"/>
<rect x="295.00" y="362.70" width="2.30" height="2.40" fill="#000" stroke="none" stroke-width="1"/>
<rect x="295.00" y="379.30" width="2.30" height="2.40" fill="#000" stroke="none" stroke-width="1"/>
<text x="290.4" y="305.6" font-size="4.4" font-weight="bold" stroke="#000" stroke-width="0.25" text-anchor="end">10</text>
<text x="291.1" y="302.5" font-size="3.8" font-weight="bold" stroke="#000" stroke-width="0.2">5</text>
<text x="290.4" y="327.2" font-size="4.4" font-weight="bold" stroke="#000" stroke-width="0.25" text-anchor="end">10</text>
<text x="291.1" y="324.1" font-size="3.8" font-weight="bold" stroke="#000" stroke-width="0.2">4</text>
<text x="290.4" y="351.7" font-size="4.4" font-weight="bold" stroke="#000" stroke-width="0.25" text-anchor="end">10</text>
<text x="291.1" y="348.6" font-size="3.8" font-weight="bold" stroke="#000" stroke-width="0.2">3</text>
<text x="290.6" y="365.7" font-size="4.4" font-weight="bold" stroke="#000" stroke-width="0.25" text-anchor="end">0</text>
<text x="290.4" y="383.8" font-size="4.4" font-weight="bold" stroke="#000" stroke-width="0.25" text-anchor="end">-10</text>
<text x="291.1" y="380.7" font-size="3.8" font-weight="bold" stroke="#000" stroke-width="0.2">3</text>
<circle cx="297.1" cy="386.5" r="1.25" fill="#000"/>
<text x="298.60" y="395.90" font-size="4.1" text-anchor="middle" font-weight="bold" fill="#000" stroke="#000" stroke-width="0.2" textLength="1.9" lengthAdjust="spacingAndGlyphs" >0</text>
<circle cx="314.4" cy="386.5" r="1.25" fill="#000"/>
<text x="313.15" y="395.90" font-size="4.1" text-anchor="middle" font-weight="bold" fill="#000" stroke="#000" stroke-width="0.2" textLength="6.5" lengthAdjust="spacingAndGlyphs" >50K</text>
<circle cx="331.7" cy="386.5" r="1.25" fill="#000"/>
<text x="330.45" y="395.90" font-size="4.1" text-anchor="middle" font-weight="bold" fill="#000" stroke="#000" stroke-width="0.2" textLength="10" lengthAdjust="spacingAndGlyphs" >100K</text>
<circle cx="349.0" cy="386.5" r="1.25" fill="#000"/>
<text x="347.75" y="395.90" font-size="4.1" text-anchor="middle" font-weight="bold" fill="#000" stroke="#000" stroke-width="0.2" textLength="10" lengthAdjust="spacingAndGlyphs" >150K</text>
<circle cx="366.3" cy="386.5" r="1.25" fill="#000"/>
<text x="365.05" y="395.90" font-size="4.1" text-anchor="middle" font-weight="bold" fill="#000" stroke="#000" stroke-width="0.2" textLength="10" lengthAdjust="spacingAndGlyphs" >200K</text>
<circle cx="383.6" cy="386.5" r="1.25" fill="#000"/>
<text x="382.35" y="395.90" font-size="4.1" text-anchor="middle" font-weight="bold" fill="#000" stroke="#000" stroke-width="0.2" textLength="10" lengthAdjust="spacingAndGlyphs" >250K</text>
<rect x="415.40" y="294.40" width="90.70" height="90.90" fill="none" stroke="#555" stroke-width="1.0"/>
<rect x="422.40" y="295.10" width="80.30" height="49.90" fill="none" stroke="#3a3a3a" stroke-width="1.1"/>
<path d="M413.5,296.6h1.5M413.5,300.0h1.5M413.5,303.5h1.5M413.5,306.9h1.5M413.5,310.4h1.5M413.5,313.8h1.5M413.5,317.3h1.5M413.5,320.7h1.5M413.5,324.2h1.5M413.5,327.6h1.5M413.5,331.1h1.5M413.5,334.5h1.5M413.5,338.0h1.5M413.5,341.4h1.5M413.5,344.9h1.5M413.5,348.3h1.5M413.5,351.8h1.5M413.5,355.2h1.5M413.5,358.7h1.5M413.5,362.1h1.5M413.5,365.6h1.5M413.5,369.0h1.5M413.5,372.5h1.5M413.5,375.9h1.5M413.5,379.4h1.5M413.5,382.8h1.5" stroke="#000" stroke-width="1"/>
<path d="M416.9,385.7v1.5M420.3,385.7v1.5M423.8,385.7v1.5M427.2,385.7v1.5M430.7,385.7v1.5M434.1,385.7v1.5M437.6,385.7v1.5M441.0,385.7v1.5M444.5,385.7v1.5M447.9,385.7v1.5M451.4,385.7v1.5M454.8,385.7v1.5M458.3,385.7v1.5M461.8,385.7v1.5M465.2,385.7v1.5M468.6,385.7v1.5M472.1,385.7v1.5M475.5,385.7v1.5M479.0,385.7v1.5M482.4,385.7v1.5M485.9,385.7v1.5M489.3,385.7v1.5M492.8,385.7v1.5M496.2,385.7v1.5M499.7,385.7v1.5M503.1,385.7v1.5" stroke="#000" stroke-width="1"/>
<rect x="412.90" y="301.60" width="2.30" height="2.40" fill="#000" stroke="none" stroke-width="1"/>
<rect x="412.90" y="323.20" width="2.30" height="2.40" fill="#000" stroke="none" stroke-width="1"/>
<rect x="412.90" y="347.70" width="2.30" height="2.40" fill="#000" stroke="none" stroke-width="1"/>
<rect x="412.90" y="363.20" width="2.30" height="2.40" fill="#000" stroke="none" stroke-width="1"/>
<rect x="412.90" y="379.80" width="2.30" height="2.40" fill="#000" stroke="none" stroke-width="1"/>
<text x="408.3" y="306.1" font-size="4.4" font-weight="bold" stroke="#000" stroke-width="0.25" text-anchor="end">10</text>
<text x="409.0" y="303.0" font-size="3.8" font-weight="bold" stroke="#000" stroke-width="0.2">5</text>
<text x="408.3" y="327.7" font-size="4.4" font-weight="bold" stroke="#000" stroke-width="0.25" text-anchor="end">10</text>
<text x="409.0" y="324.6" font-size="3.8" font-weight="bold" stroke="#000" stroke-width="0.2">4</text>
<text x="408.3" y="352.2" font-size="4.4" font-weight="bold" stroke="#000" stroke-width="0.25" text-anchor="end">10</text>
<text x="409.0" y="349.1" font-size="3.8" font-weight="bold" stroke="#000" stroke-width="0.2">3</text>
<text x="408.5" y="366.2" font-size="4.4" font-weight="bold" stroke="#000" stroke-width="0.25" text-anchor="end">0</text>
<text x="408.3" y="384.3" font-size="4.4" font-weight="bold" stroke="#000" stroke-width="0.25" text-anchor="end">-10</text>
<text x="409.0" y="381.2" font-size="3.8" font-weight="bold" stroke="#000" stroke-width="0.2">3</text>
<circle cx="415.0" cy="386.7" r="1.25" fill="#000"/>
<text x="416.50" y="396.10" font-size="4.1" text-anchor="middle" font-weight="bold" fill="#000" stroke="#000" stroke-width="0.2" textLength="1.9" lengthAdjust="spacingAndGlyphs" >0</text>
<circle cx="432.3" cy="386.7" r="1.25" fill="#000"/>
<text x="431.05" y="396.10" font-size="4.1" text-anchor="middle" font-weight="bold" fill="#000" stroke="#000" stroke-width="0.2" textLength="6.5" lengthAdjust="spacingAndGlyphs" >50K</text>
<circle cx="449.6" cy="386.7" r="1.25" fill="#000"/>
<text x="448.35" y="396.10" font-size="4.1" text-anchor="middle" font-weight="bold" fill="#000" stroke="#000" stroke-width="0.2" textLength="10" lengthAdjust="spacingAndGlyphs" >100K</text>
<circle cx="466.9" cy="386.7" r="1.25" fill="#000"/>
<text x="465.65" y="396.10" font-size="4.1" text-anchor="middle" font-weight="bold" fill="#000" stroke="#000" stroke-width="0.2" textLength="10" lengthAdjust="spacingAndGlyphs" >150K</text>
<circle cx="484.2" cy="386.7" r="1.25" fill="#000"/>
<text x="482.95" y="396.10" font-size="4.1" text-anchor="middle" font-weight="bold" fill="#000" stroke="#000" stroke-width="0.2" textLength="10" lengthAdjust="spacingAndGlyphs" >200K</text>
<circle cx="501.5" cy="386.7" r="1.25" fill="#000"/>
<text x="500.25" y="396.10" font-size="4.1" text-anchor="middle" font-weight="bold" fill="#000" stroke="#000" stroke-width="0.2" textLength="10" lengthAdjust="spacingAndGlyphs" >250K</text>
<path d="M72.2,361.2h0.6M54.6,339.9h0.6M48.4,357.1h0.6M75.7,339.2h0.6M47.8,364.5h0.6M47.9,360.5h0.6M58.9,334.1h0.6M56.2,369.1h0.6M75.2,355.7h0.6M71.8,336.7h0.6M59.1,370.1h0.6M62.8,367.1h0.6M54.8,368.9h0.6M50.2,353.8h0.6M69.9,335.8h0.6M55.0,340.2h0.6M75.3,345.8h0.6M61.2,335.1h0.6M71.5,337.1h0.6M50.1,354.3h0.6M52.2,365.9h0.6M59.8,336.7h0.6M70.5,362.3h0.6M70.5,333.5h0.6M68.5,333.4h0.6M69.6,365.0h0.6M69.6,334.0h0.6M51.3,367.9h0.6M75.6,339.3h0.6M73.0,337.9h0.6M68.5,335.2h0.6M51.1,366.5h0.6M76.2,340.5h0.6M63.9,333.8h0.6M73.3,360.9h0.6M60.8,332.1h0.6M50.2,361.7h0.6M76.3,345.6h0.6M76.1,344.7h0.6M65.3,334.3h0.6M56.2,337.0h0.6M75.8,355.5h0.6M49.7,360.6h0.6M52.9,366.7h0.6M50.9,350.1h0.6M68.1,333.6h0.6M50.4,360.5h0.6M72.5,339.1h0.6M50.9,366.5h0.6M62.3,368.2h0.6M56.7,367.8h0.6M71.8,335.9h0.6M66.4,365.1h0.6M63.0,369.2h0.6M49.8,348.6h0.6M53.6,368.4h0.6M67.7,335.3h0.6M76.0,344.8h0.6M50.0,354.1h0.6M57.1,367.3h0.6M65.3,366.6h0.6M74.6,358.8h0.6M63.3,369.4h0.6M65.4,367.0h0.6M52.0,371.5h0.6M48.9,352.9h0.6M56.8,367.7h0.6M76.6,346.5h0.6M61.3,334.5h0.6M65.8,332.5h0.6M56.4,336.4h0.6M65.6,367.5h0.6M50.0,356.2h0.6M51.9,342.7h0.6M53.5,366.5h0.6M78.6,347.2h0.6M77.8,352.5h0.6M78.0,340.7h0.6M69.3,334.5h0.6M54.3,339.3h0.6M49.2,359.9h0.6M69.2,334.0h0.6M48.8,358.7h0.6M59.9,369.0h0.6M49.8,366.3h0.6M78.2,352.3h0.6M51.7,365.0h0.6M49.2,361.1h0.6M75.1,358.4h0.6M48.6,357.5h0.6M52.0,342.7h0.6M53.7,368.6h0.6M46.6,357.4h0.6M75.7,350.1h0.6M71.6,338.0h0.6M61.2,367.3h0.6M65.1,333.5h0.6M72.5,360.1h0.6M74.9,344.1h0.6M67.3,366.0h0.6M57.0,335.4h0.6M49.8,363.7h0.6M75.4,343.2h0.6M59.1,367.7h0.6M66.5,333.4h0.6M72.9,334.1h0.6M77.1,349.5h0.6M56.2,368.0h0.6M74.4,356.1h0.6M75.9,349.5h0.6M50.4,350.3h0.6M50.1,349.9h0.6M50.0,354.7h0.6M53.8,340.3h0.6M53.7,343.2h0.6M54.5,340.5h0.6M52.0,365.3h0.6M72.6,360.8h0.6M56.7,368.8h0.6M71.9,336.8h0.6M74.7,342.8h0.6M50.0,366.2h0.6M76.5,349.0h0.6M49.8,361.0h0.6M49.6,365.4h0.6M64.4,333.1h0.6M75.2,341.4h0.6M56.8,367.9h0.6M74.2,361.3h0.6M70.6,334.8h0.6M62.1,367.3h0.6M65.0,367.3h0.6M70.3,365.1h0.6M72.5,360.9h0.6M73.2,336.1h0.6M52.7,368.4h0.6M75.6,351.9h0.6M56.5,369.0h0.6M71.0,334.5h0.6M72.0,334.9h0.6M55.3,340.0h0.6M65.6,367.8h0.6M59.4,369.4h0.6M63.0,331.3h0.6M52.6,367.8h0.6M58.8,337.0h0.6M53.7,340.6h0.6M66.6,365.8h0.6M75.8,345.0h0.6M57.1,336.2h0.6M75.2,353.6h0.6M54.2,341.4h0.6M51.3,346.2h0.6M58.4,337.1h0.6M49.0,359.3h0.6M55.0,336.1h0.6M63.4,369.1h0.6M57.7,368.7h0.6M75.7,358.2h0.6M49.6,350.5h0.6M55.8,369.1h0.6M72.4,359.7h0.6M48.3,353.8h0.6M63.0,369.4h0.6M74.8,340.4h0.6M52.8,368.0h0.6M74.9,337.1h0.6M53.5,366.6h0.6M53.2,370.1h0.6M71.6,361.0h0.6M62.2,367.3h0.6M73.6,358.7h0.6M68.5,334.2h0.6M47.2,369.8h0.6M68.6,333.4h0.6M50.5,351.8h0.6M74.4,338.8h0.6M51.7,365.1h0.6M49.0,355.5h0.6M50.0,345.7h0.6M74.7,344.2h0.6M49.8,361.3h0.6M48.9,362.3h0.6M76.4,340.5h0.6M49.6,356.8h0.6M47.9,358.1h0.6M57.7,334.2h0.6M50.1,361.7h0.6M56.6,338.2h0.6M52.7,370.3h0.6M74.3,337.8h0.6M65.4,368.8h0.6M76.7,350.0h0.6M76.6,350.4h0.6M71.1,336.5h0.6M50.2,345.4h0.6M76.0,349.3h0.6M58.0,337.5h0.6M55.0,368.4h0.6M48.8,364.0h0.6M49.5,356.6h0.6M53.3,339.8h0.6M72.7,336.9h0.6M75.9,347.0h0.6M63.2,332.8h0.6M75.1,346.1h0.6M76.6,343.8h0.6M73.5,360.7h0.6M77.0,350.5h0.6M71.8,362.1h0.6M73.8,361.7h0.6M64.6,369.9h0.6M63.5,366.9h0.6M52.7,365.9h0.6M49.1,358.9h0.6M72.0,360.4h0.6M77.4,349.2h0.6M63.6,368.5h0.6M46.3,363.7h0.6M49.8,352.8h0.6M77.1,350.0h0.6M74.5,343.3h0.6M49.7,365.5h0.6M68.3,334.0h0.6M69.5,364.3h0.6M60.2,335.2h0.6M61.7,332.2h0.6M76.7,350.0h0.6M67.0,365.2h0.6M51.6,367.3h0.6M52.9,368.9h0.6M51.2,349.8h0.6M69.1,333.6h0.6M64.0,367.0h0.6M59.3,368.8h0.6M75.1,352.7h0.6M59.8,335.0h0.6M64.8,366.2h0.6M51.0,364.4h0.6M49.8,350.3h0.6M47.9,366.2h0.6M75.6,355.5h0.6M75.4,351.0h0.6M49.9,351.7h0.6M64.1,334.4h0.6M74.4,360.0h0.6M49.3,364.1h0.6M74.4,342.8h0.6M52.6,343.6h0.6M65.3,366.5h0.6M75.7,340.9h0.6M75.6,355.5h0.6M77.1,349.9h0.6M50.0,359.5h0.6M75.9,350.8h0.6M75.1,336.6h0.6M49.5,359.7h0.6M68.2,368.7h0.6M74.5,357.2h0.6M76.0,350.4h0.6M54.3,367.1h0.6M67.3,331.9h0.6M75.2,352.3h0.6M52.2,367.0h0.6M74.9,340.3h0.6M70.8,363.7h0.6M59.9,368.1h0.6M56.5,367.5h0.6M62.6,333.5h0.6M78.2,350.2h0.6M76.4,349.9h0.6M69.1,365.4h0.6M65.6,333.2h0.6M75.9,345.7h0.6M75.0,341.9h0.6M54.2,370.3h0.6M65.5,332.8h0.6M70.8,364.7h0.6M66.2,334.9h0.6M59.3,368.2h0.6M74.7,340.6h0.6M76.4,350.1h0.6M49.9,361.2h0.6M61.6,335.0h0.6M59.5,367.9h0.6M71.6,361.0h0.6M77.3,351.2h0.6M51.2,345.1h0.6M61.6,367.1h0.6M49.9,365.0h0.6M49.0,359.6h0.6M52.3,344.5h0.6M69.2,334.3h0.6M75.8,344.3h0.6M57.7,335.6h0.6M49.2,362.3h0.6M53.6,367.1h0.6M66.5,369.0h0.6M51.3,344.2h0.6M71.6,361.4h0.6M72.7,337.9h0.6M56.1,367.5h0.6M60.0,334.4h0.6M66.0,366.7h0.6M61.9,370.0h0.6M48.4,353.3h0.6M72.4,360.9h0.6M54.3,367.4h0.6M53.8,371.7h0.6M65.2,366.2h0.6M48.4,352.9h0.6M75.4,353.1h0.6M56.7,368.5h0.6M48.0,354.1h0.6M66.4,365.2h0.6M62.5,368.3h0.6M74.4,343.0h0.6M76.9,348.0h0.6M75.8,355.1h0.6M52.0,342.4h0.6M54.7,368.8h0.6M49.7,351.3h0.6M71.3,363.9h0.6M65.2,334.7h0.6M63.4,332.0h0.6M72.5,338.8h0.6M65.2,368.6h0.6M70.7,335.2h0.6M71.1,363.0h0.6M59.0,367.8h0.6M71.7,336.8h0.6M64.4,334.3h0.6M49.8,350.0h0.6M67.8,365.0h0.6M51.5,347.8h0.6M76.3,358.0h0.6M49.3,367.9h0.6M60.0,368.9h0.6M73.7,358.2h0.6M75.8,359.6h0.6M72.3,338.8h0.6M72.5,338.9h0.6M50.1,365.3h0.6M52.7,365.9h0.6M55.1,338.8h0.6M72.5,362.8h0.6M68.8,363.8h0.6M49.9,353.1h0.6M75.2,356.7h0.6M68.3,333.5h0.6" stroke="#555" stroke-width="0.6" fill="none"/>
<path d="M65.5,331.4h0.6M66.0,367.0h0.6M45.8,364.1h0.6M75.5,347.4h0.6M50.3,371.1h0.6M71.4,335.4h0.6M77.5,351.5h0.6M68.2,365.6h0.6M55.5,370.1h0.6M81.3,354.9h0.6M79.3,363.8h0.6M44.3,353.4h0.6M51.0,342.7h0.6M78.4,352.2h0.6M58.4,332.8h0.6M75.1,334.8h0.6M74.7,343.5h0.6M49.0,362.2h0.6M49.5,370.2h0.6M49.2,361.6h0.6M51.2,339.9h0.6M75.4,346.4h0.6M74.4,341.5h0.6M62.3,368.5h0.6M73.3,333.0h0.6M66.6,335.1h0.6M74.0,364.0h0.6M76.7,359.7h0.6M60.0,367.3h0.6M53.8,368.3h0.6M75.7,365.7h0.6M76.5,363.1h0.6M54.8,341.4h0.6M74.1,331.2h0.6M70.4,363.7h0.6M79.6,336.9h0.6M73.8,359.9h0.6M46.9,367.5h0.6M69.3,332.7h0.6M45.0,363.3h0.6M48.9,357.4h0.6M46.4,354.2h0.6M53.7,342.8h0.6M73.6,360.9h0.6M44.9,364.1h0.6M47.9,367.2h0.6M54.6,339.8h0.6M69.2,374.5h0.6M75.5,353.6h0.6M54.1,370.5h0.6M74.8,344.3h0.6M45.1,357.8h0.6M54.7,340.0h0.6M65.0,324.3h0.6M54.3,368.3h0.6M72.4,339.0h0.6M65.1,332.1h0.6M66.0,371.8h0.6M49.8,368.0h0.6M61.8,329.7h0.6M60.0,369.0h0.6M55.5,370.6h0.6M61.1,367.3h0.6M72.5,333.9h0.6M47.2,360.8h0.6M54.8,369.6h0.6M72.5,367.4h0.6M75.4,359.4h0.6M80.6,354.5h0.6M47.2,359.3h0.6M53.8,340.6h0.6M58.5,333.7h0.6M77.0,351.8h0.6M50.6,342.7h0.6M51.7,365.7h0.6M71.0,337.0h0.6M77.2,337.3h0.6M68.5,368.1h0.6M49.4,379.1h0.6M52.7,366.0h0.6M41.0,361.8h0.6M75.0,362.8h0.6M64.1,332.3h0.6M74.9,327.5h0.6M71.3,365.0h0.6M60.4,330.3h0.6M49.8,370.3h0.6M69.2,363.8h0.6M51.4,343.1h0.6M48.0,348.3h0.6" stroke="#999" stroke-width="0.6" fill="none"/>
<path d="M64.00,334.50C66.33,334.00 68.33,334.92 70.00,336.00C71.67,337.08 73.08,338.83 74.00,341.00C74.92,343.17 75.50,346.33 75.50,349.00C75.50,351.67 74.92,354.67 74.00,357.00C73.08,359.33 71.83,361.33 70.00,363.00C68.17,364.67 65.50,366.28 63.00,367.00C60.50,367.72 57.00,367.80 55.00,367.30C53.00,366.80 51.83,365.72 51.00,364.00C50.17,362.28 49.83,359.83 50.00,357.00C50.17,354.17 51.00,350.00 52.00,347.00C53.00,344.00 54.00,341.08 56.00,339.00C58.00,336.92 61.67,335.00 64.00,334.50Z" fill="#fff" stroke="#333" stroke-width="0.55"/>
<path d="M63.96,335.11C66.21,334.62 68.14,335.51 69.75,336.55C71.36,337.60 72.73,339.29 73.61,341.38C74.50,343.47 75.06,346.53 75.06,349.10C75.06,351.67 74.50,354.57 73.61,356.82C72.73,359.07 71.52,361.00 69.75,362.61C67.98,364.22 65.41,365.78 63.00,366.47C60.58,367.16 57.21,367.24 55.28,366.76C53.35,366.28 52.22,365.23 51.42,363.57C50.61,361.92 50.29,359.55 50.45,356.82C50.61,354.08 51.42,350.06 52.38,347.17C53.35,344.27 54.31,341.46 56.24,339.45C58.17,337.44 61.71,335.59 63.96,335.11Z" fill="#050505"/>
<path d="M62.5,345 L61.5,352 M60,356 L59.5,359" stroke="#fff" stroke-width="1.1"/>
<path d="M193.2,345.0h0.6M191.9,336.5h0.6M192.4,355.9h0.6M165.9,363.6h0.6M178.2,332.1h0.6M192.6,343.0h0.6M187.1,364.5h0.6M190.5,358.9h0.6M193.7,345.3h0.6M182.5,329.3h0.6M167.4,365.5h0.6M169.0,343.5h0.6M179.0,332.3h0.6M189.9,361.5h0.6M172.1,337.5h0.6M194.9,344.5h0.6M168.5,357.7h0.6M168.8,366.4h0.6M169.7,368.5h0.6M192.2,341.3h0.6M166.4,356.7h0.6M168.3,359.8h0.6M179.4,333.2h0.6M190.5,358.4h0.6M189.1,362.4h0.6M183.5,332.2h0.6M184.2,332.9h0.6M190.4,337.6h0.6M171.2,339.9h0.6M168.7,347.9h0.6M168.6,358.9h0.6M189.0,334.9h0.6M170.0,338.1h0.6M169.4,366.2h0.6M194.0,353.1h0.6M176.3,368.7h0.6M175.9,368.2h0.6M189.8,360.8h0.6M192.6,358.5h0.6M188.9,363.3h0.6M176.5,367.4h0.6M185.2,365.3h0.6M179.4,367.1h0.6M193.7,353.1h0.6M192.7,337.7h0.6M167.7,360.9h0.6M169.5,341.7h0.6M167.8,353.4h0.6M193.1,355.9h0.6M168.4,342.3h0.6M170.7,367.9h0.6M183.4,365.3h0.6M176.9,332.6h0.6M172.8,367.4h0.6M171.6,365.8h0.6M172.7,337.5h0.6M166.5,354.8h0.6M193.1,349.0h0.6M177.9,333.2h0.6M177.4,368.0h0.6M193.5,349.1h0.6M192.6,360.4h0.6M177.4,368.4h0.6M167.2,362.0h0.6M181.7,366.8h0.6M188.9,334.9h0.6M187.7,334.1h0.6M175.8,333.6h0.6M167.8,363.4h0.6M169.2,365.4h0.6M168.5,351.6h0.6M170.3,366.4h0.6M194.6,350.4h0.6M190.2,363.8h0.6M175.5,370.6h0.6M167.8,352.5h0.6M167.8,354.9h0.6M193.5,343.6h0.6M181.1,331.8h0.6M173.4,335.2h0.6M186.6,332.0h0.6M168.3,354.0h0.6M193.0,338.4h0.6M191.5,338.9h0.6M169.9,364.0h0.6M167.7,360.2h0.6M175.7,333.2h0.6M191.2,358.0h0.6M169.4,344.0h0.6M171.2,337.8h0.6M169.0,341.6h0.6M194.5,346.5h0.6M168.4,355.4h0.6M188.4,334.7h0.6M189.8,359.5h0.6M167.7,361.1h0.6M193.9,352.5h0.6M186.4,332.0h0.6M192.7,350.5h0.6M182.9,330.4h0.6M169.8,340.3h0.6M190.0,334.8h0.6M165.8,361.4h0.6M174.1,366.8h0.6M184.3,332.5h0.6M172.3,366.2h0.6M174.0,334.0h0.6M169.9,342.9h0.6M187.5,334.1h0.6M167.6,340.8h0.6M169.0,343.3h0.6M175.6,371.2h0.6M176.3,368.3h0.6M175.9,333.4h0.6M179.1,332.9h0.6M179.3,367.0h0.6M181.5,328.7h0.6M189.2,333.4h0.6M194.6,343.4h0.6M177.8,330.8h0.6M165.5,351.3h0.6M188.4,334.2h0.6M168.5,347.7h0.6M169.6,339.6h0.6M168.4,345.7h0.6M179.0,332.5h0.6M170.1,364.4h0.6M188.8,331.1h0.6M193.6,345.6h0.6M173.2,336.7h0.6M192.4,357.3h0.6M192.7,353.3h0.6M179.1,368.6h0.6M168.0,351.4h0.6M179.7,367.0h0.6M168.0,358.8h0.6M192.9,347.9h0.6M181.0,330.1h0.6M181.9,328.7h0.6M167.9,352.7h0.6M171.1,364.6h0.6M181.7,365.9h0.6M178.4,332.8h0.6M193.1,346.8h0.6M167.5,357.5h0.6M168.3,356.3h0.6M167.3,355.4h0.6M173.3,366.2h0.6M177.1,333.6h0.6M177.1,333.3h0.6M169.5,339.7h0.6M169.3,339.8h0.6M169.9,342.8h0.6M194.1,350.6h0.6M194.3,348.0h0.6M172.2,333.9h0.6M176.9,334.1h0.6M183.7,364.5h0.6M187.0,363.0h0.6M189.8,333.3h0.6M192.9,350.9h0.6M168.3,362.1h0.6M170.7,366.0h0.6M168.1,361.8h0.6M184.3,331.8h0.6M194.0,343.0h0.6M173.5,366.4h0.6M168.6,359.4h0.6M187.0,365.6h0.6M193.8,339.1h0.6M194.5,344.8h0.6M187.6,363.0h0.6M183.6,367.2h0.6M193.9,345.8h0.6M187.8,365.0h0.6M179.7,332.8h0.6M188.9,330.3h0.6M167.5,354.8h0.6M174.7,369.5h0.6M192.5,335.0h0.6M174.9,334.8h0.6M167.1,348.1h0.6M176.0,333.2h0.6M190.8,334.7h0.6M167.2,362.0h0.6M169.5,341.3h0.6M193.2,338.0h0.6M190.6,360.8h0.6M172.3,333.0h0.6M187.5,333.5h0.6M181.8,328.1h0.6M182.4,331.3h0.6M172.3,366.7h0.6M188.4,334.0h0.6M195.2,351.2h0.6M189.4,335.1h0.6M193.7,352.6h0.6M167.9,353.9h0.6M180.1,370.0h0.6M169.1,342.6h0.6M192.1,360.1h0.6M166.4,357.7h0.6M169.5,345.8h0.6M168.6,352.1h0.6M194.8,354.7h0.6M190.8,359.6h0.6M167.7,358.5h0.6M176.3,366.6h0.6M193.4,340.3h0.6M192.2,334.8h0.6M173.0,336.0h0.6M181.2,369.1h0.6M187.9,362.5h0.6M193.2,342.2h0.6M179.4,368.9h0.6M195.8,343.7h0.6M191.9,358.0h0.6M188.5,362.0h0.6M184.2,364.4h0.6M168.5,346.8h0.6M178.3,331.4h0.6M175.3,334.7h0.6M168.9,342.3h0.6M180.5,369.8h0.6M193.5,349.5h0.6M168.7,360.7h0.6M191.5,358.1h0.6M170.3,337.3h0.6M187.8,364.2h0.6M165.8,359.5h0.6M191.8,356.6h0.6M185.2,368.8h0.6M168.1,354.3h0.6M186.8,365.7h0.6M183.9,330.7h0.6M179.4,368.0h0.6M192.9,333.0h0.6M177.6,332.8h0.6M181.9,367.8h0.6M185.7,332.0h0.6M175.0,367.7h0.6M187.6,334.5h0.6M192.4,343.3h0.6M168.0,354.4h0.6M192.8,356.3h0.6M188.6,335.6h0.6M170.1,341.1h0.6M176.7,366.4h0.6M191.2,337.6h0.6M193.1,352.3h0.6M169.0,346.4h0.6M194.5,356.3h0.6M173.4,334.1h0.6M190.4,361.4h0.6M187.5,365.1h0.6M193.1,352.7h0.6M168.5,349.6h0.6M170.3,342.0h0.6M191.1,336.0h0.6M189.7,362.5h0.6M168.7,344.1h0.6M168.2,353.2h0.6M192.5,332.4h0.6M174.4,368.9h0.6M189.2,361.6h0.6M167.6,354.2h0.6M173.6,366.5h0.6M184.2,331.9h0.6M168.0,344.4h0.6M188.4,331.5h0.6M186.6,332.5h0.6M175.1,333.7h0.6M188.8,335.2h0.6M175.5,334.0h0.6M182.2,331.4h0.6M184.2,332.0h0.6M167.6,359.9h0.6M194.6,344.8h0.6M195.2,341.7h0.6M176.2,333.6h0.6M189.7,361.8h0.6M171.4,364.7h0.6M167.2,356.1h0.6M167.7,362.1h0.6M168.2,360.3h0.6M192.9,353.7h0.6M180.9,329.1h0.6M168.4,364.1h0.6M192.9,339.9h0.6M179.9,367.4h0.6M184.5,329.9h0.6M174.7,368.1h0.6M190.4,359.2h0.6M168.0,350.2h0.6M171.3,334.8h0.6M195.2,344.2h0.6M173.7,334.9h0.6M186.4,332.5h0.6M168.1,345.7h0.6M192.9,345.7h0.6M182.8,330.8h0.6M178.5,330.1h0.6M192.2,355.4h0.6M189.6,334.8h0.6M188.5,332.2h0.6M172.8,366.5h0.6M181.6,365.8h0.6M194.7,354.2h0.6M192.5,357.5h0.6M168.6,351.2h0.6M193.8,351.4h0.6M166.7,366.5h0.6M192.6,343.2h0.6M178.6,333.4h0.6M167.7,359.1h0.6M165.5,356.0h0.6M178.8,370.1h0.6M177.2,370.1h0.6M181.8,331.4h0.6M193.2,351.3h0.6M183.6,331.8h0.6M192.5,338.0h0.6M171.5,339.4h0.6M192.7,357.6h0.6M178.4,333.2h0.6M176.2,332.1h0.6M193.5,354.1h0.6M190.3,359.0h0.6M182.3,366.9h0.6M175.3,367.7h0.6M192.9,348.3h0.6M177.8,367.7h0.6M174.2,369.9h0.6M184.7,365.1h0.6M183.8,332.2h0.6M170.5,366.5h0.6M187.2,333.2h0.6M186.6,364.5h0.6M168.8,365.7h0.6M192.8,343.7h0.6M193.1,343.2h0.6M191.3,333.1h0.6M182.2,366.4h0.6M192.5,360.8h0.6M191.0,337.2h0.6M168.6,363.0h0.6M180.3,368.5h0.6M166.9,361.8h0.6M170.7,337.0h0.6M175.2,367.3h0.6M188.0,334.0h0.6M193.0,358.5h0.6M176.2,367.7h0.6M168.4,361.5h0.6M197.3,342.4h0.6M193.4,352.1h0.6M170.6,341.3h0.6M194.0,351.1h0.6M192.0,340.8h0.6M193.4,340.8h0.6M188.6,364.6h0.6M182.9,332.9h0.6M193.0,355.4h0.6M177.0,367.4h0.6M168.2,350.5h0.6M192.6,343.0h0.6M178.4,368.3h0.6M194.1,347.6h0.6M168.5,366.9h0.6M190.2,358.7h0.6M193.5,349.4h0.6M175.6,333.2h0.6M188.4,333.9h0.6M192.8,354.9h0.6M172.5,366.2h0.6M196.0,346.7h0.6M171.8,367.2h0.6M172.3,336.9h0.6M193.0,353.4h0.6M168.1,358.6h0.6M193.2,346.6h0.6M191.4,364.2h0.6M165.5,351.3h0.6M182.2,365.4h0.6M169.0,364.8h0.6M183.2,368.7h0.6M177.1,331.6h0.6M175.0,333.9h0.6M168.7,361.2h0.6M182.5,366.9h0.6M169.3,365.4h0.6M167.6,359.1h0.6M180.1,330.9h0.6M173.2,336.7h0.6M175.2,333.4h0.6M189.3,360.5h0.6M182.6,332.4h0.6M190.7,363.0h0.6M187.0,364.0h0.6M189.6,335.0h0.6" stroke="#555" stroke-width="0.6" fill="none"/>
<path d="M189.9,363.4h0.6M166.6,334.9h0.6M177.2,329.5h0.6M168.8,342.2h0.6M167.7,365.4h0.6M189.2,331.3h0.6M183.7,330.5h0.6M160.7,346.1h0.6M174.6,367.9h0.6M168.1,354.3h0.6M167.3,337.4h0.6M165.6,349.8h0.6M193.1,357.5h0.6M189.9,364.5h0.6M169.2,339.9h0.6M182.9,323.5h0.6M176.6,367.6h0.6M169.1,337.3h0.6M168.1,335.1h0.6M164.8,359.1h0.6M195.7,344.1h0.6M169.7,341.6h0.6M190.0,335.9h0.6M183.5,328.0h0.6M193.2,346.8h0.6M192.2,332.3h0.6M193.2,357.2h0.6M167.0,366.4h0.6M166.7,348.4h0.6M181.7,328.7h0.6M191.5,321.2h0.6M192.7,337.1h0.6M193.0,354.8h0.6M193.3,356.0h0.6M165.7,357.9h0.6M184.9,315.7h0.6M203.2,347.5h0.6M170.3,373.9h0.6M198.8,340.5h0.6M168.0,362.6h0.6M189.3,331.6h0.6M166.1,354.8h0.6M182.1,368.3h0.6M170.9,340.1h0.6M172.7,335.3h0.6M167.2,336.5h0.6M194.6,332.2h0.6M186.2,328.3h0.6M167.1,352.5h0.6M197.3,349.9h0.6M189.2,328.2h0.6M193.4,349.8h0.6M193.0,332.1h0.6M167.4,362.7h0.6M190.7,371.7h0.6M180.2,332.8h0.6M198.2,339.6h0.6M190.1,328.8h0.6M186.9,366.3h0.6M180.0,366.6h0.6M192.3,360.2h0.6M183.8,330.0h0.6M178.8,330.7h0.6M170.6,374.9h0.6M175.0,334.1h0.6M155.8,342.5h0.6M176.2,371.0h0.6M180.7,366.2h0.6M167.4,342.8h0.6M170.6,368.0h0.6M167.1,341.8h0.6M185.3,328.3h0.6M170.1,337.5h0.6M170.0,364.1h0.6M168.4,338.1h0.6M182.0,367.1h0.6M193.3,343.3h0.6M171.9,329.1h0.6M169.8,369.4h0.6M194.9,353.7h0.6M195.4,353.3h0.6M186.1,332.8h0.6M199.8,350.4h0.6M194.8,345.4h0.6M181.4,317.7h0.6M194.9,351.3h0.6M164.1,353.7h0.6M192.7,359.0h0.6M171.2,371.0h0.6M175.3,373.8h0.6M163.0,344.7h0.6M168.0,352.3h0.6M162.8,329.0h0.6M181.6,370.7h0.6M169.9,363.8h0.6M166.2,342.5h0.6M182.9,369.3h0.6M171.9,368.7h0.6M167.8,331.3h0.6M176.7,369.9h0.6" stroke="#999" stroke-width="0.6" fill="none"/>
<path d="M181.00,332.50C183.17,332.25 185.25,332.92 187.00,334.00C188.75,335.08 190.50,336.83 191.50,339.00C192.50,341.17 192.92,344.17 193.00,347.00C193.08,349.83 192.83,353.50 192.00,356.00C191.17,358.50 189.83,360.33 188.00,362.00C186.17,363.67 183.33,365.25 181.00,366.00C178.67,366.75 176.00,367.00 174.00,366.50C172.00,366.00 169.92,365.08 169.00,363.00C168.08,360.92 168.33,357.33 168.50,354.00C168.67,350.67 169.08,346.08 170.00,343.00C170.92,339.92 172.17,337.25 174.00,335.50C175.83,333.75 178.83,332.75 181.00,332.50Z" fill="#fff" stroke="#333" stroke-width="0.55"/>
<path d="M180.99,333.11C183.08,332.87 185.09,333.51 186.78,334.56C188.47,335.60 190.16,337.29 191.12,339.38C192.09,341.47 192.49,344.37 192.57,347.10C192.65,349.83 192.41,353.37 191.61,355.79C190.80,358.20 189.52,359.97 187.75,361.58C185.98,363.18 183.24,364.71 180.99,365.44C178.74,366.16 176.17,366.40 174.24,365.92C172.31,365.44 170.30,364.55 169.41,362.54C168.53,360.53 168.77,357.07 168.93,353.86C169.09,350.64 169.49,346.22 170.38,343.24C171.26,340.27 172.47,337.69 174.24,336.00C176.01,334.31 178.90,333.35 180.99,333.11Z" fill="#050505"/>
<path d="M180,345 L179,352 M178,356 L177.5,359" stroke="#fff" stroke-width="1.1"/>
<path d="M310.9,347.9h0.6M327.0,333.2h0.6M325.3,367.7h0.6M314.6,339.5h0.6M334.5,351.1h0.6M326.1,333.7h0.6M334.5,348.1h0.6M333.9,357.3h0.6M312.0,366.5h0.6M309.6,352.3h0.6M324.1,367.8h0.6M314.9,369.0h0.6M310.1,365.9h0.6M335.5,357.8h0.6M312.1,366.9h0.6M309.3,362.9h0.6M311.8,340.3h0.6M315.9,369.9h0.6M333.0,361.3h0.6M336.5,346.9h0.6M308.0,351.0h0.6M328.0,367.0h0.6M329.9,365.5h0.6M335.2,349.5h0.6M332.4,363.4h0.6M326.6,366.1h0.6M336.6,345.2h0.6M310.1,346.9h0.6M317.1,368.6h0.6M321.4,334.6h0.6M333.5,357.0h0.6M309.8,352.1h0.6M332.1,336.9h0.6M321.4,367.9h0.6M312.3,343.0h0.6M309.7,354.6h0.6M321.5,367.6h0.6M322.1,333.3h0.6M314.6,367.4h0.6M309.3,366.7h0.6M331.1,333.3h0.6M319.9,335.3h0.6M309.3,356.5h0.6M323.1,369.3h0.6M312.1,343.1h0.6M336.9,344.7h0.6M307.8,352.9h0.6M329.0,334.2h0.6M330.4,362.8h0.6M310.2,361.6h0.6M311.2,347.0h0.6M315.4,335.1h0.6M333.5,358.1h0.6M335.3,344.2h0.6M316.2,369.1h0.6M323.6,367.2h0.6M315.6,335.0h0.6M310.6,336.0h0.6M326.4,334.2h0.6M308.5,356.7h0.6M335.3,340.8h0.6M316.9,335.8h0.6M327.5,367.0h0.6M327.0,336.4h0.6M334.5,339.8h0.6M334.1,335.9h0.6M317.6,369.2h0.6M310.0,369.6h0.6M322.0,367.5h0.6M332.4,340.3h0.6M308.8,356.9h0.6M330.3,363.1h0.6M325.1,334.3h0.6M325.3,335.6h0.6M334.1,355.3h0.6M316.9,336.5h0.6M324.4,332.4h0.6M308.6,361.5h0.6M326.4,368.2h0.6M313.6,369.8h0.6M331.4,334.9h0.6M317.1,330.1h0.6M315.9,372.6h0.6M309.8,351.0h0.6M312.0,344.8h0.6M334.0,355.2h0.6M306.9,359.6h0.6M333.6,342.4h0.6M308.7,357.3h0.6M308.4,357.2h0.6M327.3,368.5h0.6M328.4,337.5h0.6M313.3,368.1h0.6M312.6,339.5h0.6M309.4,371.0h0.6M308.0,361.0h0.6M325.2,335.6h0.6M314.9,335.8h0.6M332.0,339.5h0.6M308.9,358.2h0.6M313.5,340.9h0.6M308.1,358.2h0.6M310.7,346.0h0.6M334.8,357.3h0.6M311.5,368.1h0.6M322.9,333.4h0.6M334.2,342.1h0.6M322.4,333.2h0.6M313.4,339.8h0.6M326.9,335.8h0.6M308.9,360.2h0.6M335.9,363.0h0.6M335.3,354.2h0.6M322.2,333.7h0.6M313.1,368.2h0.6M334.3,341.1h0.6M314.9,338.9h0.6M309.2,357.9h0.6M330.5,366.2h0.6M309.3,354.1h0.6M334.2,342.5h0.6M334.7,355.0h0.6M310.3,362.7h0.6M335.1,356.5h0.6M318.6,332.4h0.6M324.5,367.3h0.6M309.9,349.1h0.6M321.5,334.8h0.6M329.5,363.6h0.6M313.0,342.4h0.6M309.8,350.1h0.6M325.8,371.1h0.6M311.5,341.1h0.6M323.6,368.1h0.6M314.4,337.9h0.6M319.2,368.9h0.6M318.0,333.4h0.6M334.2,347.6h0.6M314.9,339.1h0.6M334.7,355.8h0.6M332.1,337.6h0.6M320.1,334.7h0.6M320.3,368.7h0.6M311.7,365.6h0.6M320.2,335.0h0.6M320.9,334.3h0.6M315.6,337.9h0.6M334.7,358.7h0.6M330.0,362.9h0.6M333.0,336.9h0.6M329.6,369.8h0.6M313.2,339.8h0.6M314.3,338.3h0.6M337.1,343.5h0.6M325.7,333.1h0.6M331.8,339.1h0.6M317.7,336.4h0.6M309.4,350.9h0.6M328.2,334.7h0.6M333.3,336.0h0.6M331.6,339.2h0.6M318.6,368.5h0.6M319.9,331.2h0.6M309.2,354.5h0.6M309.2,349.4h0.6M322.6,334.9h0.6M330.7,365.2h0.6M316.6,334.4h0.6M321.6,334.9h0.6M307.9,359.4h0.6M311.5,365.4h0.6M308.3,353.7h0.6M321.9,334.6h0.6M309.0,351.0h0.6M307.7,348.0h0.6M309.3,351.5h0.6M337.2,354.7h0.6M335.7,344.1h0.6M335.3,353.0h0.6M310.2,368.1h0.6M334.5,345.8h0.6M331.4,367.8h0.6M309.6,360.0h0.6M317.4,370.7h0.6M331.6,336.1h0.6M308.8,357.4h0.6M322.5,334.3h0.6M326.9,335.2h0.6M335.6,349.4h0.6M317.7,370.3h0.6M309.3,350.4h0.6M323.8,334.9h0.6M314.1,339.0h0.6M320.3,334.9h0.6M328.0,369.3h0.6M334.0,359.1h0.6M307.1,352.0h0.6M335.8,351.8h0.6M326.9,335.4h0.6M325.5,333.5h0.6M327.9,335.2h0.6M334.1,358.8h0.6M314.2,339.0h0.6M327.4,335.1h0.6M336.6,351.9h0.6M337.2,343.5h0.6M310.9,367.0h0.6M311.8,341.0h0.6M333.7,357.2h0.6M310.3,365.6h0.6M312.9,368.0h0.6M310.4,362.3h0.6M318.9,367.9h0.6M336.8,344.6h0.6M333.2,359.0h0.6M331.7,340.5h0.6M319.8,368.0h0.6M324.5,370.2h0.6M335.6,348.6h0.6M311.2,340.4h0.6M309.3,351.6h0.6M322.8,369.7h0.6M308.2,358.0h0.6M333.7,343.6h0.6M320.5,333.0h0.6M326.7,336.0h0.6M334.7,356.4h0.6M335.2,356.1h0.6M320.3,332.5h0.6M327.8,368.8h0.6M316.0,336.9h0.6M327.4,336.7h0.6M309.6,357.1h0.6M314.4,337.5h0.6M317.5,369.5h0.6M330.0,364.4h0.6M328.1,336.5h0.6M333.4,338.4h0.6M335.4,362.8h0.6M322.5,332.9h0.6M338.3,348.5h0.6M322.6,368.3h0.6M336.5,354.0h0.6M333.2,361.3h0.6M313.1,340.9h0.6M308.5,357.0h0.6M322.2,334.0h0.6M313.4,341.0h0.6M310.3,365.3h0.6M327.0,334.4h0.6M314.2,366.9h0.6M329.1,364.3h0.6M317.6,369.3h0.6M332.1,362.6h0.6M316.2,335.2h0.6M322.3,369.9h0.6M314.5,366.9h0.6M314.4,338.3h0.6M308.3,360.2h0.6M309.7,343.5h0.6M331.9,339.6h0.6M309.6,362.8h0.6M324.3,333.9h0.6M312.7,341.4h0.6M333.3,338.8h0.6M333.2,360.0h0.6M310.3,343.3h0.6M308.9,351.9h0.6M330.7,332.1h0.6M306.6,356.9h0.6M321.3,371.4h0.6M308.7,353.7h0.6M309.9,355.0h0.6M308.7,351.5h0.6M337.2,350.7h0.6M334.6,354.6h0.6M310.2,346.9h0.6M330.7,338.2h0.6M309.6,352.3h0.6M319.1,335.7h0.6M314.0,339.4h0.6M322.1,335.3h0.6M324.1,334.6h0.6M317.5,368.5h0.6M334.4,354.5h0.6M324.9,367.1h0.6M314.1,339.6h0.6M307.1,357.4h0.6M309.2,368.2h0.6M314.3,339.2h0.6M315.8,332.1h0.6M311.7,368.7h0.6M331.9,339.6h0.6M322.9,333.6h0.6M336.2,353.4h0.6M335.0,345.0h0.6M310.3,363.4h0.6M328.5,336.5h0.6M325.7,330.5h0.6M311.9,341.3h0.6M333.1,342.6h0.6M335.1,354.8h0.6M308.4,353.2h0.6M327.1,367.8h0.6M334.3,354.2h0.6M311.8,345.3h0.6M306.2,361.4h0.6M328.2,335.4h0.6M311.4,368.5h0.6M319.9,368.8h0.6M325.6,334.4h0.6M311.1,365.2h0.6M314.8,368.4h0.6M311.1,346.1h0.6M334.9,344.3h0.6M334.7,343.7h0.6M309.9,346.6h0.6M327.7,333.5h0.6M336.5,349.4h0.6M331.8,363.0h0.6M316.6,336.9h0.6M317.1,369.8h0.6M337.9,343.3h0.6M310.0,343.9h0.6M308.7,363.2h0.6M313.5,366.9h0.6M327.1,366.1h0.6M328.8,367.8h0.6M321.8,369.0h0.6M335.0,345.6h0.6M336.7,353.6h0.6M308.9,367.1h0.6M318.0,334.7h0.6M335.4,351.7h0.6M311.4,339.6h0.6M328.2,336.8h0.6M332.1,340.9h0.6M310.7,363.2h0.6M314.6,333.4h0.6M307.9,348.5h0.6M333.3,343.5h0.6M333.0,364.1h0.6M327.8,366.7h0.6M328.4,364.6h0.6M334.6,344.7h0.6M308.8,356.5h0.6M308.9,357.8h0.6M317.8,334.7h0.6M329.3,334.7h0.6M332.9,365.7h0.6M323.1,335.1h0.6M309.9,353.8h0.6M333.7,360.1h0.6M312.2,344.0h0.6M312.8,338.8h0.6M332.8,358.7h0.6M315.5,371.8h0.6M335.2,348.7h0.6M327.3,335.4h0.6M335.9,345.9h0.6M335.5,349.5h0.6M335.1,342.5h0.6M335.0,344.8h0.6M334.2,353.9h0.6M309.6,363.5h0.6M332.1,336.2h0.6M328.1,337.1h0.6M338.2,352.0h0.6M319.2,333.2h0.6M313.5,337.0h0.6M312.5,366.4h0.6M317.0,336.5h0.6M334.2,344.1h0.6M310.9,369.9h0.6M312.8,368.1h0.6M334.7,348.5h0.6M311.4,339.9h0.6M312.6,341.6h0.6M329.5,336.5h0.6M311.3,368.0h0.6M316.8,332.2h0.6M325.9,334.5h0.6M310.0,346.8h0.6M323.4,367.6h0.6M320.7,371.2h0.6M307.7,358.9h0.6M327.5,334.0h0.6M335.0,347.0h0.6M327.6,333.1h0.6M310.9,372.6h0.6M308.0,361.1h0.6M333.8,357.6h0.6M311.2,344.3h0.6M318.9,335.2h0.6M309.8,351.8h0.6M321.5,334.8h0.6M310.9,346.9h0.6M333.7,358.9h0.6M321.4,367.6h0.6M334.8,357.8h0.6M311.4,369.9h0.6M317.7,335.6h0.6M313.7,339.4h0.6M329.6,364.3h0.6M319.0,372.5h0.6M334.6,343.2h0.6M306.3,361.7h0.6M325.2,332.2h0.6M336.8,345.3h0.6M316.0,369.1h0.6M308.2,359.6h0.6M321.4,332.9h0.6M327.1,336.1h0.6M335.2,352.8h0.6M311.3,344.3h0.6M320.2,368.9h0.6M322.0,334.6h0.6M319.9,333.3h0.6M324.5,369.5h0.6M311.8,341.6h0.6M321.4,334.2h0.6M322.1,334.8h0.6M327.2,331.3h0.6M321.2,333.5h0.6M335.6,344.0h0.6M333.3,357.9h0.6M326.9,335.1h0.6M312.7,368.7h0.6M334.9,343.2h0.6M309.2,353.8h0.6M335.0,354.9h0.6M307.5,360.7h0.6M317.4,335.8h0.6M323.2,369.1h0.6M332.9,341.9h0.6M306.8,351.3h0.6M316.3,336.6h0.6M332.5,341.1h0.6M316.2,336.3h0.6M314.4,336.0h0.6M313.3,370.4h0.6M316.9,337.4h0.6M310.8,367.2h0.6M312.5,340.4h0.6M323.4,369.2h0.6M329.6,338.0h0.6M310.8,365.2h0.6M326.7,367.1h0.6M309.4,361.8h0.6M322.4,368.7h0.6M312.5,367.7h0.6M333.9,358.3h0.6M310.7,347.5h0.6M332.6,361.4h0.6M323.7,370.4h0.6M325.7,332.9h0.6M314.6,337.4h0.6M310.3,363.1h0.6M336.8,346.1h0.6M312.9,337.1h0.6M324.5,367.9h0.6M336.9,358.6h0.6M310.7,363.8h0.6M333.2,357.3h0.6M313.8,337.3h0.6M326.0,371.3h0.6M331.7,363.5h0.6M306.5,366.5h0.6M313.4,339.8h0.6M312.6,368.7h0.6M310.7,366.3h0.6M337.0,345.7h0.6M335.4,349.6h0.6M312.7,342.9h0.6M310.0,349.0h0.6M334.9,352.9h0.6M319.3,334.9h0.6M312.4,342.3h0.6M319.9,335.5h0.6M311.8,338.3h0.6M319.6,368.5h0.6M320.8,333.4h0.6M310.7,366.0h0.6M328.9,334.6h0.6M325.2,367.3h0.6M308.3,358.9h0.6M334.3,356.5h0.6M313.3,340.2h0.6M321.0,330.6h0.6M308.1,371.3h0.6M335.3,351.9h0.6M311.7,366.9h0.6M315.6,367.7h0.6M330.1,363.3h0.6M313.1,338.6h0.6M330.2,338.2h0.6M309.1,361.1h0.6M312.8,369.9h0.6M331.8,364.6h0.6M327.0,367.6h0.6M309.2,342.9h0.6M321.7,335.3h0.6M326.9,335.7h0.6M330.2,363.5h0.6M335.4,352.6h0.6M312.8,341.3h0.6M334.6,354.5h0.6M335.5,355.2h0.6M327.9,365.3h0.6M334.5,360.3h0.6M328.5,334.7h0.6M319.2,335.6h0.6M313.9,370.2h0.6M313.8,368.0h0.6M336.8,352.6h0.6M324.7,335.4h0.6M308.9,346.5h0.6M337.2,349.9h0.6M324.7,333.3h0.6M318.2,335.7h0.6M334.7,349.9h0.6M325.3,368.7h0.6M310.0,349.4h0.6M323.4,367.3h0.6M308.8,355.0h0.6M334.7,354.1h0.6M308.5,356.3h0.6M325.0,332.1h0.6M328.0,368.0h0.6M336.5,350.2h0.6M334.2,341.4h0.6M322.3,370.5h0.6M319.4,333.1h0.6M309.8,346.7h0.6M320.4,369.1h0.6M331.3,337.6h0.6M316.4,335.7h0.6M310.9,346.1h0.6M307.2,351.2h0.6M309.7,351.4h0.6M324.0,371.0h0.6M309.4,346.7h0.6M335.8,345.4h0.6M311.9,336.3h0.6M309.2,359.6h0.6M334.8,350.7h0.6M323.9,369.9h0.6M331.7,363.7h0.6M314.5,338.2h0.6M310.1,350.8h0.6M313.4,339.5h0.6M304.8,364.0h0.6M317.2,369.1h0.6M331.9,335.1h0.6M336.7,352.3h0.6M333.1,357.8h0.6M333.8,363.1h0.6M328.6,367.1h0.6M313.5,370.1h0.6M333.6,361.1h0.6M329.4,336.8h0.6M337.1,354.0h0.6M320.7,370.1h0.6M313.8,339.1h0.6M335.4,348.2h0.6M331.9,361.7h0.6M333.2,341.2h0.6M312.6,370.5h0.6M332.9,359.1h0.6M330.5,362.7h0.6M308.8,352.4h0.6M332.1,364.6h0.6M326.5,336.2h0.6M314.4,370.8h0.6M320.5,330.9h0.6M331.7,336.3h0.6M329.0,336.2h0.6M317.4,368.4h0.6M326.0,367.5h0.6M310.0,368.6h0.6M310.4,346.2h0.6M315.3,338.6h0.6M313.5,369.0h0.6M331.6,338.7h0.6M330.4,364.9h0.6M327.9,369.2h0.6M322.7,369.3h0.6M331.5,363.8h0.6M335.7,344.0h0.6M313.5,367.6h0.6M327.2,370.2h0.6M333.6,343.0h0.6M312.0,340.4h0.6M310.2,364.7h0.6M327.4,334.3h0.6M322.8,367.4h0.6M307.0,354.4h0.6M308.5,348.4h0.6M324.6,334.4h0.6M314.6,368.9h0.6M336.8,345.9h0.6M319.1,335.8h0.6M327.4,369.3h0.6M312.9,370.7h0.6M324.1,333.3h0.6M320.0,369.9h0.6M332.4,362.3h0.6M330.1,334.7h0.6M330.8,337.6h0.6M334.0,355.6h0.6M307.7,354.6h0.6M330.0,367.9h0.6M319.8,335.1h0.6M319.1,335.6h0.6M309.1,360.9h0.6M310.5,347.8h0.6M332.0,337.9h0.6M310.7,363.4h0.6M319.1,335.1h0.6M319.4,335.8h0.6M320.1,333.9h0.6M313.3,371.7h0.6M318.7,334.4h0.6M317.1,336.8h0.6M323.4,333.6h0.6M336.8,352.9h0.6M335.1,353.9h0.6M313.1,340.8h0.6M332.8,362.9h0.6M311.0,345.2h0.6M308.5,365.9h0.6M334.3,356.7h0.6M336.3,351.5h0.6M316.7,368.0h0.6M309.3,338.8h0.6M310.7,347.2h0.6M325.5,366.9h0.6M313.7,368.5h0.6M334.4,361.3h0.6M308.1,353.3h0.6M334.1,356.5h0.6M324.4,334.7h0.6M317.6,368.6h0.6M327.1,329.3h0.6M309.6,359.2h0.6M335.1,343.7h0.6M311.4,370.6h0.6M324.3,334.1h0.6M328.7,366.8h0.6M314.3,367.4h0.6M329.4,332.7h0.6M335.0,353.3h0.6M325.6,334.9h0.6M329.3,338.0h0.6M309.0,355.2h0.6M314.4,335.6h0.6M309.9,360.9h0.6M316.2,367.5h0.6M334.3,356.0h0.6M333.6,343.2h0.6M332.8,339.3h0.6M334.7,357.3h0.6M322.4,334.7h0.6M335.0,342.2h0.6M315.4,334.7h0.6M336.6,348.4h0.6M315.6,333.9h0.6M335.2,344.1h0.6M314.8,367.6h0.6M311.0,366.5h0.6M322.4,369.1h0.6M320.2,370.2h0.6M312.8,366.8h0.6M326.3,367.3h0.6M311.4,364.3h0.6M315.9,333.6h0.6M334.4,338.4h0.6M336.9,354.6h0.6M335.5,344.7h0.6M334.4,353.3h0.6M321.8,334.1h0.6M316.3,370.1h0.6M334.9,359.9h0.6M334.6,356.1h0.6M311.1,342.2h0.6M336.0,354.2h0.6M315.5,338.7h0.6M332.8,359.1h0.6M324.3,333.6h0.6M326.7,332.5h0.6M329.2,335.9h0.6M309.4,347.8h0.6M331.0,362.0h0.6M313.2,341.5h0.6M309.1,351.6h0.6M328.6,336.4h0.6M321.2,367.6h0.6M335.0,354.0h0.6M314.8,368.8h0.6M322.3,368.2h0.6" stroke="#333" stroke-width="0.6" fill="none"/>
<path d="M307.8,357.4h0.6M312.9,336.7h0.6M340.6,332.2h0.6M316.4,329.8h0.6M314.3,379.6h0.6M336.5,362.0h0.6M334.3,341.3h0.6M308.7,364.0h0.6M317.1,334.3h0.6M316.6,371.7h0.6M334.7,356.0h0.6M327.7,335.6h0.6M308.4,361.9h0.6M331.1,361.8h0.6M322.6,332.0h0.6M305.6,369.8h0.6M312.2,369.5h0.6M328.4,330.5h0.6M317.0,330.2h0.6M316.5,336.8h0.6M305.2,360.2h0.6M309.6,357.2h0.6M314.7,334.7h0.6M309.8,362.6h0.6M302.3,356.5h0.6M334.9,351.2h0.6M322.4,331.4h0.6M317.4,335.3h0.6M331.0,366.5h0.6M309.5,341.0h0.6M306.0,359.9h0.6M333.2,337.9h0.6M332.6,360.2h0.6M337.4,358.9h0.6M331.0,363.4h0.6M329.7,371.5h0.6M332.8,362.9h0.6M307.1,343.9h0.6M334.9,335.0h0.6M326.6,321.9h0.6M319.4,335.8h0.6M316.1,332.6h0.6M307.9,348.7h0.6M303.8,370.9h0.6M320.9,373.4h0.6M329.6,364.2h0.6M304.9,360.2h0.6M341.1,358.2h0.6M331.2,331.5h0.6M335.9,347.3h0.6M328.8,378.3h0.6M323.7,334.9h0.6M313.0,338.9h0.6M329.7,369.3h0.6M306.0,355.3h0.6M323.8,329.8h0.6M310.9,343.2h0.6M317.9,330.2h0.6M335.9,339.3h0.6M311.4,364.4h0.6M311.7,332.9h0.6M329.2,364.8h0.6M336.8,336.5h0.6M331.7,375.3h0.6M338.0,357.2h0.6M338.0,361.5h0.6M329.6,364.3h0.6M337.5,365.8h0.6M334.0,344.6h0.6M315.1,368.9h0.6M303.3,354.0h0.6M311.5,340.4h0.6M331.2,361.9h0.6M312.2,367.2h0.6M313.4,375.4h0.6M341.6,352.7h0.6M320.3,369.5h0.6M304.4,375.5h0.6M302.9,347.0h0.6M309.4,375.9h0.6M317.0,377.7h0.6M307.1,362.8h0.6M324.1,331.4h0.6M334.2,330.0h0.6M329.6,334.1h0.6M307.7,365.4h0.6M333.8,364.2h0.6M331.2,332.9h0.6M310.4,363.7h0.6M317.4,372.9h0.6M339.1,338.4h0.6M309.1,344.0h0.6M320.2,330.3h0.6M334.5,339.8h0.6M326.0,330.4h0.6M336.5,351.7h0.6M334.8,348.7h0.6M311.9,327.3h0.6M317.6,334.7h0.6M315.2,367.6h0.6M310.1,362.6h0.6M328.7,336.2h0.6M321.3,324.3h0.6M312.3,366.9h0.6M310.0,365.2h0.6M310.2,349.1h0.6M316.6,337.5h0.6M307.3,357.5h0.6M340.3,350.5h0.6M325.0,334.7h0.6M305.4,352.6h0.6M300.9,369.1h0.6M312.6,336.9h0.6M316.0,326.6h0.6M301.1,352.6h0.6M328.7,335.3h0.6M334.5,366.2h0.6M305.9,359.5h0.6M319.5,368.8h0.6M329.6,337.4h0.6M301.2,349.0h0.6M332.1,371.1h0.6M335.7,376.4h0.6M309.6,377.3h0.6M305.7,367.4h0.6M325.5,324.8h0.6M308.0,337.0h0.6M331.0,331.6h0.6M335.7,347.6h0.6M333.9,360.3h0.6M314.4,369.7h0.6M332.3,364.5h0.6M338.2,349.8h0.6M316.5,367.6h0.6M330.3,366.5h0.6M328.6,367.2h0.6M333.2,362.7h0.6M333.6,358.5h0.6M314.9,373.5h0.6M318.6,370.7h0.6M306.4,356.9h0.6M320.4,323.6h0.6M322.8,335.0h0.6M305.5,355.7h0.6M304.1,355.3h0.6M333.0,373.6h0.6M320.8,330.7h0.6M338.0,345.0h0.6M337.5,354.8h0.6M311.8,365.6h0.6M303.9,352.7h0.6M325.3,375.6h0.6M314.3,334.7h0.6M321.8,331.2h0.6M307.2,376.4h0.6M332.0,334.3h0.6M313.5,369.9h0.6M310.1,344.5h0.6M348.5,357.8h0.6M314.8,378.9h0.6M317.9,336.3h0.6M318.7,332.4h0.6M310.1,351.0h0.6M330.2,338.5h0.6M314.6,336.2h0.6M325.8,371.1h0.6M308.0,368.4h0.6M307.3,354.6h0.6M327.3,331.9h0.6M323.2,367.4h0.6M330.0,372.1h0.6M313.1,336.7h0.6M340.4,362.7h0.6M339.4,349.2h0.6M321.7,367.9h0.6M333.5,342.9h0.6M334.0,357.9h0.6M333.6,340.8h0.6M342.0,345.7h0.6M331.9,334.8h0.6M331.4,362.6h0.6M336.2,362.3h0.6M333.3,365.5h0.6M308.2,340.7h0.6M324.7,374.9h0.6M321.8,368.7h0.6M323.1,375.1h0.6M321.9,332.5h0.6M307.1,354.1h0.6M316.4,324.2h0.6M325.3,330.4h0.6M311.7,337.6h0.6M323.7,326.3h0.6M327.6,333.2h0.6M338.5,348.1h0.6M314.6,378.3h0.6M334.8,358.8h0.6M328.6,365.3h0.6M318.5,368.0h0.6M332.2,365.7h0.6M332.6,362.6h0.6M336.5,328.4h0.6M334.9,356.6h0.6M321.1,377.6h0.6M307.8,351.2h0.6M309.7,350.4h0.6M304.3,352.8h0.6M330.7,362.8h0.6M322.9,331.8h0.6M327.0,329.4h0.6M306.9,354.7h0.6M302.9,378.9h0.6M320.9,334.7h0.6M310.2,342.8h0.6M326.9,330.9h0.6M328.3,336.5h0.6M315.1,369.2h0.6M319.4,334.5h0.6M337.7,343.6h0.6M343.0,344.8h0.6M342.1,356.1h0.6M318.7,326.2h0.6M310.4,344.7h0.6M299.0,344.9h0.6M315.2,333.1h0.6M305.4,342.9h0.6M332.4,336.6h0.6M319.9,329.3h0.6M322.2,326.3h0.6M324.0,373.7h0.6M341.9,363.5h0.6M314.3,334.4h0.6M335.9,343.4h0.6M324.8,334.5h0.6M302.5,367.8h0.6M309.6,346.6h0.6M313.1,340.5h0.6M313.7,335.7h0.6M307.4,361.5h0.6M321.5,374.1h0.6M309.4,360.9h0.6M310.9,336.8h0.6M334.6,346.8h0.6M313.2,340.7h0.6M307.5,362.2h0.6M314.6,371.3h0.6M320.1,328.6h0.6M335.1,351.5h0.6M334.9,356.9h0.6M338.2,353.8h0.6" stroke="#888" stroke-width="0.6" fill="none"/>
<path d="M324.00,335.00C325.92,335.42 328.33,336.83 330.00,338.50C331.67,340.17 333.25,342.58 334.00,345.00C334.75,347.42 334.83,350.33 334.50,353.00C334.17,355.67 333.42,358.75 332.00,361.00C330.58,363.25 328.33,365.33 326.00,366.50C323.67,367.67 320.33,368.08 318.00,368.00C315.67,367.92 313.42,367.50 312.00,366.00C310.58,364.50 309.75,361.83 309.50,359.00C309.25,356.17 309.75,352.17 310.50,349.00C311.25,345.83 312.67,342.17 314.00,340.00C315.33,337.83 316.83,336.83 318.50,336.00C320.17,335.17 322.08,334.58 324.00,335.00Z" fill="#fff" stroke="#333" stroke-width="0.55"/>
<path d="M323.90,335.82C325.72,336.22 328.01,337.56 329.60,339.15C331.18,340.73 332.68,343.02 333.40,345.32C334.11,347.62 334.19,350.39 333.87,352.92C333.55,355.45 332.84,358.38 331.50,360.52C330.15,362.66 328.01,364.64 325.80,365.75C323.58,366.85 320.41,367.25 318.20,367.17C315.98,367.09 313.84,366.70 312.50,365.27C311.15,363.85 310.36,361.31 310.12,358.62C309.88,355.93 310.36,352.13 311.07,349.12C311.78,346.11 313.13,342.63 314.40,340.57C315.66,338.51 317.09,337.56 318.67,336.77C320.25,335.98 322.07,335.43 323.90,335.82Z" fill="#fff" stroke="#777" stroke-width="0.5"/>
<path d="M323.83,336.31C325.60,336.70 327.82,338.00 329.35,339.53C330.89,341.07 332.34,343.29 333.03,345.51C333.72,347.74 333.80,350.42 333.49,352.87C333.19,355.33 332.50,358.16 331.19,360.23C329.89,362.30 327.82,364.22 325.67,365.29C323.53,366.37 320.46,366.75 318.31,366.67C316.17,366.60 314.10,366.21 312.79,364.83C311.49,363.45 310.72,361.00 310.49,358.39C310.26,355.79 310.72,352.11 311.41,349.19C312.10,346.28 313.41,342.91 314.63,340.91C315.86,338.92 317.24,338.00 318.77,337.23C320.31,336.47 322.07,335.93 323.83,336.31Z" fill="#050505"/>
<path d="M320,348 L319,355 M318,358 L318,360" stroke="#fff" stroke-width="1.1"/>
<path d="M435.2,325.2h0.6M455.8,335.1h0.6M428.4,354.3h0.6M435.4,368.9h0.6M431.6,333.0h0.6M452.1,321.5h0.6M433.5,328.9h0.6M453.0,324.8h0.6M459.5,328.0h0.6M435.9,326.0h0.6M452.6,325.2h0.6M428.0,344.3h0.6M432.0,331.9h0.6M429.0,352.2h0.6M456.4,347.2h0.6M436.1,371.5h0.6M450.2,322.5h0.6M456.5,348.1h0.6M446.3,318.3h0.6M456.9,348.8h0.6M433.3,329.2h0.6M449.8,319.6h0.6M444.6,369.6h0.6M445.2,366.5h0.6M437.5,368.2h0.6M450.6,318.9h0.6M456.9,343.3h0.6M446.6,366.5h0.6M449.3,363.6h0.6M439.3,368.6h0.6M429.8,351.6h0.6M434.6,326.5h0.6M430.6,346.9h0.6M455.4,345.9h0.6M447.4,320.4h0.6M441.9,322.4h0.6M429.8,347.1h0.6M456.4,349.8h0.6M435.3,324.2h0.6M436.4,370.8h0.6M445.6,370.4h0.6M434.1,329.3h0.6M456.0,331.3h0.6M455.1,354.9h0.6M431.1,333.0h0.6M456.5,341.8h0.6M455.8,331.2h0.6M450.7,366.4h0.6M448.2,315.8h0.6M430.0,345.3h0.6M435.5,369.2h0.6M431.4,338.0h0.6M429.9,351.5h0.6M453.3,357.0h0.6M447.3,366.2h0.6M453.4,357.3h0.6M439.7,323.8h0.6M459.7,336.3h0.6M457.3,335.2h0.6M449.4,363.2h0.6M436.0,321.4h0.6M457.2,328.5h0.6M440.1,370.2h0.6M447.5,365.4h0.6M429.7,350.9h0.6M456.9,353.7h0.6M436.6,367.3h0.6M445.3,318.1h0.6M429.7,360.7h0.6M441.2,367.4h0.6M434.0,326.2h0.6M430.1,366.3h0.6M435.8,368.4h0.6M429.0,339.3h0.6M432.6,327.2h0.6M441.4,371.1h0.6M430.8,366.9h0.6M451.8,318.8h0.6M446.0,318.2h0.6M452.5,360.1h0.6M454.2,356.1h0.6M460.3,335.7h0.6M453.7,324.2h0.6M434.3,371.1h0.6M456.0,333.5h0.6M434.5,328.9h0.6M453.6,355.1h0.6M427.1,354.9h0.6M438.6,369.6h0.6M457.6,330.7h0.6M431.3,338.2h0.6M431.2,337.3h0.6M441.3,320.4h0.6M428.8,358.8h0.6M454.9,350.8h0.6M447.7,367.5h0.6M434.4,325.0h0.6M456.2,333.9h0.6M438.6,322.1h0.6M425.7,360.2h0.6M449.2,364.0h0.6M432.3,323.1h0.6M430.7,328.6h0.6M443.9,321.2h0.6M449.0,367.0h0.6M458.0,339.7h0.6M428.3,363.2h0.6M455.8,336.0h0.6M433.8,324.7h0.6M446.6,319.4h0.6M454.0,354.7h0.6M433.8,369.2h0.6M432.9,332.0h0.6M447.7,320.6h0.6M441.0,367.8h0.6M444.1,371.7h0.6M449.7,364.0h0.6M432.2,332.9h0.6M444.6,319.3h0.6M442.6,373.3h0.6M432.7,333.1h0.6M455.9,349.4h0.6M455.1,347.7h0.6M440.2,318.2h0.6M428.4,350.9h0.6M438.6,323.5h0.6M447.6,368.2h0.6M427.8,362.4h0.6M441.0,320.3h0.6M430.9,347.3h0.6M453.8,325.0h0.6M431.5,364.9h0.6M444.0,318.3h0.6M450.8,323.0h0.6M450.4,365.0h0.6M431.4,340.8h0.6M430.4,364.4h0.6M433.2,318.1h0.6M430.2,360.5h0.6M431.2,365.8h0.6M456.2,333.0h0.6M431.1,367.2h0.6M430.6,364.0h0.6M457.9,336.2h0.6M455.8,336.9h0.6M456.5,328.4h0.6M451.9,362.1h0.6M455.2,356.5h0.6M453.3,359.4h0.6M430.5,334.7h0.6M428.8,357.9h0.6M445.0,368.0h0.6M431.7,334.9h0.6M439.0,322.2h0.6M456.0,331.9h0.6M430.8,328.9h0.6M429.0,355.0h0.6M443.5,367.3h0.6M435.2,327.5h0.6M429.4,366.1h0.6M454.9,359.1h0.6M455.9,346.6h0.6M431.9,373.0h0.6M453.8,353.9h0.6M431.2,368.3h0.6M427.8,357.2h0.6M433.0,327.2h0.6M457.8,339.9h0.6M454.9,358.0h0.6M429.9,339.1h0.6M453.5,322.6h0.6M432.3,369.9h0.6M443.8,369.6h0.6M456.9,328.4h0.6M449.0,321.0h0.6M452.9,322.5h0.6M430.7,363.2h0.6M457.1,329.7h0.6M451.8,322.2h0.6M427.3,358.5h0.6M441.5,313.3h0.6M443.7,368.6h0.6M456.4,344.2h0.6M447.1,320.1h0.6M427.6,357.0h0.6M452.0,324.7h0.6M429.4,335.4h0.6M428.7,348.3h0.6M443.5,369.1h0.6M427.2,349.3h0.6M457.2,327.7h0.6M451.3,324.1h0.6M432.3,366.1h0.6M453.8,322.9h0.6M459.3,350.7h0.6M430.4,350.5h0.6M442.4,322.2h0.6M432.3,365.3h0.6M455.0,353.2h0.6M453.7,363.4h0.6M438.4,324.1h0.6M454.2,359.9h0.6M452.1,360.4h0.6M434.3,370.3h0.6M453.0,325.5h0.6M457.8,348.0h0.6M441.5,367.8h0.6M431.4,364.1h0.6M432.2,332.7h0.6M446.1,320.4h0.6M447.3,318.2h0.6M455.8,333.5h0.6M448.1,365.3h0.6M429.9,362.4h0.6M430.2,340.4h0.6M441.7,368.2h0.6M447.4,318.1h0.6M430.3,338.8h0.6M454.3,354.1h0.6M429.6,352.2h0.6M457.1,337.4h0.6M455.7,354.4h0.6M453.7,327.9h0.6M437.7,322.6h0.6M431.8,336.4h0.6M431.2,344.4h0.6M438.8,320.2h0.6M430.8,365.4h0.6M432.6,366.4h0.6M446.4,318.6h0.6M437.1,368.2h0.6M457.4,328.9h0.6M436.3,368.6h0.6M456.1,340.1h0.6M437.5,371.3h0.6M431.6,324.1h0.6M454.3,327.6h0.6M456.7,342.6h0.6M430.6,362.4h0.6M443.2,321.6h0.6M434.9,369.3h0.6M453.7,360.0h0.6M453.1,360.7h0.6M435.2,369.1h0.6M441.0,367.6h0.6M447.2,368.5h0.6M454.2,323.7h0.6M452.2,363.2h0.6M445.3,366.3h0.6M439.8,321.5h0.6M430.0,362.9h0.6M430.0,366.1h0.6M431.3,343.4h0.6M451.2,361.8h0.6M444.6,367.7h0.6M429.1,362.1h0.6M455.7,352.4h0.6M453.9,316.8h0.6M428.1,371.8h0.6M432.4,334.9h0.6M456.8,340.4h0.6M430.8,331.0h0.6M457.3,340.1h0.6M453.0,326.1h0.6M449.6,322.2h0.6M428.2,364.0h0.6M457.2,346.2h0.6M450.8,363.2h0.6M446.2,369.9h0.6M457.0,348.7h0.6M436.1,367.0h0.6M446.6,320.5h0.6M456.7,339.7h0.6M442.3,367.3h0.6M431.9,368.8h0.6M431.4,366.9h0.6M452.9,362.5h0.6M447.0,367.7h0.6M454.2,356.9h0.6M431.1,337.4h0.6M456.9,325.8h0.6M454.6,356.4h0.6M454.2,359.6h0.6M443.4,371.2h0.6M457.0,329.1h0.6M429.6,359.3h0.6M430.6,362.9h0.6M428.8,362.1h0.6M434.2,326.9h0.6M451.2,321.3h0.6M439.5,368.5h0.6M433.2,332.4h0.6M454.0,355.9h0.6M454.1,354.2h0.6M456.4,338.8h0.6M434.1,330.7h0.6M445.7,314.2h0.6M450.0,365.4h0.6M431.9,365.5h0.6M455.2,330.1h0.6M449.9,317.8h0.6M428.8,347.7h0.6M444.2,315.0h0.6M441.4,374.6h0.6M457.4,354.2h0.6M456.3,349.5h0.6M436.7,367.1h0.6M447.8,314.5h0.6M433.6,368.1h0.6M430.8,361.9h0.6M438.8,368.6h0.6M429.6,361.4h0.6M437.8,323.9h0.6M456.2,336.4h0.6M430.3,350.6h0.6M436.2,324.2h0.6M436.0,320.5h0.6M444.9,320.8h0.6M437.7,323.4h0.6M429.0,365.2h0.6M431.6,364.4h0.6M457.3,338.7h0.6M439.6,317.9h0.6M431.6,332.8h0.6M442.3,366.9h0.6M436.4,323.1h0.6M430.8,344.3h0.6M429.9,363.7h0.6M450.2,317.7h0.6M448.2,368.1h0.6M453.0,320.8h0.6M438.2,370.5h0.6M458.2,340.7h0.6M427.8,351.4h0.6M454.4,350.9h0.6M430.4,366.4h0.6M450.3,362.8h0.6M447.7,316.3h0.6M450.1,366.3h0.6M437.4,370.1h0.6M444.7,368.5h0.6M428.4,343.6h0.6M455.5,330.6h0.6M453.2,359.1h0.6M451.5,362.5h0.6M448.0,365.1h0.6M429.5,350.4h0.6M449.9,363.7h0.6M425.8,358.4h0.6M455.0,353.6h0.6M451.1,322.1h0.6M448.9,322.0h0.6M431.8,333.5h0.6M456.9,331.8h0.6M434.0,369.2h0.6M449.8,364.4h0.6M449.8,363.9h0.6M450.3,322.5h0.6M453.5,324.6h0.6M429.5,363.2h0.6M428.3,356.4h0.6M441.3,367.3h0.6M459.6,342.6h0.6M435.9,371.6h0.6M459.7,341.6h0.6M430.8,339.8h0.6M456.4,338.8h0.6M428.9,354.3h0.6M455.2,357.3h0.6M431.1,335.3h0.6M454.5,357.9h0.6M432.2,320.7h0.6M448.0,369.3h0.6M428.5,350.8h0.6M429.4,349.0h0.6M439.5,317.5h0.6M428.6,351.7h0.6M454.0,323.5h0.6M456.1,337.1h0.6M430.7,366.6h0.6M456.7,336.8h0.6M427.8,353.4h0.6M450.0,367.9h0.6M457.3,351.3h0.6M434.3,327.3h0.6M440.4,372.2h0.6M446.4,320.6h0.6M460.2,340.0h0.6M431.0,364.8h0.6M433.6,366.1h0.6M426.2,358.1h0.6M443.4,318.0h0.6M452.8,358.5h0.6M448.7,320.0h0.6M445.9,369.9h0.6M430.3,339.5h0.6M444.5,320.3h0.6M442.7,369.3h0.6M455.0,328.9h0.6M429.5,337.6h0.6M431.3,362.8h0.6M428.9,356.2h0.6M454.4,349.9h0.6M455.3,352.0h0.6M430.0,361.8h0.6M453.9,358.6h0.6M429.6,337.8h0.6M449.6,320.6h0.6M434.0,329.3h0.6M451.1,322.0h0.6M456.6,350.4h0.6M434.8,370.1h0.6M433.1,368.1h0.6M456.2,350.1h0.6M430.3,333.7h0.6M433.1,366.6h0.6M454.8,352.6h0.6M459.0,339.0h0.6M455.9,343.7h0.6M432.1,328.5h0.6M429.1,362.2h0.6M429.5,352.6h0.6M444.0,368.5h0.6M433.8,328.8h0.6M428.6,351.0h0.6M448.5,365.1h0.6M456.2,333.9h0.6M457.5,334.3h0.6M431.5,364.4h0.6M456.8,338.4h0.6M443.3,370.8h0.6M454.3,360.2h0.6M435.0,324.0h0.6M448.8,319.8h0.6M430.5,337.7h0.6M428.8,354.8h0.6M438.8,369.1h0.6M448.3,320.7h0.6M456.1,342.5h0.6M452.2,317.4h0.6M443.2,321.4h0.6M431.2,343.0h0.6M455.4,332.2h0.6M455.4,353.9h0.6M436.3,325.8h0.6M430.2,359.8h0.6M452.3,362.9h0.6M434.7,326.6h0.6M458.0,350.4h0.6M440.7,317.7h0.6M447.3,367.9h0.6M446.0,370.9h0.6M456.1,337.6h0.6M436.9,366.8h0.6M444.7,369.6h0.6M453.3,320.5h0.6M450.9,320.2h0.6M451.0,323.2h0.6M440.0,368.3h0.6M451.0,320.7h0.6M432.0,329.1h0.6M457.0,341.7h0.6M456.0,330.1h0.6M454.0,325.9h0.6M438.4,367.6h0.6M429.4,343.4h0.6M442.7,373.1h0.6M445.3,368.1h0.6M453.8,363.0h0.6M430.7,328.2h0.6M431.6,328.1h0.6M431.5,365.4h0.6M455.0,355.1h0.6M455.4,323.8h0.6M428.6,341.8h0.6M431.4,338.3h0.6M455.4,333.3h0.6M453.7,360.5h0.6M450.4,319.4h0.6M429.3,349.5h0.6M440.3,368.3h0.6M434.5,329.0h0.6M437.6,323.2h0.6M454.8,350.6h0.6M438.0,318.7h0.6M446.1,318.3h0.6M430.5,366.0h0.6M434.7,324.5h0.6M433.1,326.5h0.6M430.8,346.7h0.6M453.5,355.1h0.6M434.7,325.8h0.6M430.3,362.5h0.6M454.9,350.5h0.6M456.2,352.5h0.6M455.1,361.7h0.6M428.5,338.2h0.6M443.2,320.0h0.6M452.4,359.5h0.6M429.5,358.8h0.6M454.9,347.8h0.6M453.0,324.6h0.6M452.2,360.8h0.6M454.3,326.7h0.6M452.4,369.0h0.6M446.6,366.8h0.6M457.0,346.5h0.6M449.6,320.6h0.6M430.0,332.9h0.6M452.0,320.9h0.6M441.8,319.5h0.6M440.8,368.0h0.6M443.1,371.9h0.6M431.6,335.2h0.6M458.9,351.0h0.6M455.0,352.5h0.6M433.4,331.5h0.6M430.9,339.2h0.6M428.2,354.4h0.6M451.4,364.6h0.6M429.8,345.2h0.6M455.5,333.1h0.6M452.0,360.8h0.6M454.4,364.1h0.6M426.0,358.6h0.6M427.8,368.2h0.6M455.9,330.0h0.6M431.1,329.5h0.6M458.0,331.3h0.6M430.3,340.3h0.6M426.7,354.0h0.6M457.3,328.3h0.6M434.1,329.7h0.6M430.8,340.1h0.6M431.2,343.7h0.6M425.6,356.0h0.6M436.5,325.0h0.6M437.6,367.9h0.6M434.1,369.0h0.6M456.6,343.5h0.6M455.6,332.0h0.6M448.3,369.9h0.6M452.8,325.4h0.6M452.8,356.8h0.6M449.7,365.9h0.6M449.9,317.9h0.6M433.3,331.9h0.6M456.1,346.8h0.6M435.0,327.9h0.6M435.7,366.3h0.6M455.4,334.0h0.6M441.5,318.7h0.6M446.6,374.1h0.6M447.3,318.7h0.6M436.1,372.1h0.6M431.2,364.6h0.6M457.3,342.5h0.6M448.8,322.0h0.6M454.9,358.0h0.6M447.2,366.8h0.6M444.4,321.0h0.6M449.6,318.3h0.6M456.8,346.3h0.6M435.4,368.2h0.6M455.8,322.5h0.6M444.7,368.2h0.6M456.4,346.5h0.6M445.9,316.7h0.6M445.9,311.2h0.6M430.5,348.3h0.6M431.2,362.6h0.6M455.9,324.9h0.6M432.8,367.2h0.6M451.9,366.9h0.6M455.6,334.4h0.6M435.6,366.7h0.6M445.5,319.8h0.6M427.4,354.7h0.6M433.1,328.0h0.6M430.2,346.0h0.6M443.1,316.9h0.6M458.2,342.8h0.6M431.0,341.4h0.6M459.8,342.2h0.6M458.3,328.3h0.6M429.5,351.1h0.6M430.5,334.7h0.6M455.4,331.4h0.6M434.7,366.5h0.6M431.0,371.2h0.6M431.2,331.9h0.6M460.2,346.4h0.6M435.3,327.1h0.6M453.5,323.0h0.6M456.9,340.0h0.6M455.7,359.2h0.6M429.9,334.4h0.6M443.9,367.5h0.6M442.5,319.8h0.6M455.5,328.5h0.6M440.7,322.6h0.6M452.7,321.7h0.6M447.6,321.7h0.6M451.8,364.9h0.6M456.4,335.9h0.6M431.1,335.7h0.6M440.7,322.5h0.6M454.1,355.5h0.6M446.3,368.9h0.6M444.6,313.3h0.6M450.4,318.3h0.6M442.5,367.7h0.6M450.6,369.8h0.6M443.5,368.2h0.6M430.9,346.2h0.6M448.3,368.2h0.6M431.7,364.5h0.6M430.2,341.9h0.6M456.2,348.7h0.6M432.9,368.6h0.6M455.6,328.1h0.6M447.5,317.5h0.6M454.7,329.5h0.6M437.0,367.6h0.6M429.2,359.2h0.6M457.5,342.2h0.6M433.7,323.2h0.6M457.2,341.5h0.6M430.7,348.9h0.6M453.7,354.8h0.6M439.8,371.8h0.6M437.1,367.1h0.6M452.9,323.9h0.6M428.8,369.6h0.6M430.2,364.1h0.6M457.0,332.0h0.6M430.2,342.9h0.6M450.2,320.9h0.6M444.6,366.6h0.6M447.4,373.0h0.6M441.9,318.9h0.6M430.5,344.1h0.6M453.9,353.9h0.6M433.1,328.9h0.6M430.6,364.1h0.6M450.3,362.3h0.6M457.0,339.6h0.6M429.2,336.2h0.6M456.3,327.1h0.6M452.9,357.7h0.6M455.5,344.9h0.6M437.8,324.2h0.6M445.0,318.1h0.6M451.7,364.4h0.6M450.7,362.5h0.6M448.6,364.9h0.6M442.2,368.0h0.6M457.6,343.2h0.6M435.8,325.6h0.6M430.8,342.7h0.6M434.7,369.6h0.6M456.4,334.5h0.6M434.2,319.3h0.6M429.0,343.1h0.6M450.1,366.3h0.6M454.8,351.6h0.6M429.5,350.0h0.6M442.1,320.8h0.6M430.3,365.5h0.6M454.8,356.0h0.6M434.6,366.9h0.6M438.0,322.7h0.6M427.9,354.4h0.6M454.4,329.8h0.6M456.2,337.9h0.6M448.7,364.6h0.6M436.1,366.6h0.6M452.8,361.0h0.6M435.4,372.4h0.6M430.6,336.4h0.6M432.7,332.1h0.6M430.6,336.8h0.6M456.3,345.2h0.6M455.5,355.4h0.6M449.4,322.6h0.6M450.7,318.0h0.6M438.3,370.4h0.6M428.8,361.6h0.6M444.8,320.8h0.6M428.2,345.1h0.6M455.6,348.9h0.6M429.6,344.1h0.6M429.7,367.2h0.6M429.7,336.5h0.6M445.2,368.7h0.6M430.8,362.3h0.6M454.2,361.2h0.6M448.8,318.6h0.6M440.0,322.4h0.6M451.2,364.7h0.6M455.4,330.9h0.6M430.6,365.5h0.6M457.4,326.2h0.6M451.0,365.6h0.6M445.3,368.7h0.6M445.5,367.0h0.6M433.2,331.2h0.6M451.5,361.9h0.6M432.6,367.3h0.6M430.0,367.1h0.6M448.6,320.4h0.6M433.4,373.2h0.6M449.7,364.4h0.6M446.7,321.6h0.6M428.6,361.0h0.6M453.4,362.2h0.6M436.0,319.3h0.6M429.7,342.4h0.6M445.9,317.0h0.6M451.2,365.9h0.6M435.0,366.8h0.6M440.1,367.9h0.6M457.7,335.5h0.6M441.2,368.1h0.6M445.0,311.7h0.6M456.0,339.1h0.6M453.0,360.2h0.6M428.9,346.1h0.6M443.2,320.3h0.6M431.2,366.2h0.6M457.3,341.7h0.6M430.3,362.2h0.6M457.7,353.0h0.6M454.8,348.4h0.6M439.6,368.7h0.6M437.3,367.3h0.6M447.8,320.7h0.6M447.1,321.6h0.6M456.4,354.4h0.6M445.0,366.7h0.6M454.1,353.9h0.6M434.1,366.3h0.6M444.4,318.8h0.6M436.1,371.4h0.6M442.3,368.6h0.6M427.4,360.9h0.6M453.9,352.4h0.6M455.2,347.6h0.6M427.5,349.1h0.6M452.2,361.8h0.6M455.2,351.6h0.6M428.7,352.6h0.6M438.2,368.0h0.6M451.1,323.5h0.6M444.5,368.9h0.6M431.3,367.9h0.6M429.6,336.5h0.6M427.7,358.4h0.6M436.9,325.3h0.6M445.8,320.6h0.6M431.1,341.9h0.6M455.1,351.2h0.6M428.6,362.8h0.6M443.3,368.6h0.6M452.8,320.1h0.6M432.0,335.3h0.6M452.4,322.3h0.6M458.6,343.5h0.6M445.1,366.6h0.6M456.5,347.1h0.6M434.4,324.5h0.6M434.1,325.1h0.6M429.0,357.4h0.6M456.6,342.7h0.6M455.8,328.2h0.6M428.9,350.5h0.6M450.3,362.8h0.6M457.8,350.6h0.6M453.9,353.9h0.6M434.6,329.0h0.6M430.5,364.6h0.6M430.0,361.8h0.6M434.4,371.5h0.6M458.1,339.9h0.6M430.6,346.9h0.6M453.3,357.2h0.6M431.3,341.6h0.6M445.5,313.2h0.6M449.6,364.0h0.6M454.8,329.7h0.6M429.5,354.8h0.6M456.0,347.8h0.6M456.0,332.9h0.6M428.7,358.9h0.6M429.4,367.7h0.6M428.6,363.7h0.6M452.9,319.9h0.6M441.7,373.3h0.6M428.5,358.9h0.6M439.0,319.2h0.6" stroke="#333" stroke-width="0.6" fill="none"/>
<path d="M447.5,313.4h0.6M453.1,361.4h0.6M430.7,328.7h0.6M458.5,340.3h0.6M428.5,351.1h0.6M437.7,305.4h0.6M454.1,363.2h0.6M462.6,352.6h0.6M434.4,319.7h0.6M443.3,369.1h0.6M452.3,325.4h0.6M443.8,368.1h0.6M448.7,368.1h0.6M444.8,304.3h0.6M429.4,343.4h0.6M439.6,379.7h0.6M459.1,343.1h0.6M427.7,334.1h0.6M423.1,327.7h0.6M446.9,367.9h0.6M449.1,313.2h0.6M453.4,366.6h0.6M448.6,372.7h0.6M446.5,313.1h0.6M440.9,372.2h0.6M456.6,334.3h0.6M439.5,319.4h0.6M439.1,371.1h0.6M423.9,356.1h0.6M429.7,345.0h0.6M439.7,374.5h0.6M428.1,371.3h0.6M458.8,346.1h0.6M424.6,350.9h0.6M432.6,332.8h0.6M459.4,343.4h0.6M423.2,331.0h0.6M450.6,364.8h0.6M451.0,366.1h0.6M457.4,363.9h0.6M461.7,325.5h0.6M455.7,363.1h0.6M462.1,327.6h0.6M457.3,355.3h0.6M455.2,352.5h0.6M456.1,366.5h0.6M428.9,370.3h0.6M457.8,334.0h0.6M456.0,325.7h0.6M427.3,381.9h0.6M449.5,370.5h0.6M430.1,352.4h0.6M459.5,321.1h0.6M458.9,319.4h0.6M443.5,373.3h0.6M449.7,320.6h0.6M436.1,317.6h0.6M461.7,357.2h0.6M430.4,339.1h0.6M455.3,352.6h0.6M428.2,354.2h0.6M454.2,313.5h0.6M425.6,363.3h0.6M431.7,334.0h0.6M431.4,366.3h0.6M463.3,349.2h0.6M460.6,324.3h0.6M432.1,373.6h0.6M449.7,375.6h0.6M429.8,327.6h0.6M428.3,322.7h0.6M460.5,346.3h0.6M421.6,346.5h0.6M424.4,349.1h0.6M456.5,332.0h0.6M445.7,372.5h0.6M429.6,359.7h0.6M453.6,309.4h0.6M434.4,369.4h0.6M440.7,369.1h0.6M456.0,360.8h0.6M431.6,367.3h0.6M456.6,329.6h0.6M454.5,363.9h0.6M460.5,344.4h0.6M460.7,345.8h0.6M453.1,363.1h0.6M424.8,333.7h0.6M430.3,364.2h0.6M445.0,312.0h0.6M457.4,343.2h0.6M427.7,348.3h0.6M441.4,316.9h0.6M456.8,353.8h0.6M434.5,372.9h0.6M455.0,349.8h0.6M458.0,318.3h0.6M427.9,369.6h0.6M456.1,354.0h0.6M460.7,345.1h0.6M428.8,361.6h0.6M429.2,344.9h0.6M433.1,323.5h0.6M442.1,309.6h0.6M440.1,373.6h0.6M430.5,344.5h0.6M428.3,378.1h0.6M423.9,371.3h0.6M453.4,363.1h0.6M456.4,368.6h0.6M428.7,370.1h0.6M458.6,338.5h0.6M429.4,322.9h0.6M464.6,337.1h0.6M433.8,324.2h0.6M430.6,345.1h0.6M434.5,323.3h0.6M455.9,358.6h0.6M450.5,363.6h0.6M442.1,372.2h0.6M446.5,375.4h0.6M430.3,347.4h0.6M437.4,368.9h0.6M437.3,303.4h0.6M449.3,369.2h0.6M459.9,316.1h0.6M427.7,354.2h0.6M450.0,366.8h0.6M430.9,338.3h0.6M429.2,367.1h0.6M435.4,375.3h0.6M431.5,340.9h0.6M455.4,323.1h0.6M455.5,352.0h0.6M462.7,326.5h0.6M438.8,322.2h0.6M454.8,353.0h0.6M453.0,358.3h0.6M430.1,360.6h0.6M447.2,367.6h0.6M434.4,368.4h0.6M459.9,333.8h0.6M436.4,324.6h0.6M429.4,334.0h0.6M455.0,352.2h0.6M433.8,326.7h0.6M452.8,357.1h0.6M457.4,358.6h0.6M432.7,367.0h0.6M448.2,312.2h0.6M450.1,363.9h0.6M449.0,371.1h0.6M443.9,373.8h0.6M460.7,343.6h0.6M436.4,319.0h0.6M442.3,370.0h0.6M425.4,344.4h0.6M453.2,360.0h0.6M459.6,351.2h0.6M424.4,345.9h0.6M457.2,330.2h0.6M440.3,310.7h0.6M428.3,327.5h0.6M453.5,323.9h0.6M431.2,331.0h0.6M429.4,353.2h0.6M440.4,321.5h0.6M430.5,341.4h0.6M451.2,375.6h0.6M426.0,331.1h0.6M425.5,343.0h0.6M429.6,368.0h0.6M458.2,352.1h0.6M425.5,354.0h0.6M458.9,326.0h0.6M464.5,358.3h0.6M456.1,349.9h0.6M457.5,354.8h0.6M433.8,367.6h0.6M461.7,339.3h0.6M451.1,382.1h0.6M461.1,337.3h0.6M456.5,313.8h0.6M437.2,376.5h0.6M459.5,333.8h0.6M437.1,382.4h0.6M451.3,311.8h0.6M457.8,348.9h0.6M427.3,360.2h0.6M459.1,329.0h0.6M455.5,347.9h0.6M455.4,365.2h0.6M429.4,358.9h0.6M452.1,368.6h0.6M445.4,371.9h0.6M460.2,369.9h0.6M428.6,366.2h0.6M455.5,332.5h0.6M426.0,322.6h0.6M458.2,334.9h0.6M428.0,354.3h0.6M454.9,326.0h0.6M429.1,338.2h0.6M428.0,343.1h0.6M444.0,313.3h0.6M462.2,369.7h0.6M444.0,372.6h0.6M429.5,357.7h0.6M430.9,329.7h0.6M443.2,380.6h0.6M428.1,338.9h0.6M440.9,377.6h0.6M422.3,376.7h0.6M459.0,364.1h0.6M432.6,328.7h0.6M459.7,323.3h0.6M446.3,319.4h0.6M446.9,366.5h0.6M426.5,325.9h0.6M458.1,330.1h0.6M451.2,361.7h0.6M436.9,322.6h0.6M441.8,312.7h0.6M441.0,371.3h0.6M456.4,346.3h0.6M430.9,362.6h0.6M443.4,320.7h0.6M418.1,367.1h0.6M434.1,374.3h0.6M430.9,367.1h0.6M465.7,331.9h0.6M439.1,372.9h0.6M447.8,317.1h0.6M428.0,373.8h0.6M433.1,322.4h0.6M452.3,371.2h0.6M422.8,373.2h0.6M445.9,377.3h0.6M435.7,378.5h0.6M449.7,366.4h0.6M424.9,323.2h0.6M429.2,364.5h0.6M451.5,316.8h0.6M436.7,371.4h0.6M423.5,354.1h0.6M450.9,364.8h0.6M458.0,335.2h0.6M428.6,344.1h0.6M448.3,388.3h0.6M431.6,339.0h0.6" stroke="#888" stroke-width="0.6" fill="none"/>
<path d="M445.00,321.00C447.50,320.58 449.33,321.83 451.00,323.50C452.67,325.17 454.17,327.92 455.00,331.00C455.83,334.08 456.17,338.50 456.00,342.00C455.83,345.50 454.67,349.00 454.00,352.00C453.33,355.00 453.17,357.67 452.00,360.00C450.83,362.33 449.17,364.75 447.00,366.00C444.83,367.25 441.50,367.67 439.00,367.50C436.50,367.33 433.58,366.75 432.00,365.00C430.42,363.25 429.67,360.00 429.50,357.00C429.33,354.00 430.58,350.50 431.00,347.00C431.42,343.50 431.17,339.50 432.00,336.00C432.83,332.50 433.83,328.50 436.00,326.00C438.17,323.50 442.50,321.42 445.00,321.00Z" fill="#fff" stroke="#333" stroke-width="0.6"/>
<path d="M444.94,321.74C447.37,321.34 449.14,322.55 450.76,324.17C452.38,325.78 453.83,328.45 454.64,331.44C455.45,334.43 455.77,338.72 455.61,342.11C455.45,345.51 454.32,348.90 453.67,351.81C453.02,354.72 452.86,357.31 451.73,359.57C450.60,361.83 448.98,364.18 446.88,365.39C444.78,366.60 441.55,367.01 439.12,366.85C436.70,366.68 433.87,366.12 432.33,364.42C430.80,362.72 430.07,359.57 429.91,356.66C429.74,353.75 430.96,350.36 431.36,346.96C431.77,343.57 431.52,339.69 432.33,336.29C433.14,332.90 434.11,329.02 436.21,326.59C438.31,324.17 442.52,322.14 444.94,321.74Z" fill="#fff" stroke="#666" stroke-width="0.5"/>
<path d="M445.00,322.50C447.25,322.17 449.00,323.42 450.50,325.00C452.00,326.58 453.25,329.17 454.00,332.00C454.75,334.83 455.25,339.00 455.00,342.00C454.75,345.00 453.58,347.83 452.50,350.00C451.42,352.17 449.50,353.17 448.50,355.00C447.50,356.83 447.58,359.17 446.50,361.00C445.42,362.83 443.75,365.12 442.00,366.00C440.25,366.88 437.75,366.80 436.00,366.30C434.25,365.80 432.42,364.72 431.50,363.00C430.58,361.28 430.42,358.67 430.50,356.00C430.58,353.33 431.58,350.33 432.00,347.00C432.42,343.67 432.17,339.33 433.00,336.00C433.83,332.67 435.00,329.25 437.00,327.00C439.00,324.75 442.75,322.83 445.00,322.50Z" fill="#050505"/>
<ellipse cx="441.6" cy="337" rx="1.5" ry="2.8" fill="#fff"/>
<path d="M433,351.5 Q440,349 447,352" stroke="#777" stroke-width="1.6" fill="none"/>
<circle cx="438" cy="360" r="1" fill="#fff"/>
<path d="M453.5,348 C454.5,353 452.5,360 448.5,366 M451.8,351 C452.5,355 451,360 447.5,365" stroke="#333" stroke-width="0.5" fill="none"/>
<text x="89.40" y="310.00" font-size="8.2" text-anchor="middle" font-weight="bold" fill="#000" stroke="#000" stroke-width="0.2" textLength="15" lengthAdjust="spacingAndGlyphs" >23,1</text>
<text x="206.60" y="310.00" font-size="8.2" text-anchor="middle" font-weight="bold" fill="#000" stroke="#000" stroke-width="0.2" textLength="15" lengthAdjust="spacingAndGlyphs" >28,0</text>
<text x="347.50" y="310.00" font-size="8.2" text-anchor="middle" font-weight="bold" fill="#000" stroke="#000" stroke-width="0.2" textLength="15" lengthAdjust="spacingAndGlyphs" >19,0</text>
<text x="464.50" y="310.00" font-size="8.2" text-anchor="middle" font-weight="bold" fill="#000" stroke="#000" stroke-width="0.2" textLength="15" lengthAdjust="spacingAndGlyphs" >58,2</text>
<line x1="38.80" y1="448.50" x2="506.80" y2="448.50" stroke="#000" stroke-width="1.7" />
<text x="278.90" y="446.50" font-size="16" text-anchor="middle" font-weight="normal" fill="#000" stroke="#000" stroke-width="0.35" textLength="156.5" lengthAdjust="spacingAndGlyphs" >Non-malignant T cells</text>
<line x1="20.30" y1="472.60" x2="20.30" y2="594.90" stroke="#000" stroke-width="1.6" />
<path d="M20.3,466.6 L26.6,479.3 L20.3,475.20000000000005 L14.0,479.3 Z" fill="#000"/>
<line x1="19.50" y1="594.10" x2="513.70" y2="594.10" stroke="#000" stroke-width="1.6" />
<path d="M519.7,594.1 L506.70000000000005,588.0 L510.70000000000005,594.1 L506.70000000000005,600.2 Z" fill="#000"/>
<text x="16.00" y="522.50" font-size="13.2" text-anchor="middle" font-weight="normal" fill="#000" stroke="#000" stroke-width="0.35" textLength="51.4" lengthAdjust="spacingAndGlyphs" transform="rotate(-90 16 522.5)">pY-Stat3</text>
<text x="274.00" y="608.00" font-size="13.8" text-anchor="middle" font-weight="normal" fill="#000" stroke="#000" stroke-width="0.35" textLength="27.3" lengthAdjust="spacingAndGlyphs" >SSC</text>
<text x="85.25" y="479.90" font-size="14" text-anchor="middle" font-weight="normal" fill="#000" stroke="#000" stroke-width="0.35" textLength="26.5" lengthAdjust="spacingAndGlyphs" >PBS</text>
<text x="201.10" y="462.50" font-size="14" text-anchor="middle" font-weight="normal" fill="#000" stroke="#000" stroke-width="0.35" textLength="25.6" lengthAdjust="spacingAndGlyphs" >PBS</text>
<text x="203.50" y="479.90" font-size="14" text-anchor="middle" font-weight="normal" fill="#000" stroke="#000" stroke-width="0.35" textLength="70.1" lengthAdjust="spacingAndGlyphs" >+ Malignant</text>
<text x="344.00" y="479.90" font-size="14" text-anchor="middle" font-weight="normal" fill="#000" stroke="#000" stroke-width="0.35" textLength="26.9" lengthAdjust="spacingAndGlyphs" >SEA</text>
<text x="460.00" y="463.40" font-size="14" text-anchor="middle" font-weight="normal" fill="#000" stroke="#000" stroke-width="0.35" textLength="27.5" lengthAdjust="spacingAndGlyphs" >SEA</text>
<text x="460.10" y="480.20" font-size="14" text-anchor="middle" font-weight="normal" fill="#000" stroke="#000" stroke-width="0.35" textLength="71.4" lengthAdjust="spacingAndGlyphs" >+ Malignant</text>
<rect x="39.10" y="482.20" width="91.30" height="91.10" fill="none" stroke="#555" stroke-width="1.0"/>
<rect x="46.20" y="482.90" width="80.80" height="49.70" fill="none" stroke="#3a3a3a" stroke-width="1.1"/>
<path d="M37.2,484.4h1.5M37.2,487.8h1.5M37.2,491.3h1.5M37.2,494.8h1.5M37.2,498.2h1.5M37.2,501.6h1.5M37.2,505.1h1.5M37.2,508.5h1.5M37.2,512.0h1.5M37.2,515.4h1.5M37.2,518.9h1.5M37.2,522.4h1.5M37.2,525.8h1.5M37.2,529.2h1.5M37.2,532.7h1.5M37.2,536.1h1.5M37.2,539.6h1.5M37.2,543.0h1.5M37.2,546.5h1.5M37.2,549.9h1.5M37.2,553.4h1.5M37.2,556.9h1.5M37.2,560.3h1.5M37.2,563.8h1.5M37.2,567.2h1.5M37.2,570.6h1.5" stroke="#000" stroke-width="1"/>
<path d="M40.6,573.7v1.5M44.1,573.7v1.5M47.5,573.7v1.5M51.0,573.7v1.5M54.4,573.7v1.5M57.9,573.7v1.5M61.3,573.7v1.5M64.8,573.7v1.5M68.2,573.7v1.5M71.7,573.7v1.5M75.1,573.7v1.5M78.6,573.7v1.5M82.0,573.7v1.5M85.5,573.7v1.5M88.9,573.7v1.5M92.3,573.7v1.5M95.8,573.7v1.5M99.2,573.7v1.5M102.7,573.7v1.5M106.2,573.7v1.5M109.6,573.7v1.5M113.1,573.7v1.5M116.5,573.7v1.5M120.0,573.7v1.5M123.4,573.7v1.5M126.8,573.7v1.5M130.3,573.7v1.5" stroke="#000" stroke-width="1"/>
<rect x="36.60" y="489.40" width="2.30" height="2.40" fill="#000" stroke="none" stroke-width="1"/>
<rect x="36.60" y="511.00" width="2.30" height="2.40" fill="#000" stroke="none" stroke-width="1"/>
<rect x="36.60" y="535.50" width="2.30" height="2.40" fill="#000" stroke="none" stroke-width="1"/>
<rect x="36.60" y="551.00" width="2.30" height="2.40" fill="#000" stroke="none" stroke-width="1"/>
<rect x="36.60" y="567.60" width="2.30" height="2.40" fill="#000" stroke="none" stroke-width="1"/>
<text x="32.0" y="493.9" font-size="4.4" font-weight="bold" stroke="#000" stroke-width="0.25" text-anchor="end">10</text>
<text x="32.7" y="490.8" font-size="3.8" font-weight="bold" stroke="#000" stroke-width="0.2">5</text>
<text x="32.0" y="515.5" font-size="4.4" font-weight="bold" stroke="#000" stroke-width="0.25" text-anchor="end">10</text>
<text x="32.7" y="512.4" font-size="3.8" font-weight="bold" stroke="#000" stroke-width="0.2">4</text>
<text x="32.0" y="540.0" font-size="4.4" font-weight="bold" stroke="#000" stroke-width="0.25" text-anchor="end">10</text>
<text x="32.7" y="536.9" font-size="3.8" font-weight="bold" stroke="#000" stroke-width="0.2">3</text>
<text x="32.2" y="554.0" font-size="4.4" font-weight="bold" stroke="#000" stroke-width="0.25" text-anchor="end">0</text>
<text x="32.0" y="572.1" font-size="4.4" font-weight="bold" stroke="#000" stroke-width="0.25" text-anchor="end">-10</text>
<text x="32.7" y="569.0" font-size="3.8" font-weight="bold" stroke="#000" stroke-width="0.2">3</text>
<circle cx="38.7" cy="574.7" r="1.25" fill="#000"/>
<text x="40.20" y="584.10" font-size="4.1" text-anchor="middle" font-weight="bold" fill="#000" stroke="#000" stroke-width="0.2" textLength="1.9" lengthAdjust="spacingAndGlyphs" >0</text>
<circle cx="56.0" cy="574.7" r="1.25" fill="#000"/>
<text x="54.75" y="584.10" font-size="4.1" text-anchor="middle" font-weight="bold" fill="#000" stroke="#000" stroke-width="0.2" textLength="6.5" lengthAdjust="spacingAndGlyphs" >50K</text>
<circle cx="73.3" cy="574.7" r="1.25" fill="#000"/>
<text x="72.05" y="584.10" font-size="4.1" text-anchor="middle" font-weight="bold" fill="#000" stroke="#000" stroke-width="0.2" textLength="10" lengthAdjust="spacingAndGlyphs" >100K</text>
<circle cx="90.6" cy="574.7" r="1.25" fill="#000"/>
<text x="89.35" y="584.10" font-size="4.1" text-anchor="middle" font-weight="bold" fill="#000" stroke="#000" stroke-width="0.2" textLength="10" lengthAdjust="spacingAndGlyphs" >150K</text>
<circle cx="107.9" cy="574.7" r="1.25" fill="#000"/>
<text x="106.65" y="584.10" font-size="4.1" text-anchor="middle" font-weight="bold" fill="#000" stroke="#000" stroke-width="0.2" textLength="10" lengthAdjust="spacingAndGlyphs" >200K</text>
<circle cx="125.2" cy="574.7" r="1.25" fill="#000"/>
<text x="123.95" y="584.10" font-size="4.1" text-anchor="middle" font-weight="bold" fill="#000" stroke="#000" stroke-width="0.2" textLength="10" lengthAdjust="spacingAndGlyphs" >250K</text>
<rect x="156.50" y="481.50" width="91.00" height="91.90" fill="none" stroke="#555" stroke-width="1.0"/>
<rect x="163.50" y="482.20" width="80.90" height="50.40" fill="none" stroke="#3a3a3a" stroke-width="1.1"/>
<path d="M154.6,483.7h1.5M154.6,487.1h1.5M154.6,490.6h1.5M154.6,494.1h1.5M154.6,497.5h1.5M154.6,500.9h1.5M154.6,504.4h1.5M154.6,507.8h1.5M154.6,511.3h1.5M154.6,514.8h1.5M154.6,518.2h1.5M154.6,521.6h1.5M154.6,525.1h1.5M154.6,528.5h1.5M154.6,532.0h1.5M154.6,535.5h1.5M154.6,538.9h1.5M154.6,542.4h1.5M154.6,545.8h1.5M154.6,549.2h1.5M154.6,552.7h1.5M154.6,556.1h1.5M154.6,559.6h1.5M154.6,563.0h1.5M154.6,566.5h1.5M154.6,570.0h1.5M154.6,573.4h1.5" stroke="#000" stroke-width="1"/>
<path d="M158.0,573.8v1.5M161.4,573.8v1.5M164.9,573.8v1.5M168.3,573.8v1.5M171.8,573.8v1.5M175.2,573.8v1.5M178.7,573.8v1.5M182.2,573.8v1.5M185.6,573.8v1.5M189.1,573.8v1.5M192.5,573.8v1.5M195.9,573.8v1.5M199.4,573.8v1.5M202.8,573.8v1.5M206.3,573.8v1.5M209.8,573.8v1.5M213.2,573.8v1.5M216.7,573.8v1.5M220.1,573.8v1.5M223.6,573.8v1.5M227.0,573.8v1.5M230.4,573.8v1.5M233.9,573.8v1.5M237.4,573.8v1.5M240.8,573.8v1.5M244.2,573.8v1.5" stroke="#000" stroke-width="1"/>
<rect x="154.00" y="488.70" width="2.30" height="2.40" fill="#000" stroke="none" stroke-width="1"/>
<rect x="154.00" y="510.30" width="2.30" height="2.40" fill="#000" stroke="none" stroke-width="1"/>
<rect x="154.00" y="534.80" width="2.30" height="2.40" fill="#000" stroke="none" stroke-width="1"/>
<rect x="154.00" y="550.30" width="2.30" height="2.40" fill="#000" stroke="none" stroke-width="1"/>
<rect x="154.00" y="566.90" width="2.30" height="2.40" fill="#000" stroke="none" stroke-width="1"/>
<text x="149.4" y="493.2" font-size="4.4" font-weight="bold" stroke="#000" stroke-width="0.25" text-anchor="end">10</text>
<text x="150.1" y="490.1" font-size="3.8" font-weight="bold" stroke="#000" stroke-width="0.2">5</text>
<text x="149.4" y="514.8" font-size="4.4" font-weight="bold" stroke="#000" stroke-width="0.25" text-anchor="end">10</text>
<text x="150.1" y="511.7" font-size="3.8" font-weight="bold" stroke="#000" stroke-width="0.2">4</text>
<text x="149.4" y="539.3" font-size="4.4" font-weight="bold" stroke="#000" stroke-width="0.25" text-anchor="end">10</text>
<text x="150.1" y="536.2" font-size="3.8" font-weight="bold" stroke="#000" stroke-width="0.2">3</text>
<text x="149.6" y="553.3" font-size="4.4" font-weight="bold" stroke="#000" stroke-width="0.25" text-anchor="end">0</text>
<text x="149.4" y="571.4" font-size="4.4" font-weight="bold" stroke="#000" stroke-width="0.25" text-anchor="end">-10</text>
<text x="150.1" y="568.3" font-size="3.8" font-weight="bold" stroke="#000" stroke-width="0.2">3</text>
<circle cx="156.1" cy="574.8" r="1.25" fill="#000"/>
<text x="157.60" y="584.20" font-size="4.1" text-anchor="middle" font-weight="bold" fill="#000" stroke="#000" stroke-width="0.2" textLength="1.9" lengthAdjust="spacingAndGlyphs" >0</text>
<circle cx="173.4" cy="574.8" r="1.25" fill="#000"/>
<text x="172.15" y="584.20" font-size="4.1" text-anchor="middle" font-weight="bold" fill="#000" stroke="#000" stroke-width="0.2" textLength="6.5" lengthAdjust="spacingAndGlyphs" >50K</text>
<circle cx="190.7" cy="574.8" r="1.25" fill="#000"/>
<text x="189.45" y="584.20" font-size="4.1" text-anchor="middle" font-weight="bold" fill="#000" stroke="#000" stroke-width="0.2" textLength="10" lengthAdjust="spacingAndGlyphs" >100K</text>
<circle cx="208.0" cy="574.8" r="1.25" fill="#000"/>
<text x="206.75" y="584.20" font-size="4.1" text-anchor="middle" font-weight="bold" fill="#000" stroke="#000" stroke-width="0.2" textLength="10" lengthAdjust="spacingAndGlyphs" >150K</text>
<circle cx="225.3" cy="574.8" r="1.25" fill="#000"/>
<text x="224.05" y="584.20" font-size="4.1" text-anchor="middle" font-weight="bold" fill="#000" stroke="#000" stroke-width="0.2" textLength="10" lengthAdjust="spacingAndGlyphs" >200K</text>
<circle cx="242.6" cy="574.8" r="1.25" fill="#000"/>
<text x="241.35" y="584.20" font-size="4.1" text-anchor="middle" font-weight="bold" fill="#000" stroke="#000" stroke-width="0.2" textLength="10" lengthAdjust="spacingAndGlyphs" >250K</text>
<rect x="297.00" y="482.20" width="91.30" height="91.70" fill="none" stroke="#555" stroke-width="1.0"/>
<rect x="303.90" y="482.90" width="80.70" height="49.70" fill="none" stroke="#3a3a3a" stroke-width="1.1"/>
<path d="M295.1,484.4h1.5M295.1,487.8h1.5M295.1,491.3h1.5M295.1,494.8h1.5M295.1,498.2h1.5M295.1,501.6h1.5M295.1,505.1h1.5M295.1,508.5h1.5M295.1,512.0h1.5M295.1,515.4h1.5M295.1,518.9h1.5M295.1,522.4h1.5M295.1,525.8h1.5M295.1,529.2h1.5M295.1,532.7h1.5M295.1,536.1h1.5M295.1,539.6h1.5M295.1,543.0h1.5M295.1,546.5h1.5M295.1,549.9h1.5M295.1,553.4h1.5M295.1,556.9h1.5M295.1,560.3h1.5M295.1,563.8h1.5M295.1,567.2h1.5M295.1,570.6h1.5" stroke="#000" stroke-width="1"/>
<path d="M298.5,574.3v1.5M301.9,574.3v1.5M305.4,574.3v1.5M308.9,574.3v1.5M312.3,574.3v1.5M315.8,574.3v1.5M319.2,574.3v1.5M322.6,574.3v1.5M326.1,574.3v1.5M329.6,574.3v1.5M333.0,574.3v1.5M336.4,574.3v1.5M339.9,574.3v1.5M343.4,574.3v1.5M346.8,574.3v1.5M350.2,574.3v1.5M353.7,574.3v1.5M357.1,574.3v1.5M360.6,574.3v1.5M364.1,574.3v1.5M367.5,574.3v1.5M370.9,574.3v1.5M374.4,574.3v1.5M377.9,574.3v1.5M381.3,574.3v1.5M384.8,574.3v1.5M388.2,574.3v1.5" stroke="#000" stroke-width="1"/>
<rect x="294.50" y="489.40" width="2.30" height="2.40" fill="#000" stroke="none" stroke-width="1"/>
<rect x="294.50" y="511.00" width="2.30" height="2.40" fill="#000" stroke="none" stroke-width="1"/>
<rect x="294.50" y="535.50" width="2.30" height="2.40" fill="#000" stroke="none" stroke-width="1"/>
<rect x="294.50" y="551.00" width="2.30" height="2.40" fill="#000" stroke="none" stroke-width="1"/>
<rect x="294.50" y="567.60" width="2.30" height="2.40" fill="#000" stroke="none" stroke-width="1"/>
<text x="289.9" y="493.9" font-size="4.4" font-weight="bold" stroke="#000" stroke-width="0.25" text-anchor="end">10</text>
<text x="290.6" y="490.8" font-size="3.8" font-weight="bold" stroke="#000" stroke-width="0.2">5</text>
<text x="289.9" y="515.5" font-size="4.4" font-weight="bold" stroke="#000" stroke-width="0.25" text-anchor="end">10</text>
<text x="290.6" y="512.4" font-size="3.8" font-weight="bold" stroke="#000" stroke-width="0.2">4</text>
<text x="289.9" y="540.0" font-size="4.4" font-weight="bold" stroke="#000" stroke-width="0.25" text-anchor="end">10</text>
<text x="290.6" y="536.9" font-size="3.8" font-weight="bold" stroke="#000" stroke-width="0.2">3</text>
<text x="290.1" y="554.0" font-size="4.4" font-weight="bold" stroke="#000" stroke-width="0.25" text-anchor="end">0</text>
<text x="289.9" y="572.1" font-size="4.4" font-weight="bold" stroke="#000" stroke-width="0.25" text-anchor="end">-10</text>
<text x="290.6" y="569.0" font-size="3.8" font-weight="bold" stroke="#000" stroke-width="0.2">3</text>
<circle cx="296.6" cy="575.3" r="1.25" fill="#000"/>
<text x="298.10" y="584.70" font-size="4.1" text-anchor="middle" font-weight="bold" fill="#000" stroke="#000" stroke-width="0.2" textLength="1.9" lengthAdjust="spacingAndGlyphs" >0</text>
<circle cx="313.9" cy="575.3" r="1.25" fill="#000"/>
<text x="312.65" y="584.70" font-size="4.1" text-anchor="middle" font-weight="bold" fill="#000" stroke="#000" stroke-width="0.2" textLength="6.5" lengthAdjust="spacingAndGlyphs" >50K</text>
<circle cx="331.2" cy="575.3" r="1.25" fill="#000"/>
<text x="329.95" y="584.70" font-size="4.1" text-anchor="middle" font-weight="bold" fill="#000" stroke="#000" stroke-width="0.2" textLength="10" lengthAdjust="spacingAndGlyphs" >100K</text>
<circle cx="348.5" cy="575.3" r="1.25" fill="#000"/>
<text x="347.25" y="584.70" font-size="4.1" text-anchor="middle" font-weight="bold" fill="#000" stroke="#000" stroke-width="0.2" textLength="10" lengthAdjust="spacingAndGlyphs" >150K</text>
<circle cx="365.8" cy="575.3" r="1.25" fill="#000"/>
<text x="364.55" y="584.70" font-size="4.1" text-anchor="middle" font-weight="bold" fill="#000" stroke="#000" stroke-width="0.2" textLength="10" lengthAdjust="spacingAndGlyphs" >200K</text>
<circle cx="383.1" cy="575.3" r="1.25" fill="#000"/>
<text x="381.85" y="584.70" font-size="4.1" text-anchor="middle" font-weight="bold" fill="#000" stroke="#000" stroke-width="0.2" textLength="10" lengthAdjust="spacingAndGlyphs" >250K</text>
<rect x="414.50" y="482.20" width="90.80" height="91.90" fill="none" stroke="#555" stroke-width="1.0"/>
<rect x="421.40" y="482.90" width="81.00" height="49.70" fill="none" stroke="#3a3a3a" stroke-width="1.1"/>
<path d="M412.6,484.4h1.5M412.6,487.8h1.5M412.6,491.3h1.5M412.6,494.8h1.5M412.6,498.2h1.5M412.6,501.6h1.5M412.6,505.1h1.5M412.6,508.5h1.5M412.6,512.0h1.5M412.6,515.4h1.5M412.6,518.9h1.5M412.6,522.4h1.5M412.6,525.8h1.5M412.6,529.2h1.5M412.6,532.7h1.5M412.6,536.1h1.5M412.6,539.6h1.5M412.6,543.0h1.5M412.6,546.5h1.5M412.6,549.9h1.5M412.6,553.4h1.5M412.6,556.9h1.5M412.6,560.3h1.5M412.6,563.8h1.5M412.6,567.2h1.5M412.6,570.6h1.5M412.6,574.1h1.5" stroke="#000" stroke-width="1"/>
<path d="M416.0,574.5v1.5M419.4,574.5v1.5M422.9,574.5v1.5M426.4,574.5v1.5M429.8,574.5v1.5M433.2,574.5v1.5M436.7,574.5v1.5M440.1,574.5v1.5M443.6,574.5v1.5M447.1,574.5v1.5M450.5,574.5v1.5M453.9,574.5v1.5M457.4,574.5v1.5M460.9,574.5v1.5M464.3,574.5v1.5M467.8,574.5v1.5M471.2,574.5v1.5M474.6,574.5v1.5M478.1,574.5v1.5M481.6,574.5v1.5M485.0,574.5v1.5M488.4,574.5v1.5M491.9,574.5v1.5M495.4,574.5v1.5M498.8,574.5v1.5M502.2,574.5v1.5" stroke="#000" stroke-width="1"/>
<rect x="412.00" y="489.40" width="2.30" height="2.40" fill="#000" stroke="none" stroke-width="1"/>
<rect x="412.00" y="511.00" width="2.30" height="2.40" fill="#000" stroke="none" stroke-width="1"/>
<rect x="412.00" y="535.50" width="2.30" height="2.40" fill="#000" stroke="none" stroke-width="1"/>
<rect x="412.00" y="551.00" width="2.30" height="2.40" fill="#000" stroke="none" stroke-width="1"/>
<rect x="412.00" y="567.60" width="2.30" height="2.40" fill="#000" stroke="none" stroke-width="1"/>
<text x="407.4" y="493.9" font-size="4.4" font-weight="bold" stroke="#000" stroke-width="0.25" text-anchor="end">10</text>
<text x="408.1" y="490.8" font-size="3.8" font-weight="bold" stroke="#000" stroke-width="0.2">5</text>
<text x="407.4" y="515.5" font-size="4.4" font-weight="bold" stroke="#000" stroke-width="0.25" text-anchor="end">10</text>
<text x="408.1" y="512.4" font-size="3.8" font-weight="bold" stroke="#000" stroke-width="0.2">4</text>
<text x="407.4" y="540.0" font-size="4.4" font-weight="bold" stroke="#000" stroke-width="0.25" text-anchor="end">10</text>
<text x="408.1" y="536.9" font-size="3.8" font-weight="bold" stroke="#000" stroke-width="0.2">3</text>
<text x="407.6" y="554.0" font-size="4.4" font-weight="bold" stroke="#000" stroke-width="0.25" text-anchor="end">0</text>
<text x="407.4" y="572.1" font-size="4.4" font-weight="bold" stroke="#000" stroke-width="0.25" text-anchor="end">-10</text>
<text x="408.1" y="569.0" font-size="3.8" font-weight="bold" stroke="#000" stroke-width="0.2">3</text>
<circle cx="414.1" cy="575.5" r="1.25" fill="#000"/>
<text x="415.60" y="584.90" font-size="4.1" text-anchor="middle" font-weight="bold" fill="#000" stroke="#000" stroke-width="0.2" textLength="1.9" lengthAdjust="spacingAndGlyphs" >0</text>
<circle cx="431.4" cy="575.5" r="1.25" fill="#000"/>
<text x="430.15" y="584.90" font-size="4.1" text-anchor="middle" font-weight="bold" fill="#000" stroke="#000" stroke-width="0.2" textLength="6.5" lengthAdjust="spacingAndGlyphs" >50K</text>
<circle cx="448.7" cy="575.5" r="1.25" fill="#000"/>
<text x="447.45" y="584.90" font-size="4.1" text-anchor="middle" font-weight="bold" fill="#000" stroke="#000" stroke-width="0.2" textLength="10" lengthAdjust="spacingAndGlyphs" >100K</text>
<circle cx="466.0" cy="575.5" r="1.25" fill="#000"/>
<text x="464.75" y="584.90" font-size="4.1" text-anchor="middle" font-weight="bold" fill="#000" stroke="#000" stroke-width="0.2" textLength="10" lengthAdjust="spacingAndGlyphs" >150K</text>
<circle cx="483.3" cy="575.5" r="1.25" fill="#000"/>
<text x="482.05" y="584.90" font-size="4.1" text-anchor="middle" font-weight="bold" fill="#000" stroke="#000" stroke-width="0.2" textLength="10" lengthAdjust="spacingAndGlyphs" >200K</text>
<circle cx="500.6" cy="575.5" r="1.25" fill="#000"/>
<text x="499.35" y="584.90" font-size="4.1" text-anchor="middle" font-weight="bold" fill="#000" stroke="#000" stroke-width="0.2" textLength="10" lengthAdjust="spacingAndGlyphs" >250K</text>
<path d="M47.4,544.8h0.6M60.7,556.1h0.6M52.8,533.7h0.6M78.9,525.6h0.6M66.3,554.0h0.6M60.1,516.0h0.6M61.2,557.0h0.6M78.2,540.5h0.6M67.0,553.3h0.6M51.0,539.7h0.6M48.1,551.3h0.6M54.1,533.4h0.6M51.5,539.7h0.6M62.7,514.4h0.6M49.4,545.2h0.6M52.4,525.2h0.6M51.3,541.5h0.6M53.3,534.6h0.6M58.4,555.7h0.6M49.6,547.0h0.6M74.2,549.6h0.6M61.2,556.7h0.6M75.4,546.4h0.6M51.7,553.0h0.6M58.0,557.3h0.6M73.1,515.6h0.6M55.7,554.7h0.6M77.3,541.0h0.6M57.0,559.1h0.6M77.2,523.2h0.6M75.1,545.3h0.6M53.5,530.9h0.6M65.1,513.3h0.6M51.4,551.8h0.6M56.5,518.7h0.6M54.3,524.1h0.6M54.1,554.4h0.6M50.7,550.8h0.6M50.0,551.7h0.6M69.2,554.2h0.6M80.9,525.8h0.6M56.4,555.5h0.6M50.5,553.7h0.6M53.5,534.9h0.6M76.2,544.2h0.6M81.2,529.3h0.6M53.7,519.8h0.6M63.4,510.9h0.6M50.2,553.1h0.6M76.7,524.2h0.6M78.5,538.6h0.6M48.9,548.6h0.6M79.6,528.1h0.6M76.7,519.2h0.6M71.9,550.3h0.6M52.0,535.8h0.6M79.9,532.4h0.6M53.6,524.5h0.6M77.2,524.5h0.6M51.4,552.5h0.6M50.6,548.4h0.6M54.2,532.7h0.6M49.2,556.5h0.6M51.1,553.5h0.6M74.0,549.7h0.6M69.8,515.9h0.6M76.0,544.4h0.6M67.2,515.4h0.6M48.9,547.0h0.6M62.6,515.5h0.6M57.5,515.5h0.6M79.8,537.9h0.6M63.2,555.1h0.6M49.1,546.6h0.6M51.6,537.2h0.6M52.8,525.6h0.6M55.9,516.1h0.6M66.3,555.1h0.6M79.5,538.3h0.6M53.8,530.1h0.6M51.2,538.1h0.6M51.4,536.9h0.6M52.5,528.5h0.6M52.2,555.7h0.6M50.3,553.9h0.6M58.8,557.1h0.6M75.4,517.8h0.6M57.3,556.5h0.6M66.0,554.4h0.6M52.0,523.4h0.6M56.3,518.5h0.6M56.3,517.4h0.6M61.3,557.5h0.6M62.1,555.2h0.6M48.4,547.1h0.6M71.4,551.6h0.6M74.9,520.3h0.6M52.4,554.4h0.6M56.3,518.1h0.6M78.3,531.6h0.6" stroke="#999" stroke-width="0.6" fill="none"/>
<path d="M47.3,547.3h0.6M53.5,524.7h0.6M85.0,517.2h0.6M59.1,514.6h0.6M50.1,521.9h0.6M79.9,538.1h0.6M82.3,513.1h0.6M53.7,532.0h0.6M80.3,550.4h0.6M50.1,546.3h0.6M47.3,543.7h0.6M73.5,516.8h0.6M48.5,540.0h0.6M59.6,562.1h0.6M46.8,536.9h0.6M53.5,527.3h0.6M76.7,545.3h0.6M69.9,511.7h0.6M61.0,504.7h0.6M52.4,562.5h0.6M51.6,531.4h0.6M50.7,531.9h0.6M51.3,526.6h0.6M55.3,510.4h0.6M79.1,543.3h0.6M83.1,530.0h0.6M61.5,556.3h0.6M65.3,514.0h0.6M49.5,558.6h0.6M79.1,527.3h0.6M69.3,559.5h0.6M48.9,547.1h0.6M52.6,554.5h0.6M74.4,516.8h0.6M80.6,540.3h0.6M60.4,514.9h0.6M53.1,563.9h0.6M65.3,557.3h0.6M75.4,509.7h0.6M82.3,543.6h0.6" stroke="#bbb" stroke-width="0.6" fill="none"/>
<path d="M64.00,515.00C66.33,514.83 69.00,515.83 71.00,517.00C73.00,518.17 74.78,519.83 76.00,522.00C77.22,524.17 78.05,527.00 78.30,530.00C78.55,533.00 78.30,537.00 77.50,540.00C76.70,543.00 75.42,545.67 73.50,548.00C71.58,550.33 68.58,552.75 66.00,554.00C63.42,555.25 60.33,555.67 58.00,555.50C55.67,555.33 53.30,554.58 52.00,553.00C50.70,551.42 50.20,548.33 50.20,546.00C50.20,543.67 51.28,541.17 52.00,539.00C52.72,536.83 54.17,535.33 54.50,533.00C54.83,530.67 53.58,527.50 54.00,525.00C54.42,522.50 55.33,519.67 57.00,518.00C58.67,516.33 61.67,515.17 64.00,515.00Z" fill="#fff" stroke="#444" stroke-width="0.55"/>
<path d="M63.97,515.82C66.21,515.66 68.77,516.62 70.69,517.74C72.61,518.86 74.32,520.46 75.49,522.54C76.65,524.62 77.45,527.34 77.69,530.22C77.93,533.10 77.69,536.94 76.93,539.82C76.16,542.70 74.93,545.26 73.09,547.50C71.25,549.74 68.37,552.06 65.89,553.26C63.41,554.46 60.45,554.86 58.21,554.70C55.97,554.54 53.69,553.82 52.45,552.30C51.20,550.78 50.72,547.82 50.72,545.58C50.72,543.34 51.76,540.94 52.45,538.86C53.13,536.78 54.53,535.34 54.85,533.10C55.17,530.86 53.97,527.82 54.37,525.42C54.77,523.02 55.65,520.30 57.25,518.70C58.85,517.10 61.73,515.98 63.97,515.82Z" fill="#fff" stroke="#888" stroke-width="0.5"/>
<path d="M63.94,516.43C66.11,516.27 68.59,517.20 70.45,518.29C72.31,519.37 73.97,520.92 75.10,522.94C76.23,524.95 77.01,527.59 77.24,530.38C77.47,533.17 77.24,536.89 76.50,539.68C75.75,542.47 74.56,544.95 72.78,547.12C70.99,549.29 68.20,551.53 65.80,552.70C63.40,553.86 60.53,554.25 58.36,554.09C56.19,553.94 53.99,553.24 52.78,551.77C51.57,550.30 51.11,547.43 51.11,545.26C51.11,543.09 52.11,540.76 52.78,538.75C53.45,536.73 54.80,535.34 55.11,533.17C55.42,531.00 54.25,528.05 54.64,525.73C55.03,523.40 55.88,520.77 57.43,519.22C58.98,517.67 61.77,516.58 63.94,516.43Z" fill="#050505"/>
<path d="M67,528 L69,530 L66,531 Z" fill="#fff"/>
<path d="M164.7,544.9h0.6M177.8,556.4h0.6M165.7,545.8h0.6M172.9,517.2h0.6M174.2,516.3h0.6M187.5,551.2h0.6M186.1,518.1h0.6M173.6,517.2h0.6M171.3,519.7h0.6M166.4,546.2h0.6M186.1,552.7h0.6M170.2,535.3h0.6M175.5,557.4h0.6M189.8,548.5h0.6M190.5,551.4h0.6M175.2,516.3h0.6M185.1,552.9h0.6M175.2,556.7h0.6M188.0,518.5h0.6M170.3,524.3h0.6M168.2,520.7h0.6M184.5,554.0h0.6M186.3,554.8h0.6M167.9,560.9h0.6M164.8,555.1h0.6M182.2,555.1h0.6M195.8,533.1h0.6M166.2,554.6h0.6M170.5,529.0h0.6M167.7,556.4h0.6M193.2,524.7h0.6M188.9,517.3h0.6M171.0,521.3h0.6M172.4,518.3h0.6M169.0,558.2h0.6M167.9,541.3h0.6M166.8,553.1h0.6M166.2,544.4h0.6M197.2,533.5h0.6M165.7,552.6h0.6M182.4,515.8h0.6M191.7,522.7h0.6M166.2,548.9h0.6M167.8,555.7h0.6M190.3,548.5h0.6M166.7,549.2h0.6M172.3,518.5h0.6M194.0,543.7h0.6M194.9,530.7h0.6M170.0,532.8h0.6M170.9,531.9h0.6M193.2,526.0h0.6M166.3,552.7h0.6M193.3,543.5h0.6M166.3,556.5h0.6M169.4,524.0h0.6M195.3,532.1h0.6M192.8,544.5h0.6M189.7,548.8h0.6M170.3,524.9h0.6M184.8,517.2h0.6M195.1,532.3h0.6M184.4,517.5h0.6M170.2,519.4h0.6M179.4,557.1h0.6M169.2,538.2h0.6M181.9,516.2h0.6M190.9,519.7h0.6M180.4,559.1h0.6M195.1,529.8h0.6M170.1,557.7h0.6M170.8,520.4h0.6M178.0,557.5h0.6M195.0,523.2h0.6M167.2,543.3h0.6M170.1,536.3h0.6M174.0,557.1h0.6M177.0,516.1h0.6M171.1,520.2h0.6M170.5,523.9h0.6" stroke="#999" stroke-width="0.6" fill="none"/>
<path d="M173.4,513.4h0.6M194.4,524.4h0.6M171.1,520.5h0.6M159.6,547.3h0.6M191.3,547.4h0.6M166.3,552.4h0.6M195.2,545.2h0.6M164.7,548.1h0.6M194.5,548.1h0.6M171.0,556.7h0.6M177.1,559.2h0.6M205.6,530.2h0.6M192.4,549.8h0.6M167.1,554.9h0.6M171.0,531.7h0.6M196.5,522.5h0.6M168.0,511.2h0.6M179.6,512.0h0.6M193.7,543.7h0.6M171.0,530.3h0.6M194.9,533.9h0.6M175.0,514.7h0.6M190.9,548.7h0.6M198.7,533.7h0.6M180.5,559.6h0.6M165.3,548.5h0.6M176.4,512.8h0.6M190.2,522.4h0.6M194.5,531.7h0.6M196.3,550.5h0.6" stroke="#bbb" stroke-width="0.6" fill="none"/>
<path d="M180.00,516.80C182.33,516.88 184.92,517.63 187.00,519.00C189.08,520.37 191.28,522.67 192.50,525.00C193.72,527.33 194.22,530.17 194.30,533.00C194.38,535.83 193.97,539.17 193.00,542.00C192.03,544.83 190.50,547.75 188.50,550.00C186.50,552.25 183.75,554.42 181.00,555.50C178.25,556.58 174.33,557.00 172.00,556.50C169.67,556.00 167.87,554.42 167.00,552.50C166.13,550.58 166.30,547.42 166.80,545.00C167.30,542.58 169.22,540.17 170.00,538.00C170.78,535.83 171.42,534.33 171.50,532.00C171.58,529.67 170.25,526.25 170.50,524.00C170.75,521.75 171.42,519.70 173.00,518.50C174.58,517.30 177.67,516.72 180.00,516.80Z" fill="#fff" stroke="#333" stroke-width="0.55"/>
<path d="M179.97,517.48C182.22,517.56 184.71,518.29 186.72,519.60C188.73,520.92 190.86,523.14 192.03,525.39C193.20,527.65 193.69,530.38 193.77,533.11C193.85,535.85 193.45,539.07 192.51,541.80C191.58,544.53 190.10,547.35 188.17,549.52C186.24,551.69 183.59,553.78 180.93,554.83C178.28,555.87 174.50,556.27 172.25,555.79C170.00,555.31 168.26,553.78 167.42,551.93C166.59,550.08 166.75,547.03 167.23,544.69C167.71,542.36 169.56,540.03 170.32,537.94C171.07,535.85 171.68,534.40 171.77,532.15C171.85,529.90 170.56,526.60 170.80,524.43C171.04,522.26 171.68,520.28 173.21,519.12C174.74,517.96 177.72,517.40 179.97,517.48Z" fill="#050505"/>
<circle cx="177.5" cy="548.5" r="1.4" fill="#fff"/>
<path d="M312.1,521.3h0.6M339.0,544.1h0.6M330.6,509.1h0.6M312.1,555.5h0.6M326.3,509.2h0.6M339.5,539.2h0.6M341.0,534.0h0.6M332.7,555.8h0.6M312.6,524.8h0.6M345.5,521.6h0.6M308.5,555.2h0.6M308.7,551.3h0.6M310.9,527.8h0.6M329.3,555.4h0.6M314.7,556.0h0.6M344.3,524.0h0.6M311.3,542.0h0.6M314.2,554.2h0.6M339.5,546.0h0.6M339.1,541.1h0.6M333.5,510.1h0.6M342.9,531.1h0.6M317.7,513.6h0.6M306.5,545.6h0.6M331.0,508.0h0.6M343.6,529.5h0.6M340.5,538.3h0.6M310.7,535.6h0.6M331.7,506.9h0.6M313.1,523.6h0.6M342.6,530.2h0.6M329.7,555.0h0.6M335.7,550.1h0.6M319.8,509.1h0.6M313.0,554.0h0.6M312.7,530.9h0.6M334.5,553.2h0.6M325.5,509.1h0.6M343.2,517.5h0.6M336.4,550.0h0.6M321.0,557.7h0.6M335.7,550.0h0.6M333.6,507.8h0.6M344.1,521.3h0.6M309.8,549.1h0.6M312.7,553.8h0.6M310.4,545.5h0.6M340.9,539.1h0.6M344.1,520.1h0.6M338.7,542.5h0.6M310.5,550.9h0.6M339.6,513.0h0.6M319.5,556.8h0.6M340.6,551.6h0.6M313.3,554.0h0.6M310.3,543.9h0.6M316.4,557.4h0.6M342.9,532.1h0.6M316.0,557.2h0.6M334.8,553.4h0.6M342.0,538.3h0.6M344.7,519.9h0.6M310.5,539.7h0.6M346.9,526.4h0.6M326.6,508.4h0.6M343.1,529.1h0.6M319.2,512.5h0.6M339.4,544.6h0.6M310.7,528.2h0.6M312.2,539.8h0.6M339.4,548.5h0.6M344.9,519.7h0.6M331.8,506.8h0.6M312.8,536.3h0.6M334.4,510.5h0.6M312.2,540.5h0.6M315.8,554.5h0.6M321.7,557.3h0.6M326.9,509.9h0.6M312.4,537.3h0.6M317.6,512.2h0.6M344.5,528.1h0.6M310.9,545.3h0.6M311.0,528.7h0.6M311.0,543.3h0.6M312.7,523.0h0.6M312.6,519.2h0.6M306.6,548.1h0.6M331.3,507.8h0.6M344.0,517.0h0.6M340.1,543.0h0.6M331.0,508.6h0.6M313.1,523.0h0.6M309.5,545.9h0.6M314.6,555.9h0.6M342.6,538.3h0.6M314.4,518.5h0.6M312.5,526.2h0.6M313.8,513.1h0.6M309.8,542.4h0.6M310.5,548.6h0.6M344.7,528.5h0.6M311.7,541.4h0.6M312.4,522.2h0.6M343.0,515.8h0.6M327.1,508.0h0.6M314.6,554.3h0.6M335.4,553.4h0.6M328.2,508.7h0.6M323.9,556.3h0.6M347.3,518.4h0.6M318.5,508.5h0.6M346.0,523.1h0.6M315.6,557.1h0.6M332.7,553.1h0.6M313.0,522.7h0.6M308.9,532.3h0.6M338.3,509.8h0.6M319.3,558.7h0.6M333.9,505.8h0.6" stroke="#999" stroke-width="0.6" fill="none"/>
<path d="M327.6,503.0h0.6M318.7,508.7h0.6M348.3,517.8h0.6M350.1,531.6h0.6M313.3,521.7h0.6M309.2,516.2h0.6M303.9,560.0h0.6M340.1,544.6h0.6M333.5,555.7h0.6M339.3,503.4h0.6M340.2,548.6h0.6M346.1,512.4h0.6M300.7,551.6h0.6M345.6,516.1h0.6M339.0,542.7h0.6M311.3,542.2h0.6M338.3,544.2h0.6M318.2,509.7h0.6M344.7,522.5h0.6M353.9,518.7h0.6M335.8,509.4h0.6M338.6,500.8h0.6M345.5,527.3h0.6M332.0,557.2h0.6M338.2,547.3h0.6M317.7,562.8h0.6M341.0,539.0h0.6M331.7,500.6h0.6M311.6,523.7h0.6M355.9,522.1h0.6M342.6,547.0h0.6M309.2,555.7h0.6M309.5,556.0h0.6M314.5,516.7h0.6M312.2,513.4h0.6M312.2,523.2h0.6M336.7,557.2h0.6M310.6,549.9h0.6M326.8,506.7h0.6M350.8,517.3h0.6M347.3,532.1h0.6M313.5,510.6h0.6M342.2,515.3h0.6M341.2,514.1h0.6M318.4,507.6h0.6M330.2,556.8h0.6M326.2,508.4h0.6M343.9,519.5h0.6M342.8,553.7h0.6M337.6,503.1h0.6" stroke="#bbb" stroke-width="0.6" fill="none"/>
<path d="M330.00,510.00C333.00,510.00 335.75,510.67 338.00,512.00C340.25,513.33 342.50,515.67 343.50,518.00C344.50,520.33 344.42,523.50 344.00,526.00C343.58,528.50 341.83,530.67 341.00,533.00C340.17,535.33 339.58,537.50 339.00,540.00C338.42,542.50 338.83,545.58 337.50,548.00C336.17,550.42 334.25,553.25 331.00,554.50C327.75,555.75 321.17,555.92 318.00,555.50C314.83,555.08 313.17,553.75 312.00,552.00C310.83,550.25 310.83,547.33 311.00,545.00C311.17,542.67 312.67,540.50 313.00,538.00C313.33,535.50 312.92,533.00 313.00,530.00C313.08,527.00 312.33,523.00 313.50,520.00C314.67,517.00 317.25,513.67 320.00,512.00C322.75,510.33 327.00,510.00 330.00,510.00Z" fill="#fff" stroke="#333" stroke-width="0.6"/>
<path d="M329.91,510.69C332.82,510.69 335.49,511.33 337.67,512.63C339.85,513.92 342.03,516.18 343.00,518.45C343.97,520.71 343.89,523.78 343.49,526.21C343.08,528.63 341.39,530.73 340.58,533.00C339.77,535.26 339.20,537.36 338.64,539.79C338.07,542.21 338.48,545.20 337.18,547.55C335.89,549.89 334.03,552.64 330.88,553.85C327.73,555.07 321.34,555.23 318.27,554.82C315.20,554.42 313.58,553.13 312.45,551.43C311.32,549.73 311.32,546.90 311.48,544.64C311.64,542.37 313.10,540.27 313.42,537.85C313.74,535.42 313.34,533.00 313.42,530.09C313.50,527.18 312.77,523.30 313.90,520.39C315.04,517.48 317.54,514.24 320.21,512.63C322.88,511.01 327.00,510.69 329.91,510.69Z" fill="none" stroke="#222" stroke-width="0.5"/>
<path d="M329.82,511.38C332.64,511.38 335.22,512.00 337.34,513.26C339.45,514.51 341.57,516.70 342.51,518.90C343.45,521.09 343.37,524.07 342.98,526.42C342.59,528.77 340.94,530.80 340.16,533.00C339.37,535.19 338.83,537.23 338.28,539.58C337.73,541.93 338.12,544.82 336.87,547.10C335.61,549.37 333.81,552.03 330.76,553.21C327.70,554.38 321.51,554.54 318.54,554.15C315.56,553.75 313.99,552.50 312.90,550.86C311.80,549.21 311.80,546.47 311.96,544.28C312.11,542.08 313.52,540.05 313.84,537.70C314.15,535.35 313.76,533.00 313.84,530.18C313.92,527.36 313.21,523.60 314.31,520.78C315.40,517.96 317.83,514.82 320.42,513.26C323.00,511.69 327.00,511.38 329.82,511.38Z" fill="none" stroke="#222" stroke-width="0.5"/>
<path d="M343.80,517.65C344.25,519.32 344.18,521.31 343.61,523.08C343.04,524.85 341.86,526.75 340.39,528.26C338.92,529.77 336.86,531.20 334.77,532.16C332.69,533.12 330.16,533.80 327.87,534.01C325.59,534.22 323.09,534.01 321.06,533.44C319.03,532.87 317.05,531.81 315.68,530.57C314.30,529.32 313.25,527.63 312.80,525.95C312.35,524.28 312.42,522.29 312.99,520.52C313.56,518.75 314.74,516.85 316.21,515.34C317.68,513.83 319.74,512.40 321.83,511.44C323.91,510.48 326.44,509.80 328.73,509.59C331.01,509.38 333.51,509.59 335.54,510.16C337.57,510.73 339.55,511.79 340.92,513.03C342.30,514.28 343.35,515.97 343.80,517.65Z" fill="#333" stroke="#222" stroke-width="0.5"/>
<path d="M342.79,517.92C343.21,519.48 343.14,521.34 342.61,523.00C342.08,524.65 340.98,526.42 339.60,527.84C338.22,529.25 336.30,530.59 334.35,531.48C332.40,532.38 330.04,533.01 327.90,533.21C325.77,533.41 323.43,533.22 321.53,532.68C319.63,532.14 317.79,531.16 316.50,529.99C315.22,528.83 314.23,527.25 313.81,525.68C313.39,524.12 313.46,522.26 313.99,520.60C314.52,518.95 315.62,517.18 317.00,515.76C318.38,514.35 320.30,513.01 322.25,512.12C324.20,511.22 326.56,510.59 328.70,510.39C330.83,510.19 333.17,510.38 335.07,510.92C336.97,511.46 338.81,512.44 340.10,513.61C341.38,514.77 342.37,516.35 342.79,517.92Z" fill="#070707"/>
<path d="M336.99,519.47C337.24,520.41 337.21,521.53 336.89,522.52C336.57,523.51 335.91,524.57 335.08,525.42C334.25,526.27 333.10,527.07 331.93,527.61C330.76,528.15 329.34,528.53 328.06,528.65C326.78,528.77 325.38,528.65 324.24,528.33C323.10,528.01 321.99,527.41 321.22,526.72C320.45,526.02 319.86,525.07 319.61,524.13C319.36,523.19 319.39,522.07 319.71,521.08C320.03,520.09 320.69,519.03 321.52,518.18C322.35,517.33 323.50,516.53 324.67,515.99C325.84,515.45 327.26,515.07 328.54,514.95C329.82,514.83 331.22,514.95 332.36,515.27C333.50,515.59 334.61,516.19 335.38,516.88C336.15,517.58 336.74,518.53 336.99,519.47Z" fill="none" stroke="#444" stroke-width="0.4"/>
<path d="M327.51,545.73C327.38,547.21 326.94,548.81 326.30,550.10C325.66,551.38 324.70,552.61 323.68,553.45C322.66,554.29 321.38,554.91 320.18,555.14C318.98,555.36 317.62,555.25 316.48,554.81C315.33,554.38 314.18,553.55 313.32,552.55C312.46,551.54 311.73,550.16 311.32,548.78C310.92,547.41 310.76,545.75 310.89,544.27C311.02,542.79 311.46,541.19 312.10,539.90C312.74,538.62 313.70,537.39 314.72,536.55C315.74,535.71 317.02,535.09 318.22,534.86C319.42,534.64 320.78,534.75 321.92,535.19C323.07,535.62 324.22,536.45 325.08,537.45C325.94,538.46 326.67,539.84 327.08,541.22C327.48,542.59 327.64,544.25 327.51,545.73Z" fill="#333" stroke="#222" stroke-width="0.5"/>
<path d="M326.97,545.68C326.85,547.06 326.43,548.56 325.84,549.76C325.24,550.97 324.34,552.12 323.39,552.90C322.44,553.69 321.24,554.26 320.11,554.47C318.99,554.69 317.72,554.58 316.66,554.17C315.59,553.77 314.50,552.99 313.70,552.05C312.90,551.11 312.21,549.83 311.84,548.54C311.46,547.25 311.31,545.70 311.43,544.32C311.55,542.94 311.97,541.44 312.56,540.24C313.16,539.03 314.06,537.88 315.01,537.10C315.96,536.31 317.16,535.74 318.29,535.53C319.41,535.31 320.68,535.42 321.74,535.83C322.81,536.23 323.90,537.01 324.70,537.95C325.50,538.89 326.19,540.17 326.56,541.46C326.94,542.75 327.09,544.30 326.97,545.68Z" fill="#070707"/>
<path d="M323.86,545.41C323.79,546.24 323.54,547.14 323.18,547.86C322.82,548.58 322.29,549.27 321.71,549.74C321.14,550.21 320.42,550.56 319.75,550.68C319.07,550.81 318.31,550.75 317.67,550.50C317.03,550.26 316.38,549.80 315.90,549.23C315.42,548.67 315.01,547.90 314.78,547.12C314.55,546.35 314.47,545.42 314.54,544.59C314.61,543.76 314.86,542.86 315.22,542.14C315.58,541.42 316.11,540.73 316.69,540.26C317.26,539.79 317.98,539.44 318.65,539.32C319.33,539.19 320.09,539.25 320.73,539.50C321.37,539.74 322.02,540.20 322.50,540.77C322.98,541.33 323.39,542.10 323.62,542.88C323.85,543.65 323.93,544.58 323.86,545.41Z" fill="none" stroke="#444" stroke-width="0.4"/>
<path d="M329.41,530.72C329.80,531.39 329.96,532.28 329.84,533.15C329.72,534.03 329.31,535.05 328.71,535.95C328.12,536.86 327.22,537.81 326.26,538.56C325.30,539.32 324.09,540.02 322.96,540.47C321.83,540.92 320.55,541.22 319.47,541.29C318.39,541.36 317.30,541.20 316.48,540.87C315.67,540.53 314.97,539.95 314.59,539.28C314.20,538.61 314.04,537.72 314.16,536.85C314.28,535.97 314.69,534.95 315.29,534.05C315.88,533.14 316.78,532.19 317.74,531.44C318.70,530.68 319.91,529.98 321.04,529.53C322.17,529.08 323.45,528.78 324.53,528.71C325.61,528.64 326.70,528.80 327.52,529.13C328.33,529.47 329.03,530.05 329.41,530.72Z" fill="#333" stroke="#222" stroke-width="0.5"/>
<path d="M328.93,531.00C329.29,531.63 329.44,532.46 329.33,533.27C329.22,534.09 328.83,535.05 328.27,535.89C327.72,536.73 326.88,537.63 325.98,538.33C325.08,539.03 323.95,539.69 322.90,540.11C321.84,540.54 320.64,540.82 319.63,540.88C318.63,540.94 317.60,540.80 316.84,540.48C316.08,540.17 315.43,539.63 315.07,539.00C314.71,538.37 314.56,537.54 314.67,536.73C314.78,535.91 315.17,534.95 315.73,534.11C316.28,533.27 317.12,532.37 318.02,531.67C318.92,530.97 320.05,530.31 321.10,529.89C322.16,529.46 323.36,529.18 324.37,529.12C325.37,529.06 326.40,529.20 327.16,529.52C327.92,529.83 328.57,530.37 328.93,531.00Z" fill="#070707"/>
<circle cx="327" cy="524.5" r="1.5" fill="#fff"/>
<circle cx="318.5" cy="545" r="1.1" fill="#ddd"/>
<path d="M330,533.5 C335,537 338,543 335,551 M329,535.5 C333,539 336,544 333,552 M328,537.5 C331,541 334,546 331,552.5 M327,540 C329,543 332,547 329,553" stroke="#222" stroke-width="0.5" fill="none"/>
<path d="M433.1,516.4h0.6M426.0,549.5h0.6M432.4,558.8h0.6M448.0,507.4h0.6M430.7,515.9h0.6M435.7,557.6h0.6M434.5,559.0h0.6M453.8,548.0h0.6M429.0,526.8h0.6M459.3,524.3h0.6M425.4,558.1h0.6M449.3,510.0h0.6M452.9,551.1h0.6M430.2,527.8h0.6M459.3,531.5h0.6M426.9,546.6h0.6M430.9,555.3h0.6M441.8,558.0h0.6M430.5,529.9h0.6M452.4,511.2h0.6M449.0,506.6h0.6M453.3,552.0h0.6M457.0,536.0h0.6M457.7,536.6h0.6M430.7,521.9h0.6M461.5,528.5h0.6M430.8,525.5h0.6M460.4,530.9h0.6M462.3,524.1h0.6M433.1,510.8h0.6M453.8,547.7h0.6M440.1,510.7h0.6M449.2,509.5h0.6M453.3,549.2h0.6M442.7,507.8h0.6M460.0,516.3h0.6M454.4,551.1h0.6M441.1,559.0h0.6M453.5,552.3h0.6M427.5,555.7h0.6M457.1,538.6h0.6M461.6,520.2h0.6M434.7,558.2h0.6M449.5,552.9h0.6M431.4,514.4h0.6M425.5,557.8h0.6M427.5,539.8h0.6M428.1,548.2h0.6M430.5,531.8h0.6M453.9,547.7h0.6M445.4,560.1h0.6M459.8,516.2h0.6M454.1,552.1h0.6M427.6,551.9h0.6M447.0,555.9h0.6M427.6,555.6h0.6M457.5,534.7h0.6M428.8,533.7h0.6M448.2,508.3h0.6M429.6,532.4h0.6M427.9,549.8h0.6M428.3,539.4h0.6M445.8,509.4h0.6M454.1,545.9h0.6M454.4,548.5h0.6M449.8,510.5h0.6M454.1,546.4h0.6M430.8,522.5h0.6M429.6,540.0h0.6M436.5,557.4h0.6M459.4,518.2h0.6M448.2,509.3h0.6M453.1,511.2h0.6M457.2,513.7h0.6M459.2,522.2h0.6M431.1,560.5h0.6M427.5,545.2h0.6M427.9,552.0h0.6M441.7,509.9h0.6M460.4,518.6h0.6M427.1,551.9h0.6M430.2,521.8h0.6M459.5,530.5h0.6M429.3,530.5h0.6M461.3,520.9h0.6M427.7,545.9h0.6M461.3,526.5h0.6M444.7,556.2h0.6M430.4,532.8h0.6M438.4,559.8h0.6M451.4,554.1h0.6M429.0,540.7h0.6M453.3,506.3h0.6M436.7,557.7h0.6M452.4,549.6h0.6M432.0,515.3h0.6M456.5,508.2h0.6M428.5,535.3h0.6M432.3,514.4h0.6M453.6,548.0h0.6M427.8,556.0h0.6M430.2,531.3h0.6M430.3,535.9h0.6M429.1,538.8h0.6M429.4,539.5h0.6M442.3,509.3h0.6M459.5,521.6h0.6M451.0,509.6h0.6M450.3,508.4h0.6M427.9,535.5h0.6M435.1,558.4h0.6M452.3,509.8h0.6M458.4,530.5h0.6M450.0,551.7h0.6M427.6,543.4h0.6M432.9,512.4h0.6M428.5,532.2h0.6M428.1,549.7h0.6M433.7,558.7h0.6M459.2,528.8h0.6" stroke="#999" stroke-width="0.6" fill="none"/>
<path d="M430.5,515.7h0.6M421.9,565.7h0.6M459.5,536.8h0.6M436.2,507.9h0.6M456.7,512.6h0.6M429.6,557.5h0.6M458.5,518.1h0.6M447.4,560.1h0.6M426.1,559.2h0.6M427.4,556.7h0.6M464.7,511.2h0.6M428.4,540.0h0.6M430.0,535.5h0.6M437.5,560.0h0.6M460.9,505.8h0.6M423.9,551.4h0.6M460.9,540.4h0.6M461.1,520.2h0.6M427.7,559.4h0.6M444.7,505.8h0.6M456.4,506.9h0.6M459.7,548.1h0.6M461.0,534.0h0.6M464.6,514.7h0.6M451.8,499.0h0.6M457.3,499.8h0.6M423.9,556.1h0.6M420.3,552.3h0.6M459.1,520.0h0.6M458.2,537.9h0.6M422.6,547.7h0.6M420.7,551.1h0.6M426.2,546.9h0.6M432.3,557.7h0.6M457.5,544.0h0.6M430.7,508.1h0.6M452.2,508.3h0.6M447.0,503.8h0.6M462.4,516.9h0.6M429.3,536.8h0.6M455.7,510.1h0.6M426.5,521.5h0.6M428.8,554.6h0.6M439.9,500.4h0.6M456.8,508.9h0.6M462.6,514.5h0.6M428.3,540.0h0.6M428.4,553.1h0.6M463.3,511.4h0.6M424.8,560.7h0.6" stroke="#bbb" stroke-width="0.6" fill="none"/>
<path d="M447.00,509.50C449.83,509.50 452.03,510.42 454.00,512.00C455.97,513.58 457.97,516.33 458.80,519.00C459.63,521.67 459.38,525.33 459.00,528.00C458.62,530.67 457.25,532.67 456.50,535.00C455.75,537.33 455.25,539.50 454.50,542.00C453.75,544.50 453.58,547.67 452.00,550.00C450.42,552.33 447.83,554.80 445.00,556.00C442.17,557.20 437.67,557.53 435.00,557.20C432.33,556.87 430.20,555.87 429.00,554.00C427.80,552.13 427.63,548.50 427.80,546.00C427.97,543.50 429.47,541.50 430.00,539.00C430.53,536.50 430.83,534.00 431.00,531.00C431.17,528.00 430.00,524.17 431.00,521.00C432.00,517.83 434.33,513.92 437.00,512.00C439.67,510.08 444.17,509.50 447.00,509.50Z" fill="#fff" stroke="#333" stroke-width="0.6"/>
<path d="M446.89,510.24C449.63,510.24 451.77,511.13 453.68,512.66C455.58,514.20 457.52,516.87 458.33,519.45C459.14,522.04 458.90,525.60 458.53,528.18C458.15,530.77 456.83,532.71 456.10,534.97C455.37,537.24 454.89,539.34 454.16,541.76C453.43,544.19 453.27,547.26 451.74,549.52C450.20,551.79 447.69,554.18 444.95,555.34C442.20,556.51 437.83,556.83 435.25,556.51C432.66,556.18 430.59,555.21 429.43,553.40C428.26,551.59 428.10,548.07 428.26,545.64C428.42,543.22 429.88,541.28 430.40,538.85C430.91,536.43 431.20,534.00 431.37,531.09C431.53,528.18 430.40,524.47 431.37,521.39C432.34,518.32 434.60,514.52 437.19,512.66C439.77,510.80 444.14,510.24 446.89,510.24Z" fill="none" stroke="#222" stroke-width="0.5"/>
<path d="M446.77,510.98C449.43,510.98 451.50,511.84 453.35,513.33C455.20,514.82 457.08,517.40 457.86,519.91C458.65,522.41 458.41,525.86 458.05,528.37C457.69,530.87 456.41,532.75 455.70,534.95C455.00,537.14 454.53,539.18 453.82,541.53C453.12,543.88 452.96,546.85 451.47,549.05C449.98,551.24 447.55,553.56 444.89,554.69C442.23,555.81 438.00,556.13 435.49,555.81C432.98,555.50 430.98,554.56 429.85,552.81C428.72,551.05 428.57,547.64 428.72,545.29C428.88,542.94 430.29,541.06 430.79,538.71C431.29,536.36 431.57,534.01 431.73,531.19C431.89,528.37 430.79,524.76 431.73,521.79C432.67,518.81 434.86,515.13 437.37,513.33C439.88,511.53 444.11,510.98 446.77,510.98Z" fill="none" stroke="#222" stroke-width="0.5"/>
<path d="M458.86,518.98C459.39,520.94 459.45,523.23 459.02,525.23C458.60,527.24 457.61,529.35 456.33,531.00C455.04,532.66 453.21,534.17 451.31,535.15C449.42,536.12 447.09,536.75 444.96,536.85C442.84,536.95 440.48,536.56 438.54,535.77C436.60,534.98 434.69,533.64 433.32,532.12C431.96,530.59 430.86,528.58 430.34,526.62C429.81,524.66 429.75,522.37 430.18,520.37C430.60,518.36 431.59,516.25 432.87,514.60C434.16,512.94 435.99,511.43 437.89,510.45C439.78,509.48 442.11,508.85 444.24,508.75C446.36,508.65 448.72,509.04 450.66,509.83C452.60,510.62 454.51,511.96 455.88,513.48C457.24,515.01 458.34,517.02 458.86,518.98Z" fill="#333" stroke="#222" stroke-width="0.5"/>
<path d="M457.93,519.23C458.42,521.06 458.48,523.20 458.08,525.07C457.69,526.95 456.76,528.92 455.56,530.47C454.36,532.01 452.64,533.43 450.87,534.34C449.10,535.25 446.93,535.83 444.94,535.93C442.95,536.03 440.75,535.66 438.94,534.92C437.13,534.18 435.34,532.93 434.06,531.51C432.78,530.08 431.76,528.20 431.27,526.37C430.78,524.54 430.72,522.40 431.12,520.53C431.51,518.65 432.44,516.68 433.64,515.13C434.84,513.59 436.56,512.17 438.33,511.26C440.10,510.35 442.27,509.77 444.26,509.67C446.25,509.57 448.45,509.94 450.26,510.68C452.07,511.42 453.86,512.67 455.14,514.09C456.42,515.52 457.44,517.40 457.93,519.23Z" fill="#070707"/>
<path d="M452.60,520.66C452.89,521.76 452.93,523.04 452.69,524.16C452.45,525.29 451.90,526.47 451.18,527.40C450.46,528.33 449.43,529.18 448.36,529.72C447.30,530.27 446.00,530.62 444.80,530.68C443.61,530.74 442.29,530.51 441.20,530.07C440.12,529.63 439.04,528.88 438.28,528.02C437.51,527.17 436.90,526.04 436.60,524.94C436.31,523.84 436.27,522.56 436.51,521.44C436.75,520.31 437.30,519.13 438.02,518.20C438.74,517.27 439.77,516.42 440.84,515.88C441.90,515.33 443.20,514.98 444.40,514.92C445.59,514.86 446.91,515.09 448.00,515.53C449.08,515.97 450.16,516.72 450.92,517.58C451.69,518.43 452.30,519.56 452.60,520.66Z" fill="none" stroke="#444" stroke-width="0.4"/>
<path d="M448.27,547.00C448.27,548.49 447.90,550.12 447.25,551.46C446.61,552.80 445.57,554.10 444.40,555.03C443.24,555.96 441.73,556.68 440.29,557.01C438.84,557.35 437.16,557.35 435.71,557.01C434.27,556.68 432.76,555.96 431.60,555.03C430.43,554.10 429.39,552.80 428.75,551.46C428.10,550.12 427.73,548.49 427.73,547.00C427.73,545.51 428.10,543.88 428.75,542.54C429.39,541.20 430.43,539.90 431.60,538.97C432.76,538.04 434.27,537.32 435.71,536.99C437.16,536.65 438.84,536.65 440.29,536.99C441.73,537.32 443.24,538.04 444.40,538.97C445.57,539.90 446.61,541.20 447.25,542.54C447.90,543.88 448.27,545.51 448.27,547.00Z" fill="#333" stroke="#222" stroke-width="0.5"/>
<path d="M447.60,547.00C447.60,548.39 447.25,549.91 446.65,551.17C446.05,552.42 445.07,553.64 443.99,554.51C442.90,555.37 441.49,556.05 440.14,556.36C438.78,556.67 437.22,556.67 435.86,556.36C434.51,556.05 433.10,555.37 432.01,554.51C430.93,553.64 429.95,552.42 429.35,551.17C428.75,549.91 428.40,548.39 428.40,547.00C428.40,545.61 428.75,544.09 429.35,542.83C429.95,541.58 430.93,540.36 432.01,539.49C433.10,538.63 434.51,537.95 435.86,537.64C437.22,537.33 438.78,537.33 440.14,537.64C441.49,537.95 442.90,538.63 443.99,539.49C445.07,540.36 446.05,541.58 446.65,542.83C447.25,544.09 447.60,545.61 447.60,547.00Z" fill="#070707"/>
<path d="M443.76,547.00C443.76,547.83 443.55,548.75 443.19,549.50C442.83,550.25 442.24,550.98 441.59,551.50C440.94,552.02 440.09,552.43 439.28,552.62C438.47,552.80 437.53,552.80 436.72,552.62C435.91,552.43 435.06,552.02 434.41,551.50C433.76,550.98 433.17,550.25 432.81,549.50C432.45,548.75 432.24,547.83 432.24,547.00C432.24,546.17 432.45,545.25 432.81,544.50C433.17,543.75 433.76,543.02 434.41,542.50C435.06,541.98 435.91,541.57 436.72,541.38C437.53,541.20 438.47,541.20 439.28,541.38C440.09,541.57 440.94,541.98 441.59,542.50C442.24,543.02 442.83,543.75 443.19,544.50C443.55,545.25 443.76,546.17 443.76,547.00Z" fill="none" stroke="#444" stroke-width="0.4"/>
<circle cx="442.5" cy="524" r="1.6" fill="#fff"/>
<path d="M434,537.3 L446,538.5" stroke="#fff" stroke-width="1.4"/>
<circle cx="436" cy="548" r="1.1" fill="#eee"/>
<path d="M448,537 C453,540 455,545 451,551 M447,539 C451,542 453,546 449,552 M446.5,541 C449,544 451,547 447.5,553" stroke="#222" stroke-width="0.5" fill="none"/>
<text x="88.70" y="496.50" font-size="8.2" text-anchor="middle" font-weight="bold" fill="#000" stroke="#000" stroke-width="0.2" textLength="15" lengthAdjust="spacingAndGlyphs" >47,2</text>
<text x="206.35" y="496.50" font-size="8.2" text-anchor="middle" font-weight="bold" fill="#000" stroke="#000" stroke-width="0.2" textLength="15" lengthAdjust="spacingAndGlyphs" >37,2</text>
<text x="346.25" y="496.50" font-size="8.2" text-anchor="middle" font-weight="bold" fill="#000" stroke="#000" stroke-width="0.2" textLength="15" lengthAdjust="spacingAndGlyphs" >65,6</text>
<text x="463.55" y="496.50" font-size="8.2" text-anchor="middle" font-weight="bold" fill="#000" stroke="#000" stroke-width="0.2" textLength="15" lengthAdjust="spacingAndGlyphs" >60,2</text>
</svg>
</body></html>
